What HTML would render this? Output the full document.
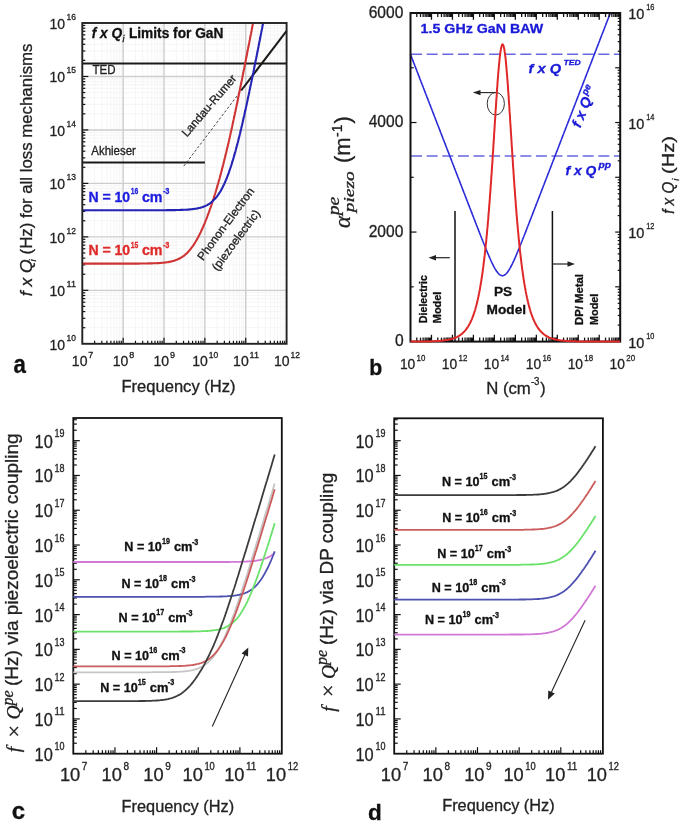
<!DOCTYPE html>
<html><head><meta charset="utf-8"><style>html,body{margin:0;padding:0;background:#fff;}svg{display:block;filter:blur(0.3px);}text{stroke-width:0.3px;}</style></head>
<body>
<svg width="685" height="825" viewBox="0 0 685 825">
<rect width="685" height="825" fill="#fff"/>
<defs><clipPath id="clipA"><rect x="82.3" y="23.0" width="204.3" height="320.8"/></clipPath></defs>
<line x1="94.60" y1="23.00" x2="94.60" y2="343.80" stroke="#f5f5f5" stroke-width="1" />
<line x1="101.80" y1="23.00" x2="101.80" y2="343.80" stroke="#f5f5f5" stroke-width="1" />
<line x1="106.90" y1="23.00" x2="106.90" y2="343.80" stroke="#f5f5f5" stroke-width="1" />
<line x1="110.86" y1="23.00" x2="110.86" y2="343.80" stroke="#f5f5f5" stroke-width="1" />
<line x1="114.10" y1="23.00" x2="114.10" y2="343.80" stroke="#f5f5f5" stroke-width="1" />
<line x1="116.83" y1="23.00" x2="116.83" y2="343.80" stroke="#f5f5f5" stroke-width="1" />
<line x1="119.20" y1="23.00" x2="119.20" y2="343.80" stroke="#f5f5f5" stroke-width="1" />
<line x1="121.29" y1="23.00" x2="121.29" y2="343.80" stroke="#f5f5f5" stroke-width="1" />
<line x1="135.46" y1="23.00" x2="135.46" y2="343.80" stroke="#f5f5f5" stroke-width="1" />
<line x1="142.66" y1="23.00" x2="142.66" y2="343.80" stroke="#f5f5f5" stroke-width="1" />
<line x1="147.76" y1="23.00" x2="147.76" y2="343.80" stroke="#f5f5f5" stroke-width="1" />
<line x1="151.72" y1="23.00" x2="151.72" y2="343.80" stroke="#f5f5f5" stroke-width="1" />
<line x1="154.96" y1="23.00" x2="154.96" y2="343.80" stroke="#f5f5f5" stroke-width="1" />
<line x1="157.69" y1="23.00" x2="157.69" y2="343.80" stroke="#f5f5f5" stroke-width="1" />
<line x1="160.06" y1="23.00" x2="160.06" y2="343.80" stroke="#f5f5f5" stroke-width="1" />
<line x1="162.15" y1="23.00" x2="162.15" y2="343.80" stroke="#f5f5f5" stroke-width="1" />
<line x1="176.32" y1="23.00" x2="176.32" y2="343.80" stroke="#f5f5f5" stroke-width="1" />
<line x1="183.52" y1="23.00" x2="183.52" y2="343.80" stroke="#f5f5f5" stroke-width="1" />
<line x1="188.62" y1="23.00" x2="188.62" y2="343.80" stroke="#f5f5f5" stroke-width="1" />
<line x1="192.58" y1="23.00" x2="192.58" y2="343.80" stroke="#f5f5f5" stroke-width="1" />
<line x1="195.82" y1="23.00" x2="195.82" y2="343.80" stroke="#f5f5f5" stroke-width="1" />
<line x1="198.55" y1="23.00" x2="198.55" y2="343.80" stroke="#f5f5f5" stroke-width="1" />
<line x1="200.92" y1="23.00" x2="200.92" y2="343.80" stroke="#f5f5f5" stroke-width="1" />
<line x1="203.01" y1="23.00" x2="203.01" y2="343.80" stroke="#f5f5f5" stroke-width="1" />
<line x1="217.18" y1="23.00" x2="217.18" y2="343.80" stroke="#f5f5f5" stroke-width="1" />
<line x1="224.38" y1="23.00" x2="224.38" y2="343.80" stroke="#f5f5f5" stroke-width="1" />
<line x1="229.48" y1="23.00" x2="229.48" y2="343.80" stroke="#f5f5f5" stroke-width="1" />
<line x1="233.44" y1="23.00" x2="233.44" y2="343.80" stroke="#f5f5f5" stroke-width="1" />
<line x1="236.68" y1="23.00" x2="236.68" y2="343.80" stroke="#f5f5f5" stroke-width="1" />
<line x1="239.41" y1="23.00" x2="239.41" y2="343.80" stroke="#f5f5f5" stroke-width="1" />
<line x1="241.78" y1="23.00" x2="241.78" y2="343.80" stroke="#f5f5f5" stroke-width="1" />
<line x1="243.87" y1="23.00" x2="243.87" y2="343.80" stroke="#f5f5f5" stroke-width="1" />
<line x1="258.04" y1="23.00" x2="258.04" y2="343.80" stroke="#f5f5f5" stroke-width="1" />
<line x1="265.24" y1="23.00" x2="265.24" y2="343.80" stroke="#f5f5f5" stroke-width="1" />
<line x1="270.34" y1="23.00" x2="270.34" y2="343.80" stroke="#f5f5f5" stroke-width="1" />
<line x1="274.30" y1="23.00" x2="274.30" y2="343.80" stroke="#f5f5f5" stroke-width="1" />
<line x1="277.54" y1="23.00" x2="277.54" y2="343.80" stroke="#f5f5f5" stroke-width="1" />
<line x1="280.27" y1="23.00" x2="280.27" y2="343.80" stroke="#f5f5f5" stroke-width="1" />
<line x1="282.64" y1="23.00" x2="282.64" y2="343.80" stroke="#f5f5f5" stroke-width="1" />
<line x1="284.73" y1="23.00" x2="284.73" y2="343.80" stroke="#f5f5f5" stroke-width="1" />
<line x1="82.30" y1="327.70" x2="286.60" y2="327.70" stroke="#f5f5f5" stroke-width="1" />
<line x1="82.30" y1="318.29" x2="286.60" y2="318.29" stroke="#f5f5f5" stroke-width="1" />
<line x1="82.30" y1="311.61" x2="286.60" y2="311.61" stroke="#f5f5f5" stroke-width="1" />
<line x1="82.30" y1="306.43" x2="286.60" y2="306.43" stroke="#f5f5f5" stroke-width="1" />
<line x1="82.30" y1="302.19" x2="286.60" y2="302.19" stroke="#f5f5f5" stroke-width="1" />
<line x1="82.30" y1="298.62" x2="286.60" y2="298.62" stroke="#f5f5f5" stroke-width="1" />
<line x1="82.30" y1="295.51" x2="286.60" y2="295.51" stroke="#f5f5f5" stroke-width="1" />
<line x1="82.30" y1="292.78" x2="286.60" y2="292.78" stroke="#f5f5f5" stroke-width="1" />
<line x1="82.30" y1="274.24" x2="286.60" y2="274.24" stroke="#f5f5f5" stroke-width="1" />
<line x1="82.30" y1="264.82" x2="286.60" y2="264.82" stroke="#f5f5f5" stroke-width="1" />
<line x1="82.30" y1="258.14" x2="286.60" y2="258.14" stroke="#f5f5f5" stroke-width="1" />
<line x1="82.30" y1="252.96" x2="286.60" y2="252.96" stroke="#f5f5f5" stroke-width="1" />
<line x1="82.30" y1="248.73" x2="286.60" y2="248.73" stroke="#f5f5f5" stroke-width="1" />
<line x1="82.30" y1="245.15" x2="286.60" y2="245.15" stroke="#f5f5f5" stroke-width="1" />
<line x1="82.30" y1="242.05" x2="286.60" y2="242.05" stroke="#f5f5f5" stroke-width="1" />
<line x1="82.30" y1="239.31" x2="286.60" y2="239.31" stroke="#f5f5f5" stroke-width="1" />
<line x1="82.30" y1="220.77" x2="286.60" y2="220.77" stroke="#f5f5f5" stroke-width="1" />
<line x1="82.30" y1="211.36" x2="286.60" y2="211.36" stroke="#f5f5f5" stroke-width="1" />
<line x1="82.30" y1="204.68" x2="286.60" y2="204.68" stroke="#f5f5f5" stroke-width="1" />
<line x1="82.30" y1="199.50" x2="286.60" y2="199.50" stroke="#f5f5f5" stroke-width="1" />
<line x1="82.30" y1="195.26" x2="286.60" y2="195.26" stroke="#f5f5f5" stroke-width="1" />
<line x1="82.30" y1="191.68" x2="286.60" y2="191.68" stroke="#f5f5f5" stroke-width="1" />
<line x1="82.30" y1="188.58" x2="286.60" y2="188.58" stroke="#f5f5f5" stroke-width="1" />
<line x1="82.30" y1="185.85" x2="286.60" y2="185.85" stroke="#f5f5f5" stroke-width="1" />
<line x1="82.30" y1="167.30" x2="286.60" y2="167.30" stroke="#f5f5f5" stroke-width="1" />
<line x1="82.30" y1="157.89" x2="286.60" y2="157.89" stroke="#f5f5f5" stroke-width="1" />
<line x1="82.30" y1="151.21" x2="286.60" y2="151.21" stroke="#f5f5f5" stroke-width="1" />
<line x1="82.30" y1="146.03" x2="286.60" y2="146.03" stroke="#f5f5f5" stroke-width="1" />
<line x1="82.30" y1="141.79" x2="286.60" y2="141.79" stroke="#f5f5f5" stroke-width="1" />
<line x1="82.30" y1="138.22" x2="286.60" y2="138.22" stroke="#f5f5f5" stroke-width="1" />
<line x1="82.30" y1="135.11" x2="286.60" y2="135.11" stroke="#f5f5f5" stroke-width="1" />
<line x1="82.30" y1="132.38" x2="286.60" y2="132.38" stroke="#f5f5f5" stroke-width="1" />
<line x1="82.30" y1="113.84" x2="286.60" y2="113.84" stroke="#f5f5f5" stroke-width="1" />
<line x1="82.30" y1="104.42" x2="286.60" y2="104.42" stroke="#f5f5f5" stroke-width="1" />
<line x1="82.30" y1="97.74" x2="286.60" y2="97.74" stroke="#f5f5f5" stroke-width="1" />
<line x1="82.30" y1="92.56" x2="286.60" y2="92.56" stroke="#f5f5f5" stroke-width="1" />
<line x1="82.30" y1="88.33" x2="286.60" y2="88.33" stroke="#f5f5f5" stroke-width="1" />
<line x1="82.30" y1="84.75" x2="286.60" y2="84.75" stroke="#f5f5f5" stroke-width="1" />
<line x1="82.30" y1="81.65" x2="286.60" y2="81.65" stroke="#f5f5f5" stroke-width="1" />
<line x1="82.30" y1="78.91" x2="286.60" y2="78.91" stroke="#f5f5f5" stroke-width="1" />
<line x1="82.30" y1="60.37" x2="286.60" y2="60.37" stroke="#f5f5f5" stroke-width="1" />
<line x1="82.30" y1="50.96" x2="286.60" y2="50.96" stroke="#f5f5f5" stroke-width="1" />
<line x1="82.30" y1="44.28" x2="286.60" y2="44.28" stroke="#f5f5f5" stroke-width="1" />
<line x1="82.30" y1="39.10" x2="286.60" y2="39.10" stroke="#f5f5f5" stroke-width="1" />
<line x1="82.30" y1="34.86" x2="286.60" y2="34.86" stroke="#f5f5f5" stroke-width="1" />
<line x1="82.30" y1="31.28" x2="286.60" y2="31.28" stroke="#f5f5f5" stroke-width="1" />
<line x1="82.30" y1="28.18" x2="286.60" y2="28.18" stroke="#f5f5f5" stroke-width="1" />
<line x1="82.30" y1="25.45" x2="286.60" y2="25.45" stroke="#f5f5f5" stroke-width="1" />
<line x1="123.16" y1="23.00" x2="123.16" y2="343.80" stroke="#cdcdcd" stroke-width="1.4" />
<line x1="164.02" y1="23.00" x2="164.02" y2="343.80" stroke="#cdcdcd" stroke-width="1.4" />
<line x1="204.88" y1="23.00" x2="204.88" y2="343.80" stroke="#cdcdcd" stroke-width="1.4" />
<line x1="245.74" y1="23.00" x2="245.74" y2="343.80" stroke="#cdcdcd" stroke-width="1.4" />
<line x1="82.30" y1="290.33" x2="286.60" y2="290.33" stroke="#cdcdcd" stroke-width="1.4" />
<line x1="82.30" y1="236.87" x2="286.60" y2="236.87" stroke="#cdcdcd" stroke-width="1.4" />
<line x1="82.30" y1="183.40" x2="286.60" y2="183.40" stroke="#cdcdcd" stroke-width="1.4" />
<line x1="82.30" y1="129.93" x2="286.60" y2="129.93" stroke="#cdcdcd" stroke-width="1.4" />
<line x1="82.30" y1="76.47" x2="286.60" y2="76.47" stroke="#cdcdcd" stroke-width="1.4" />
<line x1="94.60" y1="343.80" x2="94.60" y2="340.80" stroke="#111" stroke-width="1.2" />
<line x1="101.80" y1="343.80" x2="101.80" y2="340.80" stroke="#111" stroke-width="1.2" />
<line x1="106.90" y1="343.80" x2="106.90" y2="340.80" stroke="#111" stroke-width="1.2" />
<line x1="110.86" y1="343.80" x2="110.86" y2="340.80" stroke="#111" stroke-width="1.2" />
<line x1="114.10" y1="343.80" x2="114.10" y2="340.80" stroke="#111" stroke-width="1.2" />
<line x1="116.83" y1="343.80" x2="116.83" y2="340.80" stroke="#111" stroke-width="1.2" />
<line x1="119.20" y1="343.80" x2="119.20" y2="340.80" stroke="#111" stroke-width="1.2" />
<line x1="121.29" y1="343.80" x2="121.29" y2="340.80" stroke="#111" stroke-width="1.2" />
<line x1="123.16" y1="343.80" x2="123.16" y2="337.80" stroke="#111" stroke-width="1.2" />
<line x1="135.46" y1="343.80" x2="135.46" y2="340.80" stroke="#111" stroke-width="1.2" />
<line x1="142.66" y1="343.80" x2="142.66" y2="340.80" stroke="#111" stroke-width="1.2" />
<line x1="147.76" y1="343.80" x2="147.76" y2="340.80" stroke="#111" stroke-width="1.2" />
<line x1="151.72" y1="343.80" x2="151.72" y2="340.80" stroke="#111" stroke-width="1.2" />
<line x1="154.96" y1="343.80" x2="154.96" y2="340.80" stroke="#111" stroke-width="1.2" />
<line x1="157.69" y1="343.80" x2="157.69" y2="340.80" stroke="#111" stroke-width="1.2" />
<line x1="160.06" y1="343.80" x2="160.06" y2="340.80" stroke="#111" stroke-width="1.2" />
<line x1="162.15" y1="343.80" x2="162.15" y2="340.80" stroke="#111" stroke-width="1.2" />
<line x1="164.02" y1="343.80" x2="164.02" y2="337.80" stroke="#111" stroke-width="1.2" />
<line x1="176.32" y1="343.80" x2="176.32" y2="340.80" stroke="#111" stroke-width="1.2" />
<line x1="183.52" y1="343.80" x2="183.52" y2="340.80" stroke="#111" stroke-width="1.2" />
<line x1="188.62" y1="343.80" x2="188.62" y2="340.80" stroke="#111" stroke-width="1.2" />
<line x1="192.58" y1="343.80" x2="192.58" y2="340.80" stroke="#111" stroke-width="1.2" />
<line x1="195.82" y1="343.80" x2="195.82" y2="340.80" stroke="#111" stroke-width="1.2" />
<line x1="198.55" y1="343.80" x2="198.55" y2="340.80" stroke="#111" stroke-width="1.2" />
<line x1="200.92" y1="343.80" x2="200.92" y2="340.80" stroke="#111" stroke-width="1.2" />
<line x1="203.01" y1="343.80" x2="203.01" y2="340.80" stroke="#111" stroke-width="1.2" />
<line x1="204.88" y1="343.80" x2="204.88" y2="337.80" stroke="#111" stroke-width="1.2" />
<line x1="217.18" y1="343.80" x2="217.18" y2="340.80" stroke="#111" stroke-width="1.2" />
<line x1="224.38" y1="343.80" x2="224.38" y2="340.80" stroke="#111" stroke-width="1.2" />
<line x1="229.48" y1="343.80" x2="229.48" y2="340.80" stroke="#111" stroke-width="1.2" />
<line x1="233.44" y1="343.80" x2="233.44" y2="340.80" stroke="#111" stroke-width="1.2" />
<line x1="236.68" y1="343.80" x2="236.68" y2="340.80" stroke="#111" stroke-width="1.2" />
<line x1="239.41" y1="343.80" x2="239.41" y2="340.80" stroke="#111" stroke-width="1.2" />
<line x1="241.78" y1="343.80" x2="241.78" y2="340.80" stroke="#111" stroke-width="1.2" />
<line x1="243.87" y1="343.80" x2="243.87" y2="340.80" stroke="#111" stroke-width="1.2" />
<line x1="245.74" y1="343.80" x2="245.74" y2="337.80" stroke="#111" stroke-width="1.2" />
<line x1="258.04" y1="343.80" x2="258.04" y2="340.80" stroke="#111" stroke-width="1.2" />
<line x1="265.24" y1="343.80" x2="265.24" y2="340.80" stroke="#111" stroke-width="1.2" />
<line x1="270.34" y1="343.80" x2="270.34" y2="340.80" stroke="#111" stroke-width="1.2" />
<line x1="274.30" y1="343.80" x2="274.30" y2="340.80" stroke="#111" stroke-width="1.2" />
<line x1="277.54" y1="343.80" x2="277.54" y2="340.80" stroke="#111" stroke-width="1.2" />
<line x1="280.27" y1="343.80" x2="280.27" y2="340.80" stroke="#111" stroke-width="1.2" />
<line x1="282.64" y1="343.80" x2="282.64" y2="340.80" stroke="#111" stroke-width="1.2" />
<line x1="284.73" y1="343.80" x2="284.73" y2="340.80" stroke="#111" stroke-width="1.2" />
<line x1="82.30" y1="327.70" x2="85.30" y2="327.70" stroke="#111" stroke-width="1.2" />
<line x1="82.30" y1="318.29" x2="85.30" y2="318.29" stroke="#111" stroke-width="1.2" />
<line x1="82.30" y1="311.61" x2="85.30" y2="311.61" stroke="#111" stroke-width="1.2" />
<line x1="82.30" y1="306.43" x2="85.30" y2="306.43" stroke="#111" stroke-width="1.2" />
<line x1="82.30" y1="302.19" x2="85.30" y2="302.19" stroke="#111" stroke-width="1.2" />
<line x1="82.30" y1="298.62" x2="85.30" y2="298.62" stroke="#111" stroke-width="1.2" />
<line x1="82.30" y1="295.51" x2="85.30" y2="295.51" stroke="#111" stroke-width="1.2" />
<line x1="82.30" y1="292.78" x2="85.30" y2="292.78" stroke="#111" stroke-width="1.2" />
<line x1="82.30" y1="290.33" x2="88.30" y2="290.33" stroke="#111" stroke-width="1.2" />
<line x1="82.30" y1="274.24" x2="85.30" y2="274.24" stroke="#111" stroke-width="1.2" />
<line x1="82.30" y1="264.82" x2="85.30" y2="264.82" stroke="#111" stroke-width="1.2" />
<line x1="82.30" y1="258.14" x2="85.30" y2="258.14" stroke="#111" stroke-width="1.2" />
<line x1="82.30" y1="252.96" x2="85.30" y2="252.96" stroke="#111" stroke-width="1.2" />
<line x1="82.30" y1="248.73" x2="85.30" y2="248.73" stroke="#111" stroke-width="1.2" />
<line x1="82.30" y1="245.15" x2="85.30" y2="245.15" stroke="#111" stroke-width="1.2" />
<line x1="82.30" y1="242.05" x2="85.30" y2="242.05" stroke="#111" stroke-width="1.2" />
<line x1="82.30" y1="239.31" x2="85.30" y2="239.31" stroke="#111" stroke-width="1.2" />
<line x1="82.30" y1="236.87" x2="88.30" y2="236.87" stroke="#111" stroke-width="1.2" />
<line x1="82.30" y1="220.77" x2="85.30" y2="220.77" stroke="#111" stroke-width="1.2" />
<line x1="82.30" y1="211.36" x2="85.30" y2="211.36" stroke="#111" stroke-width="1.2" />
<line x1="82.30" y1="204.68" x2="85.30" y2="204.68" stroke="#111" stroke-width="1.2" />
<line x1="82.30" y1="199.50" x2="85.30" y2="199.50" stroke="#111" stroke-width="1.2" />
<line x1="82.30" y1="195.26" x2="85.30" y2="195.26" stroke="#111" stroke-width="1.2" />
<line x1="82.30" y1="191.68" x2="85.30" y2="191.68" stroke="#111" stroke-width="1.2" />
<line x1="82.30" y1="188.58" x2="85.30" y2="188.58" stroke="#111" stroke-width="1.2" />
<line x1="82.30" y1="185.85" x2="85.30" y2="185.85" stroke="#111" stroke-width="1.2" />
<line x1="82.30" y1="183.40" x2="88.30" y2="183.40" stroke="#111" stroke-width="1.2" />
<line x1="82.30" y1="167.30" x2="85.30" y2="167.30" stroke="#111" stroke-width="1.2" />
<line x1="82.30" y1="157.89" x2="85.30" y2="157.89" stroke="#111" stroke-width="1.2" />
<line x1="82.30" y1="151.21" x2="85.30" y2="151.21" stroke="#111" stroke-width="1.2" />
<line x1="82.30" y1="146.03" x2="85.30" y2="146.03" stroke="#111" stroke-width="1.2" />
<line x1="82.30" y1="141.79" x2="85.30" y2="141.79" stroke="#111" stroke-width="1.2" />
<line x1="82.30" y1="138.22" x2="85.30" y2="138.22" stroke="#111" stroke-width="1.2" />
<line x1="82.30" y1="135.11" x2="85.30" y2="135.11" stroke="#111" stroke-width="1.2" />
<line x1="82.30" y1="132.38" x2="85.30" y2="132.38" stroke="#111" stroke-width="1.2" />
<line x1="82.30" y1="129.93" x2="88.30" y2="129.93" stroke="#111" stroke-width="1.2" />
<line x1="82.30" y1="113.84" x2="85.30" y2="113.84" stroke="#111" stroke-width="1.2" />
<line x1="82.30" y1="104.42" x2="85.30" y2="104.42" stroke="#111" stroke-width="1.2" />
<line x1="82.30" y1="97.74" x2="85.30" y2="97.74" stroke="#111" stroke-width="1.2" />
<line x1="82.30" y1="92.56" x2="85.30" y2="92.56" stroke="#111" stroke-width="1.2" />
<line x1="82.30" y1="88.33" x2="85.30" y2="88.33" stroke="#111" stroke-width="1.2" />
<line x1="82.30" y1="84.75" x2="85.30" y2="84.75" stroke="#111" stroke-width="1.2" />
<line x1="82.30" y1="81.65" x2="85.30" y2="81.65" stroke="#111" stroke-width="1.2" />
<line x1="82.30" y1="78.91" x2="85.30" y2="78.91" stroke="#111" stroke-width="1.2" />
<line x1="82.30" y1="76.47" x2="88.30" y2="76.47" stroke="#111" stroke-width="1.2" />
<line x1="82.30" y1="60.37" x2="85.30" y2="60.37" stroke="#111" stroke-width="1.2" />
<line x1="82.30" y1="50.96" x2="85.30" y2="50.96" stroke="#111" stroke-width="1.2" />
<line x1="82.30" y1="44.28" x2="85.30" y2="44.28" stroke="#111" stroke-width="1.2" />
<line x1="82.30" y1="39.10" x2="85.30" y2="39.10" stroke="#111" stroke-width="1.2" />
<line x1="82.30" y1="34.86" x2="85.30" y2="34.86" stroke="#111" stroke-width="1.2" />
<line x1="82.30" y1="31.28" x2="85.30" y2="31.28" stroke="#111" stroke-width="1.2" />
<line x1="82.30" y1="28.18" x2="85.30" y2="28.18" stroke="#111" stroke-width="1.2" />
<line x1="82.30" y1="25.45" x2="85.30" y2="25.45" stroke="#111" stroke-width="1.2" />
<line x1="82.30" y1="63.60" x2="286.60" y2="63.60" stroke="#1a1a1a" stroke-width="2" />
<line x1="82.30" y1="162.50" x2="204.88" y2="162.50" stroke="#1a1a1a" stroke-width="2" />
<line x1="183.80" y1="166.10" x2="241.20" y2="90.50" stroke="#444" stroke-width="1" stroke-dasharray="2.5,2"/>
<line x1="241.20" y1="90.50" x2="286.60" y2="30.80" stroke="#1a1a1a" stroke-width="2" />
<path d="M82.3,263.6 83.1,263.6 83.8,263.6 84.6,263.6 85.4,263.6 86.1,263.6 86.9,263.6 87.7,263.6 88.4,263.6 89.2,263.6 90.0,263.6 90.7,263.6 91.5,263.6 92.3,263.6 93.0,263.6 93.8,263.6 94.6,263.6 95.3,263.6 96.1,263.6 96.9,263.6 97.6,263.6 98.4,263.6 99.2,263.6 99.9,263.6 100.7,263.6 101.5,263.6 102.2,263.6 103.0,263.6 103.8,263.6 104.5,263.6 105.3,263.6 106.1,263.6 106.8,263.6 107.6,263.6 108.4,263.6 109.1,263.6 109.9,263.6 110.7,263.6 111.4,263.6 112.2,263.6 113.0,263.6 113.8,263.6 114.5,263.6 115.3,263.6 116.1,263.6 116.8,263.6 117.6,263.6 118.4,263.6 119.1,263.6 119.9,263.6 120.7,263.6 121.4,263.6 122.2,263.6 123.0,263.6 123.7,263.6 124.5,263.6 125.3,263.6 126.0,263.6 126.8,263.6 127.6,263.6 128.3,263.6 129.1,263.6 129.9,263.6 130.6,263.6 131.4,263.6 132.2,263.6 132.9,263.6 133.7,263.6 134.5,263.6 135.2,263.6 136.0,263.6 136.8,263.6 137.5,263.6 138.3,263.6 139.1,263.6 139.8,263.5 140.6,263.5 141.4,263.5 142.1,263.5 142.9,263.5 143.7,263.5 144.4,263.5 145.2,263.5 146.0,263.5 146.7,263.5 147.5,263.5 148.3,263.4 149.0,263.4 149.8,263.4 150.6,263.4 151.3,263.4 152.1,263.4 152.9,263.3 153.6,263.3 154.4,263.3 155.2,263.2 155.9,263.2 156.7,263.2 157.5,263.1 158.2,263.1 159.0,263.1 159.8,263.0 160.5,263.0 161.3,262.9 162.1,262.8 162.8,262.8 163.6,262.7 164.4,262.6 165.1,262.5 165.9,262.4 166.7,262.3 167.4,262.2 168.2,262.1 169.0,261.9 169.7,261.8 170.5,261.6 171.3,261.5 172.0,261.3 172.8,261.1 173.6,260.9 174.4,260.6 175.1,260.4 175.9,260.1 176.4,259.9 176.9,259.7 177.4,259.5 177.9,259.3 178.4,259.0 179.0,258.8 179.5,258.5 180.0,258.3 180.5,258.0 181.0,257.7 181.5,257.4 182.0,257.0 182.5,256.7 183.0,256.3 183.6,256.0 184.1,255.6 184.6,255.2 185.1,254.8 185.6,254.3 186.1,253.9 186.6,253.4 187.1,252.9 187.6,252.4 188.2,251.8 188.7,251.3 189.2,250.7 189.7,250.1 190.2,249.5 190.7,248.9 191.2,248.2 191.7,247.5 192.2,246.8 192.8,246.1 193.3,245.4 193.8,244.6 194.3,243.8 194.8,243.0 195.3,242.2 195.8,241.3 196.3,240.5 196.6,240.0 196.9,239.6 197.1,239.1 197.4,238.6 197.6,238.2 197.9,237.7 198.1,237.2 198.4,236.7 198.6,236.2 198.9,235.7 199.2,235.2 199.4,234.7 199.7,234.2 199.9,233.7 200.2,233.2 200.4,232.7 200.7,232.1 200.9,231.6 201.2,231.0 201.5,230.5 201.7,229.9 202.0,229.4 202.2,228.8 202.5,228.2 202.7,227.7 203.0,227.1 203.2,226.5 203.5,225.9 203.8,225.3 204.0,224.7 204.3,224.1 204.5,223.5 204.8,222.9 205.0,222.3 205.3,221.6 205.5,221.0 205.8,220.4 206.1,219.7 206.3,219.1 206.6,218.4 206.8,217.8 207.1,217.1 207.3,216.4 207.6,215.7 207.8,215.1 208.1,214.4 208.4,213.7 208.6,213.0 208.9,212.3 209.1,211.6 209.4,210.9 209.6,210.2 209.9,209.5 210.1,208.7 210.4,208.0 210.7,207.3 210.9,206.5 211.2,205.8 211.4,205.0 211.7,204.3 211.9,203.5 212.2,202.7 212.4,202.0 212.7,201.2 213.0,200.4 213.2,199.6 213.5,198.8 213.7,198.0 214.0,197.2 214.2,196.4 214.5,195.6 214.7,194.8 215.0,194.0 215.3,193.1 215.5,192.3 215.8,191.5 216.0,190.6 216.3,189.8 216.5,188.9 216.8,188.0 217.1,187.2 217.3,186.3 217.6,185.4 217.8,184.5 218.1,183.6 218.3,182.7 218.6,181.8 218.8,180.9 219.1,180.0 219.4,179.1 219.6,178.2 219.9,177.2 220.1,176.3 220.4,175.4 220.6,174.4 220.9,173.5 221.1,172.5 221.4,171.6 221.7,170.6 221.9,169.6 222.2,168.6 222.4,167.6 222.7,166.7 222.9,165.7 223.2,164.7 223.4,163.7 223.7,162.6 224.0,161.6 224.2,160.6 224.5,159.6 224.7,158.5 225.0,157.5 225.2,156.5 225.5,155.4 225.7,154.4 226.0,153.3 226.3,152.2 226.5,151.2 226.8,150.1 227.0,149.0 227.3,147.9 227.5,146.9 227.8,145.8 228.0,144.7 228.3,143.6 228.6,142.5 228.8,141.3 229.1,140.2 229.3,139.1 229.6,138.0 229.8,136.9 230.1,135.7 230.3,134.6 230.6,133.4 230.9,132.3 231.1,131.2 231.4,130.0 231.6,128.8 231.9,127.7 232.1,126.5 232.4,125.3 232.6,124.2 232.9,123.0 233.2,121.8 233.4,120.6 233.7,119.4 233.9,118.3 234.2,117.1 234.4,115.9 234.7,114.7 234.9,113.5 235.2,112.3 235.5,111.0 235.7,109.8 236.0,108.6 236.2,107.4 236.5,106.2 236.7,105.0 237.0,103.7 237.3,102.5 237.5,101.3 237.8,100.0 238.0,98.8 238.3,97.6 238.5,96.3 238.8,95.1 239.0,93.8 239.3,92.6 239.6,91.3 239.8,90.1 240.1,88.8 240.3,87.5 240.6,86.3 240.8,85.0 241.1,83.8 241.3,82.5 241.6,81.2 241.9,80.0 242.1,78.7 242.4,77.4 242.6,76.1 242.9,74.9 243.1,73.6 243.4,72.3 243.6,71.0 243.9,69.7 244.2,68.5 244.4,67.2 244.7,65.9 244.9,64.6 245.2,63.3 245.4,62.0 245.7,60.7 245.9,59.4 246.2,58.1 246.5,56.8 246.7,55.5 247.0,54.2 247.2,52.9 247.5,51.6 247.7,50.3 248.0,49.0 248.2,47.7 248.5,46.4 248.8,45.1 249.0,43.8 249.3,42.5 249.5,41.2 249.8,39.9 250.0,38.6 250.3,37.3 250.5,36.0 250.8,34.7 251.1,33.4 251.3,32.0 251.6,30.7 251.8,29.4 252.1,28.1 252.3,26.8 252.6,25.5 252.8,24.1 253.1,22.8 253.4,21.5 253.6,20.2 253.9,18.9 254.1,17.7" fill="none" stroke="#cf3434" stroke-width="2.1" clip-path="url(#clipA)"/>
<path d="M82.3,210.2 83.1,210.2 83.8,210.2 84.6,210.2 85.4,210.2 86.1,210.2 86.9,210.2 87.7,210.2 88.4,210.2 89.2,210.2 90.0,210.2 90.7,210.2 91.5,210.2 92.3,210.2 93.0,210.2 93.8,210.2 94.6,210.2 95.3,210.2 96.1,210.2 96.9,210.2 97.6,210.2 98.4,210.2 99.2,210.2 99.9,210.2 100.7,210.2 101.5,210.2 102.2,210.2 103.0,210.2 103.8,210.2 104.5,210.2 105.3,210.2 106.1,210.2 106.8,210.2 107.6,210.2 108.4,210.2 109.1,210.2 109.9,210.2 110.7,210.2 111.4,210.2 112.2,210.2 113.0,210.2 113.8,210.2 114.5,210.2 115.3,210.2 116.1,210.2 116.8,210.2 117.6,210.2 118.4,210.2 119.1,210.2 119.9,210.2 120.7,210.2 121.4,210.2 122.2,210.2 123.0,210.2 123.7,210.2 124.5,210.2 125.3,210.2 126.0,210.2 126.8,210.2 127.6,210.2 128.3,210.2 129.1,210.2 129.9,210.2 130.6,210.2 131.4,210.2 132.2,210.2 132.9,210.2 133.7,210.2 134.5,210.2 135.2,210.2 136.0,210.2 136.8,210.2 137.5,210.2 138.3,210.2 139.1,210.2 139.8,210.2 140.6,210.2 141.4,210.2 142.1,210.2 142.9,210.2 143.7,210.2 144.4,210.2 145.2,210.2 146.0,210.2 146.7,210.2 147.5,210.2 148.3,210.2 149.0,210.2 149.8,210.2 150.6,210.2 151.3,210.2 152.1,210.2 152.9,210.2 153.6,210.2 154.4,210.2 155.2,210.2 155.9,210.2 156.7,210.2 157.5,210.2 158.2,210.2 159.0,210.2 159.8,210.2 160.5,210.2 161.3,210.2 162.1,210.2 162.8,210.2 163.6,210.2 164.4,210.2 165.1,210.2 165.9,210.2 166.7,210.1 167.4,210.1 168.2,210.1 169.0,210.1 169.7,210.1 170.5,210.1 171.3,210.1 172.0,210.1 172.8,210.1 173.6,210.1 174.4,210.1 175.1,210.1 175.9,210.0 176.7,210.0 177.4,210.0 178.2,210.0 179.0,210.0 179.7,210.0 180.5,209.9 181.3,209.9 182.0,209.9 182.8,209.9 183.6,209.8 184.3,209.8 185.1,209.7 185.9,209.7 186.6,209.7 187.4,209.6 188.2,209.6 188.9,209.5 189.7,209.4 190.5,209.4 191.2,209.3 192.0,209.2 192.8,209.1 193.5,209.0 194.3,208.9 195.1,208.8 195.8,208.7 196.6,208.6 197.4,208.4 198.1,208.3 198.9,208.1 199.7,207.9 200.4,207.7 201.2,207.5 202.0,207.3 202.7,207.0 203.5,206.7 204.0,206.5 204.5,206.3 205.0,206.1 205.5,205.9 206.1,205.6 206.6,205.4 207.1,205.1 207.6,204.8 208.1,204.5 208.6,204.2 209.1,203.9 209.6,203.6 210.1,203.2 210.7,202.8 211.2,202.4 211.7,202.0 212.2,201.6 212.7,201.1 213.2,200.6 213.7,200.1 214.2,199.6 214.7,199.1 215.3,198.5 215.8,197.9 216.3,197.3 216.8,196.7 217.3,196.0 217.8,195.3 218.3,194.6 218.8,193.8 219.4,193.0 219.9,192.2 220.4,191.4 220.9,190.5 221.1,190.0 221.4,189.6 221.7,189.1 221.9,188.6 222.2,188.1 222.4,187.7 222.7,187.2 222.9,186.6 223.2,186.1 223.4,185.6 223.7,185.1 224.0,184.5 224.2,184.0 224.5,183.4 224.7,182.9 225.0,182.3 225.2,181.7 225.5,181.1 225.7,180.5 226.0,179.9 226.3,179.3 226.5,178.6 226.8,178.0 227.0,177.3 227.3,176.7 227.5,176.0 227.8,175.4 228.0,174.7 228.3,174.0 228.6,173.3 228.8,172.6 229.1,171.9 229.3,171.1 229.6,170.4 229.8,169.6 230.1,168.9 230.3,168.1 230.6,167.4 230.9,166.6 231.1,165.8 231.4,165.0 231.6,164.2 231.9,163.4 232.1,162.6 232.4,161.7 232.6,160.9 232.9,160.1 233.2,159.2 233.4,158.3 233.7,157.5 233.9,156.6 234.2,155.7 234.4,154.8 234.7,153.9 234.9,153.0 235.2,152.1 235.5,151.1 235.7,150.2 236.0,149.3 236.2,148.3 236.5,147.4 236.7,146.4 237.0,145.4 237.3,144.4 237.5,143.5 237.8,142.5 238.0,141.5 238.3,140.5 238.5,139.5 238.8,138.4 239.0,137.4 239.3,136.4 239.6,135.3 239.8,134.3 240.1,133.2 240.3,132.2 240.6,131.1 240.8,130.1 241.1,129.0 241.3,127.9 241.6,126.8 241.9,125.7 242.1,124.6 242.4,123.5 242.6,122.4 242.9,121.3 243.1,120.2 243.4,119.1 243.6,117.9 243.9,116.8 244.2,115.7 244.4,114.5 244.7,113.4 244.9,112.2 245.2,111.1 245.4,109.9 245.7,108.7 245.9,107.6 246.2,106.4 246.5,105.2 246.7,104.0 247.0,102.8 247.2,101.7 247.5,100.5 247.7,99.3 248.0,98.1 248.2,96.9 248.5,95.7 248.8,94.5 249.0,93.2 249.3,92.0 249.5,90.8 249.8,89.6 250.0,88.4 250.3,87.1 250.5,85.9 250.8,84.7 251.1,83.4 251.3,82.2 251.6,81.0 251.8,79.7 252.1,78.5 252.3,77.2 252.6,76.0 252.8,74.7 253.1,73.5 253.4,72.2 253.6,70.9 253.9,69.7 254.1,68.4 254.4,67.1 254.6,65.9 254.9,64.6 255.1,63.3 255.4,62.1 255.7,60.8 255.9,59.5 256.2,58.2 256.4,57.0 256.7,55.7 256.9,54.4 257.2,53.1 257.5,51.8 257.7,50.5 258.0,49.2 258.2,47.9 258.5,46.7 258.7,45.4 259.0,44.1 259.2,42.8 259.5,41.5 259.8,40.2 260.0,38.9 260.3,37.6 260.5,36.3 260.8,35.0 261.0,33.7 261.3,32.4 261.5,31.1 261.8,29.8 262.1,28.5 262.3,27.1 262.6,25.8 262.8,24.5 263.1,23.2 263.3,21.9 263.6,20.6 263.8,19.3 264.1,18.0 264.4,17.7" fill="none" stroke="#2424b4" stroke-width="2.1" clip-path="url(#clipA)"/>
<rect x="82.3" y="23.0" width="204.3" height="320.8" fill="none" stroke="#222" stroke-width="1.9"/>
<text x="91.70" y="37.70" font-size="14" text-anchor="start" font-weight="bold" font-style="italic" fill="#111" font-family="Liberation Sans, sans-serif" textLength="30.5" lengthAdjust="spacingAndGlyphs"  stroke="#111">f x Q</text>
<text x="122.60" y="42.00" font-size="9" text-anchor="start" font-weight="normal" font-style="italic" fill="#111" font-family="Liberation Sans, sans-serif"  stroke="#111">i</text>
<text x="128.90" y="37.70" font-size="14" text-anchor="start" font-weight="bold" font-style="normal" fill="#111" font-family="Liberation Sans, sans-serif" textLength="94.5" lengthAdjust="spacingAndGlyphs"  stroke="#111">Limits for GaN</text>
<text x="92.60" y="73.90" font-size="12" text-anchor="start" font-weight="normal" font-style="normal" fill="#222" font-family="Liberation Sans, sans-serif" textLength="23" lengthAdjust="spacingAndGlyphs"  stroke="#222">TED</text>
<text x="91.30" y="155.30" font-size="12" text-anchor="start" font-weight="normal" font-style="normal" fill="#222" font-family="Liberation Sans, sans-serif" textLength="44.5" lengthAdjust="spacingAndGlyphs"  stroke="#222">Akhieser</text>
<text x="0" y="0" transform="translate(186.9,137.6) rotate(-49.5)" font-size="11.6" fill="#222" font-family="Liberation Sans, sans-serif" stroke="#222">Landau-Rumer</text>
<text x="0" y="0" transform="translate(203,261.2) rotate(-53.5)" font-size="11.7" fill="#222" font-family="Liberation Sans, sans-serif" stroke="#222">Phonon-Electron</text>
<text x="0" y="0" transform="translate(217.5,271.5) rotate(-53.5)" font-size="11.6" fill="#222" font-family="Liberation Sans, sans-serif" stroke="#222">(piezoelectric)</text>
<text x="88.40" y="201.90" font-size="14.2" text-anchor="start" font-weight="bold" font-style="normal" fill="#1c1ce0" font-family="Liberation Sans, sans-serif" textLength="41.8" lengthAdjust="spacingAndGlyphs"  stroke="#1c1ce0">N = 10</text>
<text x="130.80" y="194.30" font-size="9.5" text-anchor="start" font-weight="bold" font-style="normal" fill="#1c1ce0" font-family="Liberation Sans, sans-serif" textLength="7.6" lengthAdjust="spacingAndGlyphs"  stroke="#1c1ce0">16</text>
<text x="141.90" y="201.90" font-size="14.2" text-anchor="start" font-weight="bold" font-style="normal" fill="#1c1ce0" font-family="Liberation Sans, sans-serif" textLength="20.6" lengthAdjust="spacingAndGlyphs"  stroke="#1c1ce0">cm</text>
<text x="162.90" y="194.30" font-size="9.5" text-anchor="start" font-weight="bold" font-style="normal" fill="#1c1ce0" font-family="Liberation Sans, sans-serif" textLength="6.6" lengthAdjust="spacingAndGlyphs"  stroke="#1c1ce0">-3</text>
<text x="88.40" y="255.10" font-size="14.2" text-anchor="start" font-weight="bold" font-style="normal" fill="#e02a2a" font-family="Liberation Sans, sans-serif" textLength="41.8" lengthAdjust="spacingAndGlyphs"  stroke="#e02a2a">N = 10</text>
<text x="130.80" y="247.50" font-size="9.5" text-anchor="start" font-weight="bold" font-style="normal" fill="#e02a2a" font-family="Liberation Sans, sans-serif" textLength="7.6" lengthAdjust="spacingAndGlyphs"  stroke="#e02a2a">15</text>
<text x="141.90" y="255.10" font-size="14.2" text-anchor="start" font-weight="bold" font-style="normal" fill="#e02a2a" font-family="Liberation Sans, sans-serif" textLength="20.6" lengthAdjust="spacingAndGlyphs"  stroke="#e02a2a">cm</text>
<text x="162.90" y="247.50" font-size="9.5" text-anchor="start" font-weight="bold" font-style="normal" fill="#e02a2a" font-family="Liberation Sans, sans-serif" textLength="6.6" lengthAdjust="spacingAndGlyphs"  stroke="#e02a2a">-3</text>
<text x="49.40" y="349.60" font-size="15.5" text-anchor="start" font-weight="normal" font-style="normal" fill="#222" font-family="Liberation Sans, sans-serif" textLength="15.6" lengthAdjust="spacingAndGlyphs"  stroke="#222">10</text>
<text x="66.60" y="340.80" font-size="8.6" text-anchor="start" font-weight="normal" font-style="normal" fill="#222" font-family="Liberation Sans, sans-serif" textLength="9.4" lengthAdjust="spacingAndGlyphs"  stroke="#222">10</text>
<text x="49.40" y="296.13" font-size="15.5" text-anchor="start" font-weight="normal" font-style="normal" fill="#222" font-family="Liberation Sans, sans-serif" textLength="15.6" lengthAdjust="spacingAndGlyphs"  stroke="#222">10</text>
<text x="66.60" y="287.33" font-size="8.6" text-anchor="start" font-weight="normal" font-style="normal" fill="#222" font-family="Liberation Sans, sans-serif" textLength="9.4" lengthAdjust="spacingAndGlyphs"  stroke="#222">11</text>
<text x="49.40" y="242.67" font-size="15.5" text-anchor="start" font-weight="normal" font-style="normal" fill="#222" font-family="Liberation Sans, sans-serif" textLength="15.6" lengthAdjust="spacingAndGlyphs"  stroke="#222">10</text>
<text x="66.60" y="233.87" font-size="8.6" text-anchor="start" font-weight="normal" font-style="normal" fill="#222" font-family="Liberation Sans, sans-serif" textLength="9.4" lengthAdjust="spacingAndGlyphs"  stroke="#222">12</text>
<text x="49.40" y="189.20" font-size="15.5" text-anchor="start" font-weight="normal" font-style="normal" fill="#222" font-family="Liberation Sans, sans-serif" textLength="15.6" lengthAdjust="spacingAndGlyphs"  stroke="#222">10</text>
<text x="66.60" y="180.40" font-size="8.6" text-anchor="start" font-weight="normal" font-style="normal" fill="#222" font-family="Liberation Sans, sans-serif" textLength="9.4" lengthAdjust="spacingAndGlyphs"  stroke="#222">13</text>
<text x="49.40" y="135.73" font-size="15.5" text-anchor="start" font-weight="normal" font-style="normal" fill="#222" font-family="Liberation Sans, sans-serif" textLength="15.6" lengthAdjust="spacingAndGlyphs"  stroke="#222">10</text>
<text x="66.60" y="126.93" font-size="8.6" text-anchor="start" font-weight="normal" font-style="normal" fill="#222" font-family="Liberation Sans, sans-serif" textLength="9.4" lengthAdjust="spacingAndGlyphs"  stroke="#222">14</text>
<text x="49.40" y="82.27" font-size="15.5" text-anchor="start" font-weight="normal" font-style="normal" fill="#222" font-family="Liberation Sans, sans-serif" textLength="15.6" lengthAdjust="spacingAndGlyphs"  stroke="#222">10</text>
<text x="66.60" y="73.47" font-size="8.6" text-anchor="start" font-weight="normal" font-style="normal" fill="#222" font-family="Liberation Sans, sans-serif" textLength="9.4" lengthAdjust="spacingAndGlyphs"  stroke="#222">15</text>
<text x="49.40" y="28.80" font-size="15.5" text-anchor="start" font-weight="normal" font-style="normal" fill="#222" font-family="Liberation Sans, sans-serif" textLength="15.6" lengthAdjust="spacingAndGlyphs"  stroke="#222">10</text>
<text x="66.60" y="20.00" font-size="8.6" text-anchor="start" font-weight="normal" font-style="normal" fill="#222" font-family="Liberation Sans, sans-serif" textLength="9.4" lengthAdjust="spacingAndGlyphs"  stroke="#222">16</text>
<text x="71.85" y="365.80" font-size="15.5" text-anchor="start" font-weight="normal" font-style="normal" fill="#222" font-family="Liberation Sans, sans-serif" textLength="15.6" lengthAdjust="spacingAndGlyphs"  stroke="#222">10</text>
<text x="88.35" y="357.80" font-size="8.6" text-anchor="start" font-weight="normal" font-style="normal" fill="#222" font-family="Liberation Sans, sans-serif" textLength="5.0" lengthAdjust="spacingAndGlyphs"  stroke="#222">7</text>
<text x="112.71" y="365.80" font-size="15.5" text-anchor="start" font-weight="normal" font-style="normal" fill="#222" font-family="Liberation Sans, sans-serif" textLength="15.6" lengthAdjust="spacingAndGlyphs"  stroke="#222">10</text>
<text x="129.21" y="357.80" font-size="8.6" text-anchor="start" font-weight="normal" font-style="normal" fill="#222" font-family="Liberation Sans, sans-serif" textLength="5.0" lengthAdjust="spacingAndGlyphs"  stroke="#222">8</text>
<text x="153.57" y="365.80" font-size="15.5" text-anchor="start" font-weight="normal" font-style="normal" fill="#222" font-family="Liberation Sans, sans-serif" textLength="15.6" lengthAdjust="spacingAndGlyphs"  stroke="#222">10</text>
<text x="170.07" y="357.80" font-size="8.6" text-anchor="start" font-weight="normal" font-style="normal" fill="#222" font-family="Liberation Sans, sans-serif" textLength="5.0" lengthAdjust="spacingAndGlyphs"  stroke="#222">9</text>
<text x="192.23" y="365.80" font-size="15.5" text-anchor="start" font-weight="normal" font-style="normal" fill="#222" font-family="Liberation Sans, sans-serif" textLength="15.6" lengthAdjust="spacingAndGlyphs"  stroke="#222">10</text>
<text x="208.73" y="357.80" font-size="8.6" text-anchor="start" font-weight="normal" font-style="normal" fill="#222" font-family="Liberation Sans, sans-serif" textLength="9.4" lengthAdjust="spacingAndGlyphs"  stroke="#222">10</text>
<text x="233.09" y="365.80" font-size="15.5" text-anchor="start" font-weight="normal" font-style="normal" fill="#222" font-family="Liberation Sans, sans-serif" textLength="15.6" lengthAdjust="spacingAndGlyphs"  stroke="#222">10</text>
<text x="249.59" y="357.80" font-size="8.6" text-anchor="start" font-weight="normal" font-style="normal" fill="#222" font-family="Liberation Sans, sans-serif" textLength="9.4" lengthAdjust="spacingAndGlyphs"  stroke="#222">11</text>
<text x="273.95" y="365.80" font-size="15.5" text-anchor="start" font-weight="normal" font-style="normal" fill="#222" font-family="Liberation Sans, sans-serif" textLength="15.6" lengthAdjust="spacingAndGlyphs"  stroke="#222">10</text>
<text x="290.45" y="357.80" font-size="8.6" text-anchor="start" font-weight="normal" font-style="normal" fill="#222" font-family="Liberation Sans, sans-serif" textLength="9.4" lengthAdjust="spacingAndGlyphs"  stroke="#222">12</text>
<text x="121.50" y="392.10" font-size="16" text-anchor="start" font-weight="normal" font-style="normal" fill="#222" font-family="Liberation Sans, sans-serif" textLength="114" lengthAdjust="spacingAndGlyphs"  stroke="#222">Frequency (Hz)</text>
<text x="13.40" y="372.90" font-size="25" text-anchor="start" font-weight="bold" font-style="normal" fill="#111" font-family="Liberation Sans, sans-serif" textLength="12.4" lengthAdjust="spacingAndGlyphs"  stroke="#111">a</text>
<g transform="rotate(-90)" fill="#222" font-family="Liberation Sans, sans-serif" font-size="16.5" stroke="#222"><text x="-296.3" y="32.1" font-style="italic" textLength="37" lengthAdjust="spacingAndGlyphs">f x Q</text><text x="-261.6" y="36.2" font-style="italic" font-size="9.5">i</text><text x="-254.4" y="32.1" textLength="210.9" lengthAdjust="spacingAndGlyphs">(Hz) for all loss mechanisms</text></g>
<line x1="410.50" y1="54.20" x2="620.20" y2="54.20" stroke="#6868e0" stroke-width="1.5" stroke-dasharray="11,4.6" stroke-dashoffset="-0.6"/>
<line x1="410.50" y1="156.00" x2="620.20" y2="156.00" stroke="#6868e0" stroke-width="1.5" stroke-dasharray="11,4.6" stroke-dashoffset="-0.6"/>
<line x1="455.00" y1="211.00" x2="455.00" y2="341.60" stroke="#111" stroke-width="1.5" />
<line x1="552.40" y1="211.00" x2="552.40" y2="341.60" stroke="#111" stroke-width="1.5" />
<line x1="449.80" y1="257.70" x2="435.00" y2="257.70" stroke="#222" stroke-width="1.2" />
<path d="M428.5,257.7 L436,255 L436,260.4 Z" fill="#222"/>
<line x1="552.30" y1="264.00" x2="568.00" y2="264.00" stroke="#222" stroke-width="1.2" />
<path d="M575,264.0 L567.5,261.3 L567.5,266.7 Z" fill="#222"/>
<path d="M410.5,54.4 410.8,55.2 411.1,56.0 411.4,56.7 411.7,57.5 412.0,58.3 412.3,59.1 412.6,59.8 412.9,60.6 413.2,61.4 413.5,62.2 413.8,62.9 414.1,63.7 414.4,64.5 414.7,65.3 415.0,66.0 415.3,66.8 415.6,67.6 415.9,68.4 416.2,69.1 416.5,69.9 416.8,70.7 417.1,71.5 417.4,72.2 417.7,73.0 418.0,73.8 418.3,74.6 418.6,75.4 418.9,76.1 419.2,76.9 419.5,77.7 419.8,78.5 420.1,79.2 420.4,80.0 420.7,80.8 421.0,81.6 421.3,82.3 421.6,83.1 421.9,83.9 422.2,84.7 422.5,85.4 422.8,86.2 423.1,87.0 423.4,87.8 423.7,88.5 424.0,89.3 424.3,90.1 424.6,90.9 424.9,91.6 425.2,92.4 425.5,93.2 425.8,94.0 426.1,94.7 426.4,95.5 426.7,96.3 427.0,97.1 427.3,97.8 427.6,98.6 427.9,99.4 428.2,100.2 428.5,100.9 428.8,101.7 429.1,102.5 429.4,103.3 429.7,104.1 430.0,104.8 430.3,105.6 430.6,106.4 430.9,107.2 431.2,107.9 431.5,108.7 431.8,109.5 432.1,110.3 432.4,111.0 432.7,111.8 433.0,112.6 433.3,113.4 433.6,114.1 433.9,114.9 434.2,115.7 434.5,116.5 434.8,117.2 435.1,118.0 435.4,118.8 435.7,119.6 436.0,120.3 436.3,121.1 436.6,121.9 436.9,122.7 437.2,123.4 437.5,124.2 437.8,125.0 438.1,125.8 438.4,126.5 438.7,127.3 439.0,128.1 439.3,128.9 439.6,129.6 439.9,130.4 440.2,131.2 440.5,132.0 440.8,132.8 441.1,133.5 441.4,134.3 441.7,135.1 442.0,135.9 442.3,136.6 442.6,137.4 442.9,138.2 443.2,139.0 443.5,139.7 443.8,140.5 444.1,141.3 444.4,142.1 444.7,142.8 445.0,143.6 445.3,144.4 445.6,145.2 445.9,145.9 446.2,146.7 446.5,147.5 446.8,148.3 447.1,149.0 447.4,149.8 447.7,150.6 448.0,151.4 448.3,152.1 448.6,152.9 448.9,153.7 449.2,154.5 449.5,155.2 449.8,156.0 450.1,156.8 450.4,157.6 450.7,158.3 451.0,159.1 451.3,159.9 451.6,160.7 451.9,161.5 452.2,162.2 452.5,163.0 452.8,163.8 453.1,164.6 453.4,165.3 453.7,166.1 454.0,166.9 454.3,167.7 454.6,168.4 454.9,169.2 455.2,170.0 455.5,170.8 455.8,171.5 456.1,172.3 456.4,173.1 456.7,173.9 457.0,174.6 457.3,175.4 457.6,176.2 457.9,177.0 458.2,177.7 458.5,178.5 458.8,179.3 459.1,180.1 459.4,180.8 459.7,181.6 460.0,182.4 460.3,183.2 460.6,183.9 460.9,184.7 461.2,185.5 461.5,186.3 461.8,187.0 462.1,187.8 462.4,188.6 462.7,189.4 463.0,190.1 463.3,190.9 463.6,191.7 463.9,192.5 464.2,193.2 464.5,194.0 464.8,194.8 465.1,195.6 465.4,196.3 465.7,197.1 466.0,197.9 466.3,198.7 466.6,199.4 466.9,200.2 467.2,201.0 467.5,201.8 467.8,202.5 468.1,203.3 468.4,204.1 468.7,204.9 469.0,205.6 469.3,206.4 469.6,207.2 469.9,208.0 470.2,208.7 470.5,209.5 470.8,210.3 471.1,211.1 471.4,211.8 471.7,212.6 472.0,213.4 472.3,214.2 472.6,214.9 472.9,215.7 473.2,216.5 473.5,217.3 473.8,218.0 474.1,218.8 474.4,219.6 474.7,220.3 475.0,221.1 475.3,221.9 475.6,222.7 475.9,223.4 476.2,224.2 476.5,225.0 476.8,225.7 477.1,226.5 477.4,227.3 477.7,228.1 478.0,228.8 478.3,229.6 478.6,230.4 478.9,231.1 479.2,231.9 479.5,232.7 479.8,233.4 480.1,234.2 480.4,235.0 480.7,235.7 481.0,236.5 481.3,237.2 481.6,238.0 481.9,238.8 482.2,239.5 482.5,240.3 482.8,241.0 483.1,241.8 483.4,242.5 483.7,243.3 484.0,244.0 484.3,244.8 484.6,245.5 484.9,246.3 485.2,247.0 485.5,247.8 485.8,248.5 486.1,249.2 486.4,250.0 486.7,250.7 487.0,251.4 487.3,252.1 487.6,252.9 487.9,253.6 488.2,254.3 488.5,255.0 488.8,255.7 489.1,256.4 489.4,257.1 489.7,257.8 490.0,258.5 490.3,259.1 490.6,259.8 490.9,260.5 491.2,261.1 491.5,261.8 491.8,262.4 492.1,263.1 492.4,263.7 492.7,264.3 493.0,264.9 493.3,265.5 493.6,266.1 493.9,266.7 494.2,267.2 494.5,267.8 494.8,268.3 495.1,268.8 495.4,269.3 495.7,269.8 496.0,270.3 496.3,270.8 496.6,271.2 496.9,271.6 497.2,272.1 497.8,272.8 498.4,273.5 499.0,274.1 499.6,274.6 500.2,275.0 500.8,275.3 501.4,275.6 502.0,275.7 502.9,275.7 503.5,275.5 504.1,275.3 504.7,275.0 505.3,274.5 505.9,274.0 506.5,273.4 507.1,272.7 507.7,271.9 508.0,271.5 508.3,271.1 508.6,270.6 508.9,270.2 509.2,269.7 509.5,269.2 509.8,268.7 510.1,268.1 510.4,267.6 510.7,267.0 511.0,266.5 511.3,265.9 511.6,265.3 511.9,264.7 512.2,264.1 512.5,263.5 512.8,262.8 513.1,262.2 513.4,261.6 513.7,260.9 514.0,260.3 514.3,259.6 514.6,258.9 514.9,258.2 515.2,257.6 515.5,256.9 515.8,256.2 516.1,255.5 516.4,254.8 516.7,254.1 517.0,253.3 517.3,252.6 517.6,251.9 517.9,251.2 518.2,250.4 518.5,249.7 518.8,249.0 519.1,248.2 519.4,247.5 519.7,246.8 520.0,246.0 520.3,245.3 520.6,244.5 520.9,243.8 521.2,243.0 521.5,242.3 521.8,241.5 522.1,240.8 522.4,240.0 522.7,239.3 523.0,238.5 523.3,237.7 523.6,237.0 523.9,236.2 524.2,235.5 524.5,234.7 524.8,233.9 525.1,233.2 525.4,232.4 525.7,231.6 526.0,230.9 526.3,230.1 526.6,229.3 526.9,228.6 527.2,227.8 527.5,227.0 527.8,226.3 528.1,225.5 528.4,224.7 528.7,223.9 529.0,223.2 529.3,222.4 529.6,221.6 529.9,220.9 530.2,220.1 530.5,219.3 530.8,218.5 531.1,217.8 531.4,217.0 531.7,216.2 532.0,215.5 532.3,214.7 532.6,213.9 532.9,213.1 533.2,212.4 533.5,211.6 533.8,210.8 534.1,210.0 534.4,209.3 534.7,208.5 535.0,207.7 535.3,206.9 535.6,206.2 535.9,205.4 536.2,204.6 536.5,203.8 536.8,203.1 537.1,202.3 537.4,201.5 537.7,200.7 538.0,200.0 538.3,199.2 538.6,198.4 538.9,197.6 539.2,196.9 539.5,196.1 539.8,195.3 540.1,194.5 540.4,193.8 540.7,193.0 541.0,192.2 541.3,191.4 541.6,190.7 541.9,189.9 542.2,189.1 542.5,188.3 542.8,187.6 543.1,186.8 543.4,186.0 543.7,185.2 544.0,184.5 544.3,183.7 544.6,182.9 544.9,182.1 545.2,181.4 545.5,180.6 545.8,179.8 546.1,179.0 546.4,178.3 546.7,177.5 547.0,176.7 547.3,175.9 547.6,175.2 547.9,174.4 548.2,173.6 548.5,172.8 548.8,172.1 549.1,171.3 549.4,170.5 549.7,169.7 550.0,168.9 550.3,168.2 550.6,167.4 550.9,166.6 551.2,165.8 551.5,165.1 551.8,164.3 552.1,163.5 552.4,162.7 552.7,162.0 553.0,161.2 553.3,160.4 553.6,159.6 553.9,158.9 554.2,158.1 554.5,157.3 554.8,156.5 555.1,155.8 555.4,155.0 555.7,154.2 556.0,153.4 556.3,152.7 556.6,151.9 556.9,151.1 557.2,150.3 557.5,149.6 557.8,148.8 558.1,148.0 558.4,147.2 558.7,146.5 559.0,145.7 559.3,144.9 559.6,144.1 559.9,143.4 560.2,142.6 560.5,141.8 560.8,141.0 561.1,140.2 561.4,139.5 561.7,138.7 562.0,137.9 562.3,137.1 562.6,136.4 562.9,135.6 563.2,134.8 563.5,134.0 563.8,133.3 564.1,132.5 564.4,131.7 564.7,130.9 565.0,130.2 565.3,129.4 565.6,128.6 565.9,127.8 566.2,127.1 566.5,126.3 566.8,125.5 567.1,124.7 567.4,124.0 567.7,123.2 568.0,122.4 568.3,121.6 568.6,120.9 568.9,120.1 569.2,119.3 569.5,118.5 569.8,117.8 570.1,117.0 570.4,116.2 570.7,115.4 571.0,114.7 571.3,113.9 571.6,113.1 571.9,112.3 572.2,111.6 572.5,110.8 572.8,110.0 573.1,109.2 573.4,108.4 573.7,107.7 574.0,106.9 574.3,106.1 574.6,105.3 574.9,104.6 575.2,103.8 575.5,103.0 575.8,102.2 576.1,101.5 576.4,100.7 576.7,99.9 577.0,99.1 577.3,98.4 577.6,97.6 577.9,96.8 578.2,96.0 578.5,95.3 578.8,94.5 579.1,93.7 579.4,92.9 579.7,92.2 580.0,91.4 580.3,90.6 580.6,89.8 580.9,89.1 581.2,88.3 581.5,87.5 581.8,86.7 582.1,86.0 582.4,85.2 582.7,84.4 583.0,83.6 583.3,82.9 583.6,82.1 583.9,81.3 584.2,80.5 584.5,79.7 584.8,79.0 585.1,78.2 585.4,77.4 585.7,76.6 586.0,75.9 586.3,75.1 586.6,74.3 586.9,73.5 587.2,72.8 587.5,72.0 587.8,71.2 588.1,70.4 588.4,69.7 588.7,68.9 589.0,68.1 589.3,67.3 589.6,66.6 589.9,65.8 590.2,65.0 590.5,64.2 590.8,63.5 591.1,62.7 591.4,61.9 591.7,61.1 592.0,60.4 592.3,59.6 592.6,58.8 592.9,58.0 593.2,57.3 593.5,56.5 593.8,55.7 594.1,54.9 594.4,54.2 594.7,53.4 595.0,52.6 595.3,51.8 595.6,51.0 595.9,50.3 596.2,49.5 596.5,48.7 596.8,47.9 597.1,47.2 597.4,46.4 597.7,45.6 598.0,44.8 598.3,44.1 598.6,43.3 598.9,42.5 599.2,41.7 599.5,41.0 599.8,40.2 600.1,39.4 600.4,38.6 600.7,37.9 601.0,37.1 601.3,36.3 601.6,35.5 601.9,34.8 602.2,34.0 602.5,33.2 602.8,32.4 603.1,31.7 603.4,30.9 603.7,30.1 604.0,29.3 604.3,28.6 604.6,27.8 604.9,27.0 605.2,26.2 605.5,25.5 605.8,24.7 606.1,23.9 606.4,23.1 606.7,22.3 607.0,21.6 607.3,20.8 607.6,20.0 607.9,19.2 608.2,18.5 608.5,17.7 608.8,16.9 609.1,16.1 609.4,15.4 609.7,14.6 610.0,13.8 610.3,13.0" fill="none" stroke="#2a2ad8" stroke-width="1.6"/>
<ellipse cx="495.8" cy="103.7" rx="8.6" ry="11.3" fill="none" stroke="#333" stroke-width="1"/>
<line x1="495.80" y1="92.60" x2="479.00" y2="92.60" stroke="#222" stroke-width="1.1" />
<path d="M472.8,92.6 L480.5,90 L480.5,95.2 Z" fill="#222"/>
<rect x="410.5" y="13.0" width="209.70000000000005" height="328.6" fill="none" stroke="#111" stroke-width="2"/>
<line x1="416.81" y1="13.00" x2="416.81" y2="17.00" stroke="#111" stroke-width="1.3" />
<line x1="416.81" y1="341.60" x2="416.81" y2="337.60" stroke="#111" stroke-width="1.3" />
<line x1="420.51" y1="13.00" x2="420.51" y2="17.00" stroke="#111" stroke-width="1.3" />
<line x1="420.51" y1="341.60" x2="420.51" y2="337.60" stroke="#111" stroke-width="1.3" />
<line x1="423.13" y1="13.00" x2="423.13" y2="17.00" stroke="#111" stroke-width="1.3" />
<line x1="423.13" y1="341.60" x2="423.13" y2="337.60" stroke="#111" stroke-width="1.3" />
<line x1="425.16" y1="13.00" x2="425.16" y2="17.00" stroke="#111" stroke-width="1.3" />
<line x1="425.16" y1="341.60" x2="425.16" y2="337.60" stroke="#111" stroke-width="1.3" />
<line x1="426.82" y1="13.00" x2="426.82" y2="17.00" stroke="#111" stroke-width="1.3" />
<line x1="426.82" y1="341.60" x2="426.82" y2="337.60" stroke="#111" stroke-width="1.3" />
<line x1="428.22" y1="13.00" x2="428.22" y2="17.00" stroke="#111" stroke-width="1.3" />
<line x1="428.22" y1="341.60" x2="428.22" y2="337.60" stroke="#111" stroke-width="1.3" />
<line x1="429.44" y1="13.00" x2="429.44" y2="17.00" stroke="#111" stroke-width="1.3" />
<line x1="429.44" y1="341.60" x2="429.44" y2="337.60" stroke="#111" stroke-width="1.3" />
<line x1="430.51" y1="13.00" x2="430.51" y2="17.00" stroke="#111" stroke-width="1.3" />
<line x1="430.51" y1="341.60" x2="430.51" y2="337.60" stroke="#111" stroke-width="1.3" />
<line x1="431.47" y1="13.00" x2="431.47" y2="19.80" stroke="#111" stroke-width="1.3" />
<line x1="431.47" y1="341.60" x2="431.47" y2="334.80" stroke="#111" stroke-width="1.3" />
<line x1="437.78" y1="13.00" x2="437.78" y2="17.00" stroke="#111" stroke-width="1.3" />
<line x1="437.78" y1="341.60" x2="437.78" y2="337.60" stroke="#111" stroke-width="1.3" />
<line x1="441.48" y1="13.00" x2="441.48" y2="17.00" stroke="#111" stroke-width="1.3" />
<line x1="441.48" y1="341.60" x2="441.48" y2="337.60" stroke="#111" stroke-width="1.3" />
<line x1="444.10" y1="13.00" x2="444.10" y2="17.00" stroke="#111" stroke-width="1.3" />
<line x1="444.10" y1="341.60" x2="444.10" y2="337.60" stroke="#111" stroke-width="1.3" />
<line x1="446.13" y1="13.00" x2="446.13" y2="17.00" stroke="#111" stroke-width="1.3" />
<line x1="446.13" y1="341.60" x2="446.13" y2="337.60" stroke="#111" stroke-width="1.3" />
<line x1="447.79" y1="13.00" x2="447.79" y2="17.00" stroke="#111" stroke-width="1.3" />
<line x1="447.79" y1="341.60" x2="447.79" y2="337.60" stroke="#111" stroke-width="1.3" />
<line x1="449.19" y1="13.00" x2="449.19" y2="17.00" stroke="#111" stroke-width="1.3" />
<line x1="449.19" y1="341.60" x2="449.19" y2="337.60" stroke="#111" stroke-width="1.3" />
<line x1="450.41" y1="13.00" x2="450.41" y2="17.00" stroke="#111" stroke-width="1.3" />
<line x1="450.41" y1="341.60" x2="450.41" y2="337.60" stroke="#111" stroke-width="1.3" />
<line x1="451.48" y1="13.00" x2="451.48" y2="17.00" stroke="#111" stroke-width="1.3" />
<line x1="451.48" y1="341.60" x2="451.48" y2="337.60" stroke="#111" stroke-width="1.3" />
<line x1="452.44" y1="13.00" x2="452.44" y2="19.80" stroke="#111" stroke-width="1.3" />
<line x1="452.44" y1="341.60" x2="452.44" y2="334.80" stroke="#111" stroke-width="1.3" />
<line x1="458.75" y1="13.00" x2="458.75" y2="17.00" stroke="#111" stroke-width="1.3" />
<line x1="458.75" y1="341.60" x2="458.75" y2="337.60" stroke="#111" stroke-width="1.3" />
<line x1="462.45" y1="13.00" x2="462.45" y2="17.00" stroke="#111" stroke-width="1.3" />
<line x1="462.45" y1="341.60" x2="462.45" y2="337.60" stroke="#111" stroke-width="1.3" />
<line x1="465.07" y1="13.00" x2="465.07" y2="17.00" stroke="#111" stroke-width="1.3" />
<line x1="465.07" y1="341.60" x2="465.07" y2="337.60" stroke="#111" stroke-width="1.3" />
<line x1="467.10" y1="13.00" x2="467.10" y2="17.00" stroke="#111" stroke-width="1.3" />
<line x1="467.10" y1="341.60" x2="467.10" y2="337.60" stroke="#111" stroke-width="1.3" />
<line x1="468.76" y1="13.00" x2="468.76" y2="17.00" stroke="#111" stroke-width="1.3" />
<line x1="468.76" y1="341.60" x2="468.76" y2="337.60" stroke="#111" stroke-width="1.3" />
<line x1="470.16" y1="13.00" x2="470.16" y2="17.00" stroke="#111" stroke-width="1.3" />
<line x1="470.16" y1="341.60" x2="470.16" y2="337.60" stroke="#111" stroke-width="1.3" />
<line x1="471.38" y1="13.00" x2="471.38" y2="17.00" stroke="#111" stroke-width="1.3" />
<line x1="471.38" y1="341.60" x2="471.38" y2="337.60" stroke="#111" stroke-width="1.3" />
<line x1="472.45" y1="13.00" x2="472.45" y2="17.00" stroke="#111" stroke-width="1.3" />
<line x1="472.45" y1="341.60" x2="472.45" y2="337.60" stroke="#111" stroke-width="1.3" />
<line x1="473.41" y1="13.00" x2="473.41" y2="19.80" stroke="#111" stroke-width="1.3" />
<line x1="473.41" y1="341.60" x2="473.41" y2="334.80" stroke="#111" stroke-width="1.3" />
<line x1="479.72" y1="13.00" x2="479.72" y2="17.00" stroke="#111" stroke-width="1.3" />
<line x1="479.72" y1="341.60" x2="479.72" y2="337.60" stroke="#111" stroke-width="1.3" />
<line x1="483.42" y1="13.00" x2="483.42" y2="17.00" stroke="#111" stroke-width="1.3" />
<line x1="483.42" y1="341.60" x2="483.42" y2="337.60" stroke="#111" stroke-width="1.3" />
<line x1="486.04" y1="13.00" x2="486.04" y2="17.00" stroke="#111" stroke-width="1.3" />
<line x1="486.04" y1="341.60" x2="486.04" y2="337.60" stroke="#111" stroke-width="1.3" />
<line x1="488.07" y1="13.00" x2="488.07" y2="17.00" stroke="#111" stroke-width="1.3" />
<line x1="488.07" y1="341.60" x2="488.07" y2="337.60" stroke="#111" stroke-width="1.3" />
<line x1="489.73" y1="13.00" x2="489.73" y2="17.00" stroke="#111" stroke-width="1.3" />
<line x1="489.73" y1="341.60" x2="489.73" y2="337.60" stroke="#111" stroke-width="1.3" />
<line x1="491.13" y1="13.00" x2="491.13" y2="17.00" stroke="#111" stroke-width="1.3" />
<line x1="491.13" y1="341.60" x2="491.13" y2="337.60" stroke="#111" stroke-width="1.3" />
<line x1="492.35" y1="13.00" x2="492.35" y2="17.00" stroke="#111" stroke-width="1.3" />
<line x1="492.35" y1="341.60" x2="492.35" y2="337.60" stroke="#111" stroke-width="1.3" />
<line x1="493.42" y1="13.00" x2="493.42" y2="17.00" stroke="#111" stroke-width="1.3" />
<line x1="493.42" y1="341.60" x2="493.42" y2="337.60" stroke="#111" stroke-width="1.3" />
<line x1="494.38" y1="13.00" x2="494.38" y2="19.80" stroke="#111" stroke-width="1.3" />
<line x1="494.38" y1="341.60" x2="494.38" y2="334.80" stroke="#111" stroke-width="1.3" />
<line x1="500.69" y1="13.00" x2="500.69" y2="17.00" stroke="#111" stroke-width="1.3" />
<line x1="500.69" y1="341.60" x2="500.69" y2="337.60" stroke="#111" stroke-width="1.3" />
<line x1="504.39" y1="13.00" x2="504.39" y2="17.00" stroke="#111" stroke-width="1.3" />
<line x1="504.39" y1="341.60" x2="504.39" y2="337.60" stroke="#111" stroke-width="1.3" />
<line x1="507.01" y1="13.00" x2="507.01" y2="17.00" stroke="#111" stroke-width="1.3" />
<line x1="507.01" y1="341.60" x2="507.01" y2="337.60" stroke="#111" stroke-width="1.3" />
<line x1="509.04" y1="13.00" x2="509.04" y2="17.00" stroke="#111" stroke-width="1.3" />
<line x1="509.04" y1="341.60" x2="509.04" y2="337.60" stroke="#111" stroke-width="1.3" />
<line x1="510.70" y1="13.00" x2="510.70" y2="17.00" stroke="#111" stroke-width="1.3" />
<line x1="510.70" y1="341.60" x2="510.70" y2="337.60" stroke="#111" stroke-width="1.3" />
<line x1="512.10" y1="13.00" x2="512.10" y2="17.00" stroke="#111" stroke-width="1.3" />
<line x1="512.10" y1="341.60" x2="512.10" y2="337.60" stroke="#111" stroke-width="1.3" />
<line x1="513.32" y1="13.00" x2="513.32" y2="17.00" stroke="#111" stroke-width="1.3" />
<line x1="513.32" y1="341.60" x2="513.32" y2="337.60" stroke="#111" stroke-width="1.3" />
<line x1="514.39" y1="13.00" x2="514.39" y2="17.00" stroke="#111" stroke-width="1.3" />
<line x1="514.39" y1="341.60" x2="514.39" y2="337.60" stroke="#111" stroke-width="1.3" />
<line x1="515.35" y1="13.00" x2="515.35" y2="19.80" stroke="#111" stroke-width="1.3" />
<line x1="515.35" y1="341.60" x2="515.35" y2="334.80" stroke="#111" stroke-width="1.3" />
<line x1="521.66" y1="13.00" x2="521.66" y2="17.00" stroke="#111" stroke-width="1.3" />
<line x1="521.66" y1="341.60" x2="521.66" y2="337.60" stroke="#111" stroke-width="1.3" />
<line x1="525.36" y1="13.00" x2="525.36" y2="17.00" stroke="#111" stroke-width="1.3" />
<line x1="525.36" y1="341.60" x2="525.36" y2="337.60" stroke="#111" stroke-width="1.3" />
<line x1="527.98" y1="13.00" x2="527.98" y2="17.00" stroke="#111" stroke-width="1.3" />
<line x1="527.98" y1="341.60" x2="527.98" y2="337.60" stroke="#111" stroke-width="1.3" />
<line x1="530.01" y1="13.00" x2="530.01" y2="17.00" stroke="#111" stroke-width="1.3" />
<line x1="530.01" y1="341.60" x2="530.01" y2="337.60" stroke="#111" stroke-width="1.3" />
<line x1="531.67" y1="13.00" x2="531.67" y2="17.00" stroke="#111" stroke-width="1.3" />
<line x1="531.67" y1="341.60" x2="531.67" y2="337.60" stroke="#111" stroke-width="1.3" />
<line x1="533.07" y1="13.00" x2="533.07" y2="17.00" stroke="#111" stroke-width="1.3" />
<line x1="533.07" y1="341.60" x2="533.07" y2="337.60" stroke="#111" stroke-width="1.3" />
<line x1="534.29" y1="13.00" x2="534.29" y2="17.00" stroke="#111" stroke-width="1.3" />
<line x1="534.29" y1="341.60" x2="534.29" y2="337.60" stroke="#111" stroke-width="1.3" />
<line x1="535.36" y1="13.00" x2="535.36" y2="17.00" stroke="#111" stroke-width="1.3" />
<line x1="535.36" y1="341.60" x2="535.36" y2="337.60" stroke="#111" stroke-width="1.3" />
<line x1="536.32" y1="13.00" x2="536.32" y2="19.80" stroke="#111" stroke-width="1.3" />
<line x1="536.32" y1="341.60" x2="536.32" y2="334.80" stroke="#111" stroke-width="1.3" />
<line x1="542.63" y1="13.00" x2="542.63" y2="17.00" stroke="#111" stroke-width="1.3" />
<line x1="542.63" y1="341.60" x2="542.63" y2="337.60" stroke="#111" stroke-width="1.3" />
<line x1="546.33" y1="13.00" x2="546.33" y2="17.00" stroke="#111" stroke-width="1.3" />
<line x1="546.33" y1="341.60" x2="546.33" y2="337.60" stroke="#111" stroke-width="1.3" />
<line x1="548.95" y1="13.00" x2="548.95" y2="17.00" stroke="#111" stroke-width="1.3" />
<line x1="548.95" y1="341.60" x2="548.95" y2="337.60" stroke="#111" stroke-width="1.3" />
<line x1="550.98" y1="13.00" x2="550.98" y2="17.00" stroke="#111" stroke-width="1.3" />
<line x1="550.98" y1="341.60" x2="550.98" y2="337.60" stroke="#111" stroke-width="1.3" />
<line x1="552.64" y1="13.00" x2="552.64" y2="17.00" stroke="#111" stroke-width="1.3" />
<line x1="552.64" y1="341.60" x2="552.64" y2="337.60" stroke="#111" stroke-width="1.3" />
<line x1="554.04" y1="13.00" x2="554.04" y2="17.00" stroke="#111" stroke-width="1.3" />
<line x1="554.04" y1="341.60" x2="554.04" y2="337.60" stroke="#111" stroke-width="1.3" />
<line x1="555.26" y1="13.00" x2="555.26" y2="17.00" stroke="#111" stroke-width="1.3" />
<line x1="555.26" y1="341.60" x2="555.26" y2="337.60" stroke="#111" stroke-width="1.3" />
<line x1="556.33" y1="13.00" x2="556.33" y2="17.00" stroke="#111" stroke-width="1.3" />
<line x1="556.33" y1="341.60" x2="556.33" y2="337.60" stroke="#111" stroke-width="1.3" />
<line x1="557.29" y1="13.00" x2="557.29" y2="19.80" stroke="#111" stroke-width="1.3" />
<line x1="557.29" y1="341.60" x2="557.29" y2="334.80" stroke="#111" stroke-width="1.3" />
<line x1="563.60" y1="13.00" x2="563.60" y2="17.00" stroke="#111" stroke-width="1.3" />
<line x1="563.60" y1="341.60" x2="563.60" y2="337.60" stroke="#111" stroke-width="1.3" />
<line x1="567.30" y1="13.00" x2="567.30" y2="17.00" stroke="#111" stroke-width="1.3" />
<line x1="567.30" y1="341.60" x2="567.30" y2="337.60" stroke="#111" stroke-width="1.3" />
<line x1="569.92" y1="13.00" x2="569.92" y2="17.00" stroke="#111" stroke-width="1.3" />
<line x1="569.92" y1="341.60" x2="569.92" y2="337.60" stroke="#111" stroke-width="1.3" />
<line x1="571.95" y1="13.00" x2="571.95" y2="17.00" stroke="#111" stroke-width="1.3" />
<line x1="571.95" y1="341.60" x2="571.95" y2="337.60" stroke="#111" stroke-width="1.3" />
<line x1="573.61" y1="13.00" x2="573.61" y2="17.00" stroke="#111" stroke-width="1.3" />
<line x1="573.61" y1="341.60" x2="573.61" y2="337.60" stroke="#111" stroke-width="1.3" />
<line x1="575.01" y1="13.00" x2="575.01" y2="17.00" stroke="#111" stroke-width="1.3" />
<line x1="575.01" y1="341.60" x2="575.01" y2="337.60" stroke="#111" stroke-width="1.3" />
<line x1="576.23" y1="13.00" x2="576.23" y2="17.00" stroke="#111" stroke-width="1.3" />
<line x1="576.23" y1="341.60" x2="576.23" y2="337.60" stroke="#111" stroke-width="1.3" />
<line x1="577.30" y1="13.00" x2="577.30" y2="17.00" stroke="#111" stroke-width="1.3" />
<line x1="577.30" y1="341.60" x2="577.30" y2="337.60" stroke="#111" stroke-width="1.3" />
<line x1="578.26" y1="13.00" x2="578.26" y2="19.80" stroke="#111" stroke-width="1.3" />
<line x1="578.26" y1="341.60" x2="578.26" y2="334.80" stroke="#111" stroke-width="1.3" />
<line x1="584.57" y1="13.00" x2="584.57" y2="17.00" stroke="#111" stroke-width="1.3" />
<line x1="584.57" y1="341.60" x2="584.57" y2="337.60" stroke="#111" stroke-width="1.3" />
<line x1="588.27" y1="13.00" x2="588.27" y2="17.00" stroke="#111" stroke-width="1.3" />
<line x1="588.27" y1="341.60" x2="588.27" y2="337.60" stroke="#111" stroke-width="1.3" />
<line x1="590.89" y1="13.00" x2="590.89" y2="17.00" stroke="#111" stroke-width="1.3" />
<line x1="590.89" y1="341.60" x2="590.89" y2="337.60" stroke="#111" stroke-width="1.3" />
<line x1="592.92" y1="13.00" x2="592.92" y2="17.00" stroke="#111" stroke-width="1.3" />
<line x1="592.92" y1="341.60" x2="592.92" y2="337.60" stroke="#111" stroke-width="1.3" />
<line x1="594.58" y1="13.00" x2="594.58" y2="17.00" stroke="#111" stroke-width="1.3" />
<line x1="594.58" y1="341.60" x2="594.58" y2="337.60" stroke="#111" stroke-width="1.3" />
<line x1="595.98" y1="13.00" x2="595.98" y2="17.00" stroke="#111" stroke-width="1.3" />
<line x1="595.98" y1="341.60" x2="595.98" y2="337.60" stroke="#111" stroke-width="1.3" />
<line x1="597.20" y1="13.00" x2="597.20" y2="17.00" stroke="#111" stroke-width="1.3" />
<line x1="597.20" y1="341.60" x2="597.20" y2="337.60" stroke="#111" stroke-width="1.3" />
<line x1="598.27" y1="13.00" x2="598.27" y2="17.00" stroke="#111" stroke-width="1.3" />
<line x1="598.27" y1="341.60" x2="598.27" y2="337.60" stroke="#111" stroke-width="1.3" />
<line x1="599.23" y1="13.00" x2="599.23" y2="19.80" stroke="#111" stroke-width="1.3" />
<line x1="599.23" y1="341.60" x2="599.23" y2="334.80" stroke="#111" stroke-width="1.3" />
<line x1="605.54" y1="13.00" x2="605.54" y2="17.00" stroke="#111" stroke-width="1.3" />
<line x1="605.54" y1="341.60" x2="605.54" y2="337.60" stroke="#111" stroke-width="1.3" />
<line x1="609.24" y1="13.00" x2="609.24" y2="17.00" stroke="#111" stroke-width="1.3" />
<line x1="609.24" y1="341.60" x2="609.24" y2="337.60" stroke="#111" stroke-width="1.3" />
<line x1="611.86" y1="13.00" x2="611.86" y2="17.00" stroke="#111" stroke-width="1.3" />
<line x1="611.86" y1="341.60" x2="611.86" y2="337.60" stroke="#111" stroke-width="1.3" />
<line x1="613.89" y1="13.00" x2="613.89" y2="17.00" stroke="#111" stroke-width="1.3" />
<line x1="613.89" y1="341.60" x2="613.89" y2="337.60" stroke="#111" stroke-width="1.3" />
<line x1="615.55" y1="13.00" x2="615.55" y2="17.00" stroke="#111" stroke-width="1.3" />
<line x1="615.55" y1="341.60" x2="615.55" y2="337.60" stroke="#111" stroke-width="1.3" />
<line x1="616.95" y1="13.00" x2="616.95" y2="17.00" stroke="#111" stroke-width="1.3" />
<line x1="616.95" y1="341.60" x2="616.95" y2="337.60" stroke="#111" stroke-width="1.3" />
<line x1="618.17" y1="13.00" x2="618.17" y2="17.00" stroke="#111" stroke-width="1.3" />
<line x1="618.17" y1="341.60" x2="618.17" y2="337.60" stroke="#111" stroke-width="1.3" />
<line x1="619.24" y1="13.00" x2="619.24" y2="17.00" stroke="#111" stroke-width="1.3" />
<line x1="619.24" y1="341.60" x2="619.24" y2="337.60" stroke="#111" stroke-width="1.3" />
<line x1="410.50" y1="286.83" x2="413.70" y2="286.83" stroke="#111" stroke-width="1.2" />
<line x1="410.50" y1="232.07" x2="416.50" y2="232.07" stroke="#111" stroke-width="1.2" />
<line x1="410.50" y1="177.30" x2="413.70" y2="177.30" stroke="#111" stroke-width="1.2" />
<line x1="410.50" y1="122.53" x2="416.50" y2="122.53" stroke="#111" stroke-width="1.2" />
<line x1="410.50" y1="67.77" x2="413.70" y2="67.77" stroke="#111" stroke-width="1.2" />
<line x1="620.20" y1="325.11" x2="617.70" y2="325.11" stroke="#111" stroke-width="1.2" />
<line x1="620.20" y1="315.47" x2="617.70" y2="315.47" stroke="#111" stroke-width="1.2" />
<line x1="620.20" y1="308.63" x2="617.70" y2="308.63" stroke="#111" stroke-width="1.2" />
<line x1="620.20" y1="303.32" x2="617.70" y2="303.32" stroke="#111" stroke-width="1.2" />
<line x1="620.20" y1="298.98" x2="617.70" y2="298.98" stroke="#111" stroke-width="1.2" />
<line x1="620.20" y1="295.32" x2="617.70" y2="295.32" stroke="#111" stroke-width="1.2" />
<line x1="620.20" y1="292.14" x2="617.70" y2="292.14" stroke="#111" stroke-width="1.2" />
<line x1="620.20" y1="289.34" x2="617.70" y2="289.34" stroke="#111" stroke-width="1.2" />
<line x1="620.20" y1="286.83" x2="615.20" y2="286.83" stroke="#111" stroke-width="1.2" />
<line x1="620.20" y1="270.35" x2="617.70" y2="270.35" stroke="#111" stroke-width="1.2" />
<line x1="620.20" y1="260.70" x2="617.70" y2="260.70" stroke="#111" stroke-width="1.2" />
<line x1="620.20" y1="253.86" x2="617.70" y2="253.86" stroke="#111" stroke-width="1.2" />
<line x1="620.20" y1="248.55" x2="617.70" y2="248.55" stroke="#111" stroke-width="1.2" />
<line x1="620.20" y1="244.22" x2="617.70" y2="244.22" stroke="#111" stroke-width="1.2" />
<line x1="620.20" y1="240.55" x2="617.70" y2="240.55" stroke="#111" stroke-width="1.2" />
<line x1="620.20" y1="237.37" x2="617.70" y2="237.37" stroke="#111" stroke-width="1.2" />
<line x1="620.20" y1="234.57" x2="617.70" y2="234.57" stroke="#111" stroke-width="1.2" />
<line x1="620.20" y1="232.07" x2="615.20" y2="232.07" stroke="#111" stroke-width="1.2" />
<line x1="620.20" y1="215.58" x2="617.70" y2="215.58" stroke="#111" stroke-width="1.2" />
<line x1="620.20" y1="205.94" x2="617.70" y2="205.94" stroke="#111" stroke-width="1.2" />
<line x1="620.20" y1="199.09" x2="617.70" y2="199.09" stroke="#111" stroke-width="1.2" />
<line x1="620.20" y1="193.79" x2="617.70" y2="193.79" stroke="#111" stroke-width="1.2" />
<line x1="620.20" y1="189.45" x2="617.70" y2="189.45" stroke="#111" stroke-width="1.2" />
<line x1="620.20" y1="185.78" x2="617.70" y2="185.78" stroke="#111" stroke-width="1.2" />
<line x1="620.20" y1="182.61" x2="617.70" y2="182.61" stroke="#111" stroke-width="1.2" />
<line x1="620.20" y1="179.81" x2="617.70" y2="179.81" stroke="#111" stroke-width="1.2" />
<line x1="620.20" y1="177.30" x2="615.20" y2="177.30" stroke="#111" stroke-width="1.2" />
<line x1="620.20" y1="160.81" x2="617.70" y2="160.81" stroke="#111" stroke-width="1.2" />
<line x1="620.20" y1="151.17" x2="617.70" y2="151.17" stroke="#111" stroke-width="1.2" />
<line x1="620.20" y1="144.33" x2="617.70" y2="144.33" stroke="#111" stroke-width="1.2" />
<line x1="620.20" y1="139.02" x2="617.70" y2="139.02" stroke="#111" stroke-width="1.2" />
<line x1="620.20" y1="134.68" x2="617.70" y2="134.68" stroke="#111" stroke-width="1.2" />
<line x1="620.20" y1="131.02" x2="617.70" y2="131.02" stroke="#111" stroke-width="1.2" />
<line x1="620.20" y1="127.84" x2="617.70" y2="127.84" stroke="#111" stroke-width="1.2" />
<line x1="620.20" y1="125.04" x2="617.70" y2="125.04" stroke="#111" stroke-width="1.2" />
<line x1="620.20" y1="122.53" x2="615.20" y2="122.53" stroke="#111" stroke-width="1.2" />
<line x1="620.20" y1="106.05" x2="617.70" y2="106.05" stroke="#111" stroke-width="1.2" />
<line x1="620.20" y1="96.40" x2="617.70" y2="96.40" stroke="#111" stroke-width="1.2" />
<line x1="620.20" y1="89.56" x2="617.70" y2="89.56" stroke="#111" stroke-width="1.2" />
<line x1="620.20" y1="84.25" x2="617.70" y2="84.25" stroke="#111" stroke-width="1.2" />
<line x1="620.20" y1="79.92" x2="617.70" y2="79.92" stroke="#111" stroke-width="1.2" />
<line x1="620.20" y1="76.25" x2="617.70" y2="76.25" stroke="#111" stroke-width="1.2" />
<line x1="620.20" y1="73.07" x2="617.70" y2="73.07" stroke="#111" stroke-width="1.2" />
<line x1="620.20" y1="70.27" x2="617.70" y2="70.27" stroke="#111" stroke-width="1.2" />
<line x1="620.20" y1="67.77" x2="615.20" y2="67.77" stroke="#111" stroke-width="1.2" />
<line x1="620.20" y1="51.28" x2="617.70" y2="51.28" stroke="#111" stroke-width="1.2" />
<line x1="620.20" y1="41.64" x2="617.70" y2="41.64" stroke="#111" stroke-width="1.2" />
<line x1="620.20" y1="34.79" x2="617.70" y2="34.79" stroke="#111" stroke-width="1.2" />
<line x1="620.20" y1="29.49" x2="617.70" y2="29.49" stroke="#111" stroke-width="1.2" />
<line x1="620.20" y1="25.15" x2="617.70" y2="25.15" stroke="#111" stroke-width="1.2" />
<line x1="620.20" y1="21.48" x2="617.70" y2="21.48" stroke="#111" stroke-width="1.2" />
<line x1="620.20" y1="18.31" x2="617.70" y2="18.31" stroke="#111" stroke-width="1.2" />
<line x1="620.20" y1="15.51" x2="617.70" y2="15.51" stroke="#111" stroke-width="1.2" />
<path d="M410.5,341.6 411.2,341.6 411.9,341.6 412.6,341.6 413.3,341.6 414.0,341.6 414.7,341.5 415.4,341.5 416.1,341.5 416.8,341.5 417.5,341.5 418.2,341.5 418.9,341.5 419.6,341.5 420.3,341.5 421.0,341.5 421.7,341.5 422.4,341.5 423.1,341.5 423.8,341.5 424.5,341.5 425.2,341.4 425.9,341.4 426.6,341.4 427.3,341.4 428.0,341.4 428.7,341.4 429.4,341.4 430.1,341.3 430.8,341.3 431.5,341.3 432.2,341.3 432.9,341.2 433.6,341.2 434.3,341.2 435.0,341.2 435.7,341.1 436.4,341.1 437.1,341.0 437.8,341.0 438.5,341.0 439.2,340.9 439.9,340.9 440.6,340.8 441.3,340.7 442.0,340.7 442.7,340.6 443.4,340.5 444.1,340.4 444.8,340.3 445.5,340.2 446.2,340.1 446.9,340.0 447.6,339.9 448.3,339.8 449.0,339.6 449.7,339.5 450.4,339.3 451.1,339.1 451.8,338.9 452.5,338.7 453.2,338.5 453.9,338.3 454.6,338.0 455.3,337.7 456.0,337.5 456.7,337.1 457.4,336.8 457.9,336.5 458.3,336.3 458.8,336.0 459.3,335.7 459.7,335.4 460.2,335.1 460.7,334.8 461.1,334.4 461.6,334.1 462.1,333.7 462.5,333.3 463.0,332.9 463.4,332.4 463.9,331.9 464.4,331.5 464.8,330.9 465.3,330.4 465.8,329.8 466.2,329.2 466.7,328.6 467.2,327.9 467.6,327.2 468.1,326.5 468.6,325.7 469.0,324.9 469.5,324.1 470.0,323.2 470.4,322.3 470.7,321.8 470.9,321.3 471.1,320.8 471.4,320.2 471.6,319.7 471.8,319.2 472.1,318.6 472.3,318.0 472.5,317.4 472.8,316.8 473.0,316.2 473.2,315.6 473.5,314.9 473.7,314.2 473.9,313.6 474.2,312.9 474.4,312.1 474.6,311.4 474.9,310.6 475.1,309.9 475.3,309.1 475.6,308.3 475.8,307.4 476.0,306.6 476.3,305.7 476.5,304.8 476.7,303.9 477.0,302.9 477.2,302.0 477.4,301.0 477.7,300.0 477.9,298.9 478.1,297.9 478.4,296.8 478.6,295.7 478.8,294.5 479.1,293.4 479.3,292.2 479.5,291.0 479.8,289.7 480.0,288.4 480.2,287.1 480.5,285.8 480.7,284.4 480.9,283.0 481.2,281.5 481.4,280.0 481.6,278.5 481.9,277.0 482.1,275.4 482.3,273.8 482.6,272.1 482.8,270.4 483.0,268.7 483.3,266.9 483.5,265.1 483.7,263.2 484.0,261.3 484.2,259.4 484.4,257.4 484.7,255.4 484.9,253.3 485.1,251.2 485.4,249.0 485.6,246.8 485.8,244.6 486.1,242.3 486.3,239.9 486.5,237.5 486.8,235.1 487.0,232.6 487.2,230.0 487.5,227.4 487.7,224.8 487.9,222.1 488.2,219.4 488.4,216.6 488.6,213.7 488.9,210.8 489.1,207.9 489.3,204.9 489.6,201.9 489.8,198.8 490.0,195.6 490.3,192.4 490.5,189.2 490.7,185.9 491.0,182.6 491.2,179.3 491.4,175.9 491.7,172.4 491.9,169.0 492.1,165.5 492.4,161.9 492.6,158.3 492.8,154.7 493.1,151.1 493.3,147.5 493.5,143.8 493.8,140.2 494.0,136.5 494.2,132.8 494.5,129.1 494.7,125.4 494.9,121.7 495.2,118.1 495.4,114.4 495.6,110.8 495.9,107.2 496.1,103.6 496.3,100.1 496.6,96.6 496.8,93.2 497.0,89.9 497.3,86.6 497.5,83.4 497.7,80.2 498.0,77.2 498.2,74.2 498.4,71.4 498.7,68.6 498.9,66.0 499.1,63.5 499.4,61.1 499.6,58.9 499.8,56.8 500.1,54.9 500.3,53.1 500.5,51.4 500.8,49.9 501.0,48.6 501.2,47.5 501.5,46.5 501.7,45.7 501.9,45.1 502.4,44.5 503.1,44.8 503.3,45.3 503.6,46.0 503.8,46.8 504.0,47.8 504.3,49.0 504.5,50.4 504.7,51.9 505.0,53.6 505.2,55.5 505.4,57.5 505.7,59.6 505.9,61.9 506.1,64.3 506.4,66.8 506.6,69.5 506.8,72.3 507.1,75.2 507.3,78.1 507.5,81.2 507.8,84.4 508.0,87.6 508.2,90.9 508.5,94.3 508.7,97.7 508.9,101.2 509.2,104.8 509.4,108.3 509.6,111.9 509.9,115.6 510.1,119.2 510.3,122.9 510.6,126.6 510.8,130.3 511.0,134.0 511.3,137.7 511.5,141.3 511.7,145.0 512.0,148.7 512.2,152.3 512.4,155.9 512.7,159.5 512.9,163.1 513.1,166.6 513.4,170.1 513.6,173.5 513.8,177.0 514.1,180.4 514.3,183.7 514.5,187.0 514.8,190.3 515.0,193.5 515.2,196.6 515.5,199.8 515.7,202.8 515.9,205.9 516.2,208.8 516.4,211.8 516.6,214.6 516.9,217.5 517.1,220.2 517.3,223.0 517.6,225.6 517.8,228.3 518.0,230.8 518.3,233.4 518.5,235.9 518.7,238.3 519.0,240.7 519.2,243.0 519.4,245.3 519.7,247.5 519.9,249.7 520.1,251.9 520.4,254.0 520.6,256.0 520.8,258.0 521.1,260.0 521.3,261.9 521.5,263.8 521.8,265.7 522.0,267.5 522.2,269.2 522.5,271.0 522.7,272.6 522.9,274.3 523.2,275.9 523.4,277.5 523.6,279.0 523.9,280.5 524.1,282.0 524.3,283.4 524.6,284.8 524.8,286.2 525.0,287.5 525.3,288.8 525.5,290.1 525.7,291.4 526.0,292.6 526.2,293.8 526.4,294.9 526.7,296.0 526.9,297.2 527.1,298.2 527.4,299.3 527.6,300.3 527.8,301.3 528.1,302.3 528.3,303.3 528.5,304.2 528.8,305.1 529.0,306.0 529.2,306.9 529.5,307.7 529.7,308.5 529.9,309.3 530.2,310.1 530.4,310.9 530.6,311.6 530.9,312.4 531.1,313.1 531.3,313.8 531.6,314.5 531.8,315.1 532.0,315.8 532.3,316.4 532.5,317.0 532.7,317.6 533.0,318.2 533.2,318.8 533.4,319.3 533.7,319.9 533.9,320.4 534.1,320.9 534.4,321.4 534.6,321.9 534.8,322.4 535.1,322.9 535.5,323.8 536.0,324.6 536.5,325.5 536.9,326.3 537.4,327.0 537.9,327.7 538.3,328.4 538.8,329.0 539.3,329.6 539.7,330.2 540.2,330.8 540.7,331.3 541.1,331.8 541.6,332.3 542.1,332.7 542.5,333.1 543.0,333.5 543.5,333.9 543.9,334.3 544.4,334.7 544.9,335.0 545.3,335.3 545.8,335.6 546.3,335.9 546.7,336.2 547.2,336.5 547.7,336.7 548.1,336.9 548.8,337.3 549.5,337.6 550.2,337.9 550.9,338.1 551.6,338.4 552.3,338.6 553.0,338.8 553.7,339.0 554.4,339.2 555.1,339.4 555.8,339.5 556.5,339.7 557.2,339.8 557.9,340.0 558.6,340.1 559.3,340.2 560.0,340.3 560.7,340.4 561.4,340.5 562.1,340.5 562.8,340.6 563.5,340.7 564.2,340.8 564.9,340.8 565.6,340.9 566.3,340.9 567.0,341.0 567.7,341.0 568.4,341.1 569.1,341.1 569.8,341.1 570.5,341.2 571.2,341.2 571.9,341.2 572.6,341.3 573.3,341.3 574.0,341.3 574.7,341.3 575.4,341.3 576.1,341.4 576.8,341.4 577.5,341.4 578.2,341.4 578.9,341.4 579.6,341.4 580.3,341.4 581.0,341.5 581.7,341.5 582.4,341.5 583.1,341.5 583.8,341.5 584.5,341.5 585.2,341.5 585.9,341.5 586.6,341.5 587.3,341.5 588.0,341.5 588.7,341.5 589.4,341.5 590.1,341.5 590.8,341.6 591.5,341.6 592.2,341.6 592.9,341.6 593.6,341.6 594.3,341.6 595.0,341.6 595.7,341.6 596.4,341.6 597.1,341.6 597.8,341.6 598.5,341.6 599.2,341.6 599.9,341.6 600.6,341.6 601.3,341.6 602.0,341.6 602.7,341.6 603.4,341.6 604.1,341.6 604.8,341.6 605.5,341.6 606.2,341.6 606.9,341.6 607.6,341.6 608.3,341.6 609.0,341.6 609.7,341.6 610.4,341.6 611.1,341.6 611.8,341.6 612.5,341.6 613.2,341.6 613.9,341.6 614.6,341.6 615.3,341.6 616.0,341.6 616.7,341.6 617.4,341.6 618.3,341.6 619.3,341.6 620.2,341.6" fill="none" stroke="#e02828" stroke-width="2"/>
<text x="420.60" y="33.00" font-size="13" text-anchor="start" font-weight="bold" font-style="normal" fill="#1a1ad8" font-family="Liberation Sans, sans-serif" textLength="122.5" lengthAdjust="spacingAndGlyphs"  stroke="#1a1ad8">1.5 GHz GaN BAW</text>
<text x="528.60" y="72.50" font-size="12.3" text-anchor="start" font-weight="bold" font-style="italic" fill="#1a1ad8" font-family="Liberation Sans, sans-serif" textLength="32.5" lengthAdjust="spacingAndGlyphs"  stroke="#1a1ad8">f x Q</text>
<text x="563.60" y="65.20" font-size="7.8" text-anchor="start" font-weight="bold" font-style="italic" fill="#1a1ad8" font-family="Liberation Sans, sans-serif" textLength="17.2" lengthAdjust="spacingAndGlyphs"  stroke="#1a1ad8">TED</text>
<text x="565.60" y="175.40" font-size="12.3" text-anchor="start" font-weight="bold" font-style="italic" fill="#1a1ad8" font-family="Liberation Sans, sans-serif" textLength="30.8" lengthAdjust="spacingAndGlyphs"  stroke="#1a1ad8">f x Q</text>
<text x="598.40" y="167.80" font-size="8.2" text-anchor="start" font-weight="bold" font-style="italic" fill="#1a1ad8" font-family="Liberation Sans, sans-serif" textLength="12.6" lengthAdjust="spacingAndGlyphs"  stroke="#1a1ad8">pp</text>
<g transform="translate(580.2,128.6) rotate(-68)"><text x="0" y="0" font-size="14" font-weight="bold" font-style="italic" fill="#1a1ad8" font-family="Liberation Sans, sans-serif" textLength="31.5" lengthAdjust="spacingAndGlyphs" stroke="#1a1ad8">f x Q</text><text x="33" y="-6" font-size="9.3" font-weight="bold" font-style="italic" fill="#1a1ad8" font-family="Liberation Sans, sans-serif" stroke="#1a1ad8">pe</text></g>
<text x="494.00" y="296.10" font-size="13" text-anchor="start" font-weight="bold" font-style="normal" fill="#111" font-family="Liberation Sans, sans-serif" textLength="18.2" lengthAdjust="spacingAndGlyphs"  stroke="#111">PS</text>
<text x="486.60" y="314.30" font-size="13.3" text-anchor="start" font-weight="bold" font-style="normal" fill="#111" font-family="Liberation Sans, sans-serif" textLength="39.5" lengthAdjust="spacingAndGlyphs"  stroke="#111">Model</text>
<g transform="rotate(-90)" font-weight="bold" font-size="11.2" fill="#111" font-family="Liberation Sans, sans-serif" stroke="#111"><text x="-323.2" y="426.6" textLength="48" lengthAdjust="spacingAndGlyphs">Dielectric</text><text x="-323.2" y="441.2" textLength="31.6" lengthAdjust="spacingAndGlyphs">Model</text><text x="-325.0" y="582.8" textLength="51" lengthAdjust="spacingAndGlyphs">DP/ Metal</text><text x="-325.0" y="597.9" textLength="31.4" lengthAdjust="spacingAndGlyphs">Model</text></g>
<text x="368.70" y="17.80" font-size="16" text-anchor="start" font-weight="normal" font-style="normal" fill="#222" font-family="Liberation Sans, sans-serif" textLength="34.6" lengthAdjust="spacingAndGlyphs"  stroke="#222">6000</text>
<text x="368.70" y="127.33" font-size="16" text-anchor="start" font-weight="normal" font-style="normal" fill="#222" font-family="Liberation Sans, sans-serif" textLength="34.6" lengthAdjust="spacingAndGlyphs"  stroke="#222">4000</text>
<text x="368.70" y="236.87" font-size="16" text-anchor="start" font-weight="normal" font-style="normal" fill="#222" font-family="Liberation Sans, sans-serif" textLength="34.6" lengthAdjust="spacingAndGlyphs"  stroke="#222">2000</text>
<text x="394.90" y="346.40" font-size="16" text-anchor="start" font-weight="normal" font-style="normal" fill="#222" font-family="Liberation Sans, sans-serif" textLength="8.7" lengthAdjust="spacingAndGlyphs"  stroke="#222">0</text>
<text x="628.20" y="347.60" font-size="15.5" text-anchor="start" font-weight="normal" font-style="normal" fill="#222" font-family="Liberation Sans, sans-serif" textLength="16.2" lengthAdjust="spacingAndGlyphs"  stroke="#222">10</text>
<text x="646.20" y="339.00" font-size="8.8" text-anchor="start" font-weight="normal" font-style="normal" fill="#222" font-family="Liberation Sans, sans-serif" textLength="8.2" lengthAdjust="spacingAndGlyphs"  stroke="#222">10</text>
<text x="628.20" y="238.07" font-size="15.5" text-anchor="start" font-weight="normal" font-style="normal" fill="#222" font-family="Liberation Sans, sans-serif" textLength="16.2" lengthAdjust="spacingAndGlyphs"  stroke="#222">10</text>
<text x="646.20" y="229.47" font-size="8.8" text-anchor="start" font-weight="normal" font-style="normal" fill="#222" font-family="Liberation Sans, sans-serif" textLength="8.2" lengthAdjust="spacingAndGlyphs"  stroke="#222">12</text>
<text x="628.20" y="128.53" font-size="15.5" text-anchor="start" font-weight="normal" font-style="normal" fill="#222" font-family="Liberation Sans, sans-serif" textLength="16.2" lengthAdjust="spacingAndGlyphs"  stroke="#222">10</text>
<text x="646.20" y="119.93" font-size="8.8" text-anchor="start" font-weight="normal" font-style="normal" fill="#222" font-family="Liberation Sans, sans-serif" textLength="8.2" lengthAdjust="spacingAndGlyphs"  stroke="#222">14</text>
<text x="628.20" y="19.00" font-size="15.5" text-anchor="start" font-weight="normal" font-style="normal" fill="#222" font-family="Liberation Sans, sans-serif" textLength="16.2" lengthAdjust="spacingAndGlyphs"  stroke="#222">10</text>
<text x="646.20" y="10.40" font-size="8.8" text-anchor="start" font-weight="normal" font-style="normal" fill="#222" font-family="Liberation Sans, sans-serif" textLength="8.2" lengthAdjust="spacingAndGlyphs"  stroke="#222">16</text>
<text x="399.90" y="369.20" font-size="15.3" text-anchor="start" font-weight="normal" font-style="normal" fill="#222" font-family="Liberation Sans, sans-serif" textLength="15.4" lengthAdjust="spacingAndGlyphs"  stroke="#222">10</text>
<text x="416.60" y="361.00" font-size="9" text-anchor="start" font-weight="normal" font-style="normal" fill="#222" font-family="Liberation Sans, sans-serif" textLength="8.8" lengthAdjust="spacingAndGlyphs"  stroke="#222">10</text>
<text x="441.84" y="369.20" font-size="15.3" text-anchor="start" font-weight="normal" font-style="normal" fill="#222" font-family="Liberation Sans, sans-serif" textLength="15.4" lengthAdjust="spacingAndGlyphs"  stroke="#222">10</text>
<text x="458.54" y="361.00" font-size="9" text-anchor="start" font-weight="normal" font-style="normal" fill="#222" font-family="Liberation Sans, sans-serif" textLength="8.8" lengthAdjust="spacingAndGlyphs"  stroke="#222">12</text>
<text x="483.78" y="369.20" font-size="15.3" text-anchor="start" font-weight="normal" font-style="normal" fill="#222" font-family="Liberation Sans, sans-serif" textLength="15.4" lengthAdjust="spacingAndGlyphs"  stroke="#222">10</text>
<text x="500.48" y="361.00" font-size="9" text-anchor="start" font-weight="normal" font-style="normal" fill="#222" font-family="Liberation Sans, sans-serif" textLength="8.8" lengthAdjust="spacingAndGlyphs"  stroke="#222">14</text>
<text x="525.72" y="369.20" font-size="15.3" text-anchor="start" font-weight="normal" font-style="normal" fill="#222" font-family="Liberation Sans, sans-serif" textLength="15.4" lengthAdjust="spacingAndGlyphs"  stroke="#222">10</text>
<text x="542.42" y="361.00" font-size="9" text-anchor="start" font-weight="normal" font-style="normal" fill="#222" font-family="Liberation Sans, sans-serif" textLength="8.8" lengthAdjust="spacingAndGlyphs"  stroke="#222">16</text>
<text x="567.66" y="369.20" font-size="15.3" text-anchor="start" font-weight="normal" font-style="normal" fill="#222" font-family="Liberation Sans, sans-serif" textLength="15.4" lengthAdjust="spacingAndGlyphs"  stroke="#222">10</text>
<text x="584.36" y="361.00" font-size="9" text-anchor="start" font-weight="normal" font-style="normal" fill="#222" font-family="Liberation Sans, sans-serif" textLength="8.8" lengthAdjust="spacingAndGlyphs"  stroke="#222">18</text>
<text x="609.60" y="369.20" font-size="15.3" text-anchor="start" font-weight="normal" font-style="normal" fill="#222" font-family="Liberation Sans, sans-serif" textLength="15.4" lengthAdjust="spacingAndGlyphs"  stroke="#222">10</text>
<text x="626.30" y="361.00" font-size="9" text-anchor="start" font-weight="normal" font-style="normal" fill="#222" font-family="Liberation Sans, sans-serif" textLength="8.8" lengthAdjust="spacingAndGlyphs"  stroke="#222">20</text>
<text x="486.20" y="393.80" font-size="16" text-anchor="start" font-weight="normal" font-style="normal" fill="#222" font-family="Liberation Sans, sans-serif" textLength="44.6" lengthAdjust="spacingAndGlyphs"  stroke="#222">N (cm</text>
<text x="530.90" y="384.90" font-size="10" text-anchor="start" font-weight="normal" font-style="normal" fill="#222" font-family="Liberation Sans, sans-serif" textLength="8.6" lengthAdjust="spacingAndGlyphs"  stroke="#222">-3</text>
<text x="540.20" y="393.80" font-size="16" text-anchor="start" font-weight="normal" font-style="normal" fill="#222" font-family="Liberation Sans, sans-serif"  stroke="#222">)</text>
<text x="369.30" y="374.60" font-size="22" text-anchor="start" font-weight="bold" font-style="normal" fill="#111" font-family="Liberation Sans, sans-serif" textLength="13.0" lengthAdjust="spacingAndGlyphs"  stroke="#111">b</text>
<g transform="rotate(-90)" fill="#222" font-family="Liberation Sans, sans-serif" font-size="16.2" stroke="#222"><text x="-213.8" y="674.2" font-style="italic" textLength="32" lengthAdjust="spacingAndGlyphs">f x Q</text><text x="-180.8" y="679.0" font-style="italic" font-size="9.5">i</text><text x="-174.0" y="674.2" textLength="38" lengthAdjust="spacingAndGlyphs">(Hz)</text></g>
<g transform="rotate(-90)" fill="#222" stroke="#222"><text x="-228" y="350.3" font-size="23" font-style="italic" font-family="Liberation Serif, serif">&#945;</text><text x="-215.3" y="339.0" font-size="16" font-style="italic" font-family="Liberation Serif, serif" textLength="18.5" lengthAdjust="spacingAndGlyphs">pe</text><text x="-212.3" y="354.3" font-size="14" font-style="italic" font-family="Liberation Serif, serif" textLength="41" lengthAdjust="spacingAndGlyphs">piezo</text><text x="-163" y="350.3" font-size="22" font-family="Liberation Sans, sans-serif">(m</text><text x="-137" y="342.3" font-size="14" font-family="Liberation Sans, sans-serif">-1</text><text x="-123.4" y="350.3" font-size="22" font-family="Liberation Sans, sans-serif">)</text></g>
<line x1="85.84" y1="753.70" x2="85.84" y2="750.20" stroke="#111" stroke-width="1.2" />
<line x1="93.17" y1="753.70" x2="93.17" y2="750.20" stroke="#111" stroke-width="1.2" />
<line x1="98.38" y1="753.70" x2="98.38" y2="750.20" stroke="#111" stroke-width="1.2" />
<line x1="102.41" y1="753.70" x2="102.41" y2="750.20" stroke="#111" stroke-width="1.2" />
<line x1="105.71" y1="753.70" x2="105.71" y2="750.20" stroke="#111" stroke-width="1.2" />
<line x1="108.50" y1="753.70" x2="108.50" y2="750.20" stroke="#111" stroke-width="1.2" />
<line x1="110.91" y1="753.70" x2="110.91" y2="750.20" stroke="#111" stroke-width="1.2" />
<line x1="113.04" y1="753.70" x2="113.04" y2="750.20" stroke="#111" stroke-width="1.2" />
<line x1="114.95" y1="753.70" x2="114.95" y2="747.20" stroke="#111" stroke-width="1.2" />
<line x1="127.49" y1="753.70" x2="127.49" y2="750.20" stroke="#111" stroke-width="1.2" />
<line x1="134.82" y1="753.70" x2="134.82" y2="750.20" stroke="#111" stroke-width="1.2" />
<line x1="140.03" y1="753.70" x2="140.03" y2="750.20" stroke="#111" stroke-width="1.2" />
<line x1="144.06" y1="753.70" x2="144.06" y2="750.20" stroke="#111" stroke-width="1.2" />
<line x1="147.36" y1="753.70" x2="147.36" y2="750.20" stroke="#111" stroke-width="1.2" />
<line x1="150.15" y1="753.70" x2="150.15" y2="750.20" stroke="#111" stroke-width="1.2" />
<line x1="152.56" y1="753.70" x2="152.56" y2="750.20" stroke="#111" stroke-width="1.2" />
<line x1="154.69" y1="753.70" x2="154.69" y2="750.20" stroke="#111" stroke-width="1.2" />
<line x1="156.60" y1="753.70" x2="156.60" y2="747.20" stroke="#111" stroke-width="1.2" />
<line x1="169.14" y1="753.70" x2="169.14" y2="750.20" stroke="#111" stroke-width="1.2" />
<line x1="176.47" y1="753.70" x2="176.47" y2="750.20" stroke="#111" stroke-width="1.2" />
<line x1="181.68" y1="753.70" x2="181.68" y2="750.20" stroke="#111" stroke-width="1.2" />
<line x1="185.71" y1="753.70" x2="185.71" y2="750.20" stroke="#111" stroke-width="1.2" />
<line x1="189.01" y1="753.70" x2="189.01" y2="750.20" stroke="#111" stroke-width="1.2" />
<line x1="191.80" y1="753.70" x2="191.80" y2="750.20" stroke="#111" stroke-width="1.2" />
<line x1="194.21" y1="753.70" x2="194.21" y2="750.20" stroke="#111" stroke-width="1.2" />
<line x1="196.34" y1="753.70" x2="196.34" y2="750.20" stroke="#111" stroke-width="1.2" />
<line x1="198.25" y1="753.70" x2="198.25" y2="747.20" stroke="#111" stroke-width="1.2" />
<line x1="210.79" y1="753.70" x2="210.79" y2="750.20" stroke="#111" stroke-width="1.2" />
<line x1="218.12" y1="753.70" x2="218.12" y2="750.20" stroke="#111" stroke-width="1.2" />
<line x1="223.33" y1="753.70" x2="223.33" y2="750.20" stroke="#111" stroke-width="1.2" />
<line x1="227.36" y1="753.70" x2="227.36" y2="750.20" stroke="#111" stroke-width="1.2" />
<line x1="230.66" y1="753.70" x2="230.66" y2="750.20" stroke="#111" stroke-width="1.2" />
<line x1="233.45" y1="753.70" x2="233.45" y2="750.20" stroke="#111" stroke-width="1.2" />
<line x1="235.86" y1="753.70" x2="235.86" y2="750.20" stroke="#111" stroke-width="1.2" />
<line x1="237.99" y1="753.70" x2="237.99" y2="750.20" stroke="#111" stroke-width="1.2" />
<line x1="239.90" y1="753.70" x2="239.90" y2="747.20" stroke="#111" stroke-width="1.2" />
<line x1="252.44" y1="753.70" x2="252.44" y2="750.20" stroke="#111" stroke-width="1.2" />
<line x1="259.77" y1="753.70" x2="259.77" y2="750.20" stroke="#111" stroke-width="1.2" />
<line x1="264.98" y1="753.70" x2="264.98" y2="750.20" stroke="#111" stroke-width="1.2" />
<line x1="269.01" y1="753.70" x2="269.01" y2="750.20" stroke="#111" stroke-width="1.2" />
<line x1="272.31" y1="753.70" x2="272.31" y2="750.20" stroke="#111" stroke-width="1.2" />
<line x1="275.10" y1="753.70" x2="275.10" y2="750.20" stroke="#111" stroke-width="1.2" />
<line x1="277.51" y1="753.70" x2="277.51" y2="750.20" stroke="#111" stroke-width="1.2" />
<line x1="279.64" y1="753.70" x2="279.64" y2="750.20" stroke="#111" stroke-width="1.2" />
<line x1="73.30" y1="743.23" x2="76.80" y2="743.23" stroke="#111" stroke-width="1.2" />
<line x1="73.30" y1="737.11" x2="76.80" y2="737.11" stroke="#111" stroke-width="1.2" />
<line x1="73.30" y1="732.76" x2="76.80" y2="732.76" stroke="#111" stroke-width="1.2" />
<line x1="73.30" y1="729.39" x2="76.80" y2="729.39" stroke="#111" stroke-width="1.2" />
<line x1="73.30" y1="726.64" x2="76.80" y2="726.64" stroke="#111" stroke-width="1.2" />
<line x1="73.30" y1="724.31" x2="76.80" y2="724.31" stroke="#111" stroke-width="1.2" />
<line x1="73.30" y1="722.29" x2="76.80" y2="722.29" stroke="#111" stroke-width="1.2" />
<line x1="73.30" y1="720.51" x2="76.80" y2="720.51" stroke="#111" stroke-width="1.2" />
<line x1="73.30" y1="718.92" x2="79.80" y2="718.92" stroke="#111" stroke-width="1.2" />
<line x1="73.30" y1="708.45" x2="76.80" y2="708.45" stroke="#111" stroke-width="1.2" />
<line x1="73.30" y1="702.33" x2="76.80" y2="702.33" stroke="#111" stroke-width="1.2" />
<line x1="73.30" y1="697.98" x2="76.80" y2="697.98" stroke="#111" stroke-width="1.2" />
<line x1="73.30" y1="694.61" x2="76.80" y2="694.61" stroke="#111" stroke-width="1.2" />
<line x1="73.30" y1="691.86" x2="76.80" y2="691.86" stroke="#111" stroke-width="1.2" />
<line x1="73.30" y1="689.53" x2="76.80" y2="689.53" stroke="#111" stroke-width="1.2" />
<line x1="73.30" y1="687.51" x2="76.80" y2="687.51" stroke="#111" stroke-width="1.2" />
<line x1="73.30" y1="685.73" x2="76.80" y2="685.73" stroke="#111" stroke-width="1.2" />
<line x1="73.30" y1="684.14" x2="79.80" y2="684.14" stroke="#111" stroke-width="1.2" />
<line x1="73.30" y1="673.67" x2="76.80" y2="673.67" stroke="#111" stroke-width="1.2" />
<line x1="73.30" y1="667.55" x2="76.80" y2="667.55" stroke="#111" stroke-width="1.2" />
<line x1="73.30" y1="663.20" x2="76.80" y2="663.20" stroke="#111" stroke-width="1.2" />
<line x1="73.30" y1="659.83" x2="76.80" y2="659.83" stroke="#111" stroke-width="1.2" />
<line x1="73.30" y1="657.08" x2="76.80" y2="657.08" stroke="#111" stroke-width="1.2" />
<line x1="73.30" y1="654.75" x2="76.80" y2="654.75" stroke="#111" stroke-width="1.2" />
<line x1="73.30" y1="652.73" x2="76.80" y2="652.73" stroke="#111" stroke-width="1.2" />
<line x1="73.30" y1="650.95" x2="76.80" y2="650.95" stroke="#111" stroke-width="1.2" />
<line x1="73.30" y1="649.36" x2="79.80" y2="649.36" stroke="#111" stroke-width="1.2" />
<line x1="73.30" y1="638.89" x2="76.80" y2="638.89" stroke="#111" stroke-width="1.2" />
<line x1="73.30" y1="632.77" x2="76.80" y2="632.77" stroke="#111" stroke-width="1.2" />
<line x1="73.30" y1="628.42" x2="76.80" y2="628.42" stroke="#111" stroke-width="1.2" />
<line x1="73.30" y1="625.05" x2="76.80" y2="625.05" stroke="#111" stroke-width="1.2" />
<line x1="73.30" y1="622.30" x2="76.80" y2="622.30" stroke="#111" stroke-width="1.2" />
<line x1="73.30" y1="619.97" x2="76.80" y2="619.97" stroke="#111" stroke-width="1.2" />
<line x1="73.30" y1="617.95" x2="76.80" y2="617.95" stroke="#111" stroke-width="1.2" />
<line x1="73.30" y1="616.17" x2="76.80" y2="616.17" stroke="#111" stroke-width="1.2" />
<line x1="73.30" y1="614.58" x2="79.80" y2="614.58" stroke="#111" stroke-width="1.2" />
<line x1="73.30" y1="604.11" x2="76.80" y2="604.11" stroke="#111" stroke-width="1.2" />
<line x1="73.30" y1="597.99" x2="76.80" y2="597.99" stroke="#111" stroke-width="1.2" />
<line x1="73.30" y1="593.64" x2="76.80" y2="593.64" stroke="#111" stroke-width="1.2" />
<line x1="73.30" y1="590.27" x2="76.80" y2="590.27" stroke="#111" stroke-width="1.2" />
<line x1="73.30" y1="587.52" x2="76.80" y2="587.52" stroke="#111" stroke-width="1.2" />
<line x1="73.30" y1="585.19" x2="76.80" y2="585.19" stroke="#111" stroke-width="1.2" />
<line x1="73.30" y1="583.17" x2="76.80" y2="583.17" stroke="#111" stroke-width="1.2" />
<line x1="73.30" y1="581.39" x2="76.80" y2="581.39" stroke="#111" stroke-width="1.2" />
<line x1="73.30" y1="579.80" x2="79.80" y2="579.80" stroke="#111" stroke-width="1.2" />
<line x1="73.30" y1="569.33" x2="76.80" y2="569.33" stroke="#111" stroke-width="1.2" />
<line x1="73.30" y1="563.21" x2="76.80" y2="563.21" stroke="#111" stroke-width="1.2" />
<line x1="73.30" y1="558.86" x2="76.80" y2="558.86" stroke="#111" stroke-width="1.2" />
<line x1="73.30" y1="555.49" x2="76.80" y2="555.49" stroke="#111" stroke-width="1.2" />
<line x1="73.30" y1="552.74" x2="76.80" y2="552.74" stroke="#111" stroke-width="1.2" />
<line x1="73.30" y1="550.41" x2="76.80" y2="550.41" stroke="#111" stroke-width="1.2" />
<line x1="73.30" y1="548.39" x2="76.80" y2="548.39" stroke="#111" stroke-width="1.2" />
<line x1="73.30" y1="546.61" x2="76.80" y2="546.61" stroke="#111" stroke-width="1.2" />
<line x1="73.30" y1="545.02" x2="79.80" y2="545.02" stroke="#111" stroke-width="1.2" />
<line x1="73.30" y1="534.55" x2="76.80" y2="534.55" stroke="#111" stroke-width="1.2" />
<line x1="73.30" y1="528.43" x2="76.80" y2="528.43" stroke="#111" stroke-width="1.2" />
<line x1="73.30" y1="524.08" x2="76.80" y2="524.08" stroke="#111" stroke-width="1.2" />
<line x1="73.30" y1="520.71" x2="76.80" y2="520.71" stroke="#111" stroke-width="1.2" />
<line x1="73.30" y1="517.96" x2="76.80" y2="517.96" stroke="#111" stroke-width="1.2" />
<line x1="73.30" y1="515.63" x2="76.80" y2="515.63" stroke="#111" stroke-width="1.2" />
<line x1="73.30" y1="513.61" x2="76.80" y2="513.61" stroke="#111" stroke-width="1.2" />
<line x1="73.30" y1="511.83" x2="76.80" y2="511.83" stroke="#111" stroke-width="1.2" />
<line x1="73.30" y1="510.24" x2="79.80" y2="510.24" stroke="#111" stroke-width="1.2" />
<line x1="73.30" y1="499.77" x2="76.80" y2="499.77" stroke="#111" stroke-width="1.2" />
<line x1="73.30" y1="493.65" x2="76.80" y2="493.65" stroke="#111" stroke-width="1.2" />
<line x1="73.30" y1="489.30" x2="76.80" y2="489.30" stroke="#111" stroke-width="1.2" />
<line x1="73.30" y1="485.93" x2="76.80" y2="485.93" stroke="#111" stroke-width="1.2" />
<line x1="73.30" y1="483.18" x2="76.80" y2="483.18" stroke="#111" stroke-width="1.2" />
<line x1="73.30" y1="480.85" x2="76.80" y2="480.85" stroke="#111" stroke-width="1.2" />
<line x1="73.30" y1="478.83" x2="76.80" y2="478.83" stroke="#111" stroke-width="1.2" />
<line x1="73.30" y1="477.05" x2="76.80" y2="477.05" stroke="#111" stroke-width="1.2" />
<line x1="73.30" y1="475.46" x2="79.80" y2="475.46" stroke="#111" stroke-width="1.2" />
<line x1="73.30" y1="464.99" x2="76.80" y2="464.99" stroke="#111" stroke-width="1.2" />
<line x1="73.30" y1="458.87" x2="76.80" y2="458.87" stroke="#111" stroke-width="1.2" />
<line x1="73.30" y1="454.52" x2="76.80" y2="454.52" stroke="#111" stroke-width="1.2" />
<line x1="73.30" y1="451.15" x2="76.80" y2="451.15" stroke="#111" stroke-width="1.2" />
<line x1="73.30" y1="448.40" x2="76.80" y2="448.40" stroke="#111" stroke-width="1.2" />
<line x1="73.30" y1="446.07" x2="76.80" y2="446.07" stroke="#111" stroke-width="1.2" />
<line x1="73.30" y1="444.05" x2="76.80" y2="444.05" stroke="#111" stroke-width="1.2" />
<line x1="73.30" y1="442.27" x2="76.80" y2="442.27" stroke="#111" stroke-width="1.2" />
<line x1="73.30" y1="440.68" x2="79.80" y2="440.68" stroke="#111" stroke-width="1.2" />
<line x1="73.30" y1="430.21" x2="76.80" y2="430.21" stroke="#111" stroke-width="1.2" />
<line x1="73.30" y1="424.09" x2="76.80" y2="424.09" stroke="#111" stroke-width="1.2" />
<line x1="73.30" y1="419.74" x2="76.80" y2="419.74" stroke="#111" stroke-width="1.2" />
<rect x="73.3" y="418.0" width="208.5" height="335.70000000000005" fill="none" stroke="#111" stroke-width="1.8"/>
<line x1="406.74" y1="753.70" x2="406.74" y2="750.20" stroke="#111" stroke-width="1.2" />
<line x1="414.07" y1="753.70" x2="414.07" y2="750.20" stroke="#111" stroke-width="1.2" />
<line x1="419.28" y1="753.70" x2="419.28" y2="750.20" stroke="#111" stroke-width="1.2" />
<line x1="423.31" y1="753.70" x2="423.31" y2="750.20" stroke="#111" stroke-width="1.2" />
<line x1="426.61" y1="753.70" x2="426.61" y2="750.20" stroke="#111" stroke-width="1.2" />
<line x1="429.40" y1="753.70" x2="429.40" y2="750.20" stroke="#111" stroke-width="1.2" />
<line x1="431.81" y1="753.70" x2="431.81" y2="750.20" stroke="#111" stroke-width="1.2" />
<line x1="433.94" y1="753.70" x2="433.94" y2="750.20" stroke="#111" stroke-width="1.2" />
<line x1="435.85" y1="753.70" x2="435.85" y2="747.20" stroke="#111" stroke-width="1.2" />
<line x1="448.39" y1="753.70" x2="448.39" y2="750.20" stroke="#111" stroke-width="1.2" />
<line x1="455.72" y1="753.70" x2="455.72" y2="750.20" stroke="#111" stroke-width="1.2" />
<line x1="460.93" y1="753.70" x2="460.93" y2="750.20" stroke="#111" stroke-width="1.2" />
<line x1="464.96" y1="753.70" x2="464.96" y2="750.20" stroke="#111" stroke-width="1.2" />
<line x1="468.26" y1="753.70" x2="468.26" y2="750.20" stroke="#111" stroke-width="1.2" />
<line x1="471.05" y1="753.70" x2="471.05" y2="750.20" stroke="#111" stroke-width="1.2" />
<line x1="473.46" y1="753.70" x2="473.46" y2="750.20" stroke="#111" stroke-width="1.2" />
<line x1="475.59" y1="753.70" x2="475.59" y2="750.20" stroke="#111" stroke-width="1.2" />
<line x1="477.50" y1="753.70" x2="477.50" y2="747.20" stroke="#111" stroke-width="1.2" />
<line x1="490.04" y1="753.70" x2="490.04" y2="750.20" stroke="#111" stroke-width="1.2" />
<line x1="497.37" y1="753.70" x2="497.37" y2="750.20" stroke="#111" stroke-width="1.2" />
<line x1="502.58" y1="753.70" x2="502.58" y2="750.20" stroke="#111" stroke-width="1.2" />
<line x1="506.61" y1="753.70" x2="506.61" y2="750.20" stroke="#111" stroke-width="1.2" />
<line x1="509.91" y1="753.70" x2="509.91" y2="750.20" stroke="#111" stroke-width="1.2" />
<line x1="512.70" y1="753.70" x2="512.70" y2="750.20" stroke="#111" stroke-width="1.2" />
<line x1="515.11" y1="753.70" x2="515.11" y2="750.20" stroke="#111" stroke-width="1.2" />
<line x1="517.24" y1="753.70" x2="517.24" y2="750.20" stroke="#111" stroke-width="1.2" />
<line x1="519.15" y1="753.70" x2="519.15" y2="747.20" stroke="#111" stroke-width="1.2" />
<line x1="531.69" y1="753.70" x2="531.69" y2="750.20" stroke="#111" stroke-width="1.2" />
<line x1="539.02" y1="753.70" x2="539.02" y2="750.20" stroke="#111" stroke-width="1.2" />
<line x1="544.23" y1="753.70" x2="544.23" y2="750.20" stroke="#111" stroke-width="1.2" />
<line x1="548.26" y1="753.70" x2="548.26" y2="750.20" stroke="#111" stroke-width="1.2" />
<line x1="551.56" y1="753.70" x2="551.56" y2="750.20" stroke="#111" stroke-width="1.2" />
<line x1="554.35" y1="753.70" x2="554.35" y2="750.20" stroke="#111" stroke-width="1.2" />
<line x1="556.76" y1="753.70" x2="556.76" y2="750.20" stroke="#111" stroke-width="1.2" />
<line x1="558.89" y1="753.70" x2="558.89" y2="750.20" stroke="#111" stroke-width="1.2" />
<line x1="560.80" y1="753.70" x2="560.80" y2="747.20" stroke="#111" stroke-width="1.2" />
<line x1="573.34" y1="753.70" x2="573.34" y2="750.20" stroke="#111" stroke-width="1.2" />
<line x1="580.67" y1="753.70" x2="580.67" y2="750.20" stroke="#111" stroke-width="1.2" />
<line x1="585.88" y1="753.70" x2="585.88" y2="750.20" stroke="#111" stroke-width="1.2" />
<line x1="589.91" y1="753.70" x2="589.91" y2="750.20" stroke="#111" stroke-width="1.2" />
<line x1="593.21" y1="753.70" x2="593.21" y2="750.20" stroke="#111" stroke-width="1.2" />
<line x1="596.00" y1="753.70" x2="596.00" y2="750.20" stroke="#111" stroke-width="1.2" />
<line x1="598.41" y1="753.70" x2="598.41" y2="750.20" stroke="#111" stroke-width="1.2" />
<line x1="600.54" y1="753.70" x2="600.54" y2="750.20" stroke="#111" stroke-width="1.2" />
<line x1="394.20" y1="743.23" x2="397.70" y2="743.23" stroke="#111" stroke-width="1.2" />
<line x1="394.20" y1="737.11" x2="397.70" y2="737.11" stroke="#111" stroke-width="1.2" />
<line x1="394.20" y1="732.76" x2="397.70" y2="732.76" stroke="#111" stroke-width="1.2" />
<line x1="394.20" y1="729.39" x2="397.70" y2="729.39" stroke="#111" stroke-width="1.2" />
<line x1="394.20" y1="726.64" x2="397.70" y2="726.64" stroke="#111" stroke-width="1.2" />
<line x1="394.20" y1="724.31" x2="397.70" y2="724.31" stroke="#111" stroke-width="1.2" />
<line x1="394.20" y1="722.29" x2="397.70" y2="722.29" stroke="#111" stroke-width="1.2" />
<line x1="394.20" y1="720.51" x2="397.70" y2="720.51" stroke="#111" stroke-width="1.2" />
<line x1="394.20" y1="718.92" x2="400.70" y2="718.92" stroke="#111" stroke-width="1.2" />
<line x1="394.20" y1="708.45" x2="397.70" y2="708.45" stroke="#111" stroke-width="1.2" />
<line x1="394.20" y1="702.33" x2="397.70" y2="702.33" stroke="#111" stroke-width="1.2" />
<line x1="394.20" y1="697.98" x2="397.70" y2="697.98" stroke="#111" stroke-width="1.2" />
<line x1="394.20" y1="694.61" x2="397.70" y2="694.61" stroke="#111" stroke-width="1.2" />
<line x1="394.20" y1="691.86" x2="397.70" y2="691.86" stroke="#111" stroke-width="1.2" />
<line x1="394.20" y1="689.53" x2="397.70" y2="689.53" stroke="#111" stroke-width="1.2" />
<line x1="394.20" y1="687.51" x2="397.70" y2="687.51" stroke="#111" stroke-width="1.2" />
<line x1="394.20" y1="685.73" x2="397.70" y2="685.73" stroke="#111" stroke-width="1.2" />
<line x1="394.20" y1="684.14" x2="400.70" y2="684.14" stroke="#111" stroke-width="1.2" />
<line x1="394.20" y1="673.67" x2="397.70" y2="673.67" stroke="#111" stroke-width="1.2" />
<line x1="394.20" y1="667.55" x2="397.70" y2="667.55" stroke="#111" stroke-width="1.2" />
<line x1="394.20" y1="663.20" x2="397.70" y2="663.20" stroke="#111" stroke-width="1.2" />
<line x1="394.20" y1="659.83" x2="397.70" y2="659.83" stroke="#111" stroke-width="1.2" />
<line x1="394.20" y1="657.08" x2="397.70" y2="657.08" stroke="#111" stroke-width="1.2" />
<line x1="394.20" y1="654.75" x2="397.70" y2="654.75" stroke="#111" stroke-width="1.2" />
<line x1="394.20" y1="652.73" x2="397.70" y2="652.73" stroke="#111" stroke-width="1.2" />
<line x1="394.20" y1="650.95" x2="397.70" y2="650.95" stroke="#111" stroke-width="1.2" />
<line x1="394.20" y1="649.36" x2="400.70" y2="649.36" stroke="#111" stroke-width="1.2" />
<line x1="394.20" y1="638.89" x2="397.70" y2="638.89" stroke="#111" stroke-width="1.2" />
<line x1="394.20" y1="632.77" x2="397.70" y2="632.77" stroke="#111" stroke-width="1.2" />
<line x1="394.20" y1="628.42" x2="397.70" y2="628.42" stroke="#111" stroke-width="1.2" />
<line x1="394.20" y1="625.05" x2="397.70" y2="625.05" stroke="#111" stroke-width="1.2" />
<line x1="394.20" y1="622.30" x2="397.70" y2="622.30" stroke="#111" stroke-width="1.2" />
<line x1="394.20" y1="619.97" x2="397.70" y2="619.97" stroke="#111" stroke-width="1.2" />
<line x1="394.20" y1="617.95" x2="397.70" y2="617.95" stroke="#111" stroke-width="1.2" />
<line x1="394.20" y1="616.17" x2="397.70" y2="616.17" stroke="#111" stroke-width="1.2" />
<line x1="394.20" y1="614.58" x2="400.70" y2="614.58" stroke="#111" stroke-width="1.2" />
<line x1="394.20" y1="604.11" x2="397.70" y2="604.11" stroke="#111" stroke-width="1.2" />
<line x1="394.20" y1="597.99" x2="397.70" y2="597.99" stroke="#111" stroke-width="1.2" />
<line x1="394.20" y1="593.64" x2="397.70" y2="593.64" stroke="#111" stroke-width="1.2" />
<line x1="394.20" y1="590.27" x2="397.70" y2="590.27" stroke="#111" stroke-width="1.2" />
<line x1="394.20" y1="587.52" x2="397.70" y2="587.52" stroke="#111" stroke-width="1.2" />
<line x1="394.20" y1="585.19" x2="397.70" y2="585.19" stroke="#111" stroke-width="1.2" />
<line x1="394.20" y1="583.17" x2="397.70" y2="583.17" stroke="#111" stroke-width="1.2" />
<line x1="394.20" y1="581.39" x2="397.70" y2="581.39" stroke="#111" stroke-width="1.2" />
<line x1="394.20" y1="579.80" x2="400.70" y2="579.80" stroke="#111" stroke-width="1.2" />
<line x1="394.20" y1="569.33" x2="397.70" y2="569.33" stroke="#111" stroke-width="1.2" />
<line x1="394.20" y1="563.21" x2="397.70" y2="563.21" stroke="#111" stroke-width="1.2" />
<line x1="394.20" y1="558.86" x2="397.70" y2="558.86" stroke="#111" stroke-width="1.2" />
<line x1="394.20" y1="555.49" x2="397.70" y2="555.49" stroke="#111" stroke-width="1.2" />
<line x1="394.20" y1="552.74" x2="397.70" y2="552.74" stroke="#111" stroke-width="1.2" />
<line x1="394.20" y1="550.41" x2="397.70" y2="550.41" stroke="#111" stroke-width="1.2" />
<line x1="394.20" y1="548.39" x2="397.70" y2="548.39" stroke="#111" stroke-width="1.2" />
<line x1="394.20" y1="546.61" x2="397.70" y2="546.61" stroke="#111" stroke-width="1.2" />
<line x1="394.20" y1="545.02" x2="400.70" y2="545.02" stroke="#111" stroke-width="1.2" />
<line x1="394.20" y1="534.55" x2="397.70" y2="534.55" stroke="#111" stroke-width="1.2" />
<line x1="394.20" y1="528.43" x2="397.70" y2="528.43" stroke="#111" stroke-width="1.2" />
<line x1="394.20" y1="524.08" x2="397.70" y2="524.08" stroke="#111" stroke-width="1.2" />
<line x1="394.20" y1="520.71" x2="397.70" y2="520.71" stroke="#111" stroke-width="1.2" />
<line x1="394.20" y1="517.96" x2="397.70" y2="517.96" stroke="#111" stroke-width="1.2" />
<line x1="394.20" y1="515.63" x2="397.70" y2="515.63" stroke="#111" stroke-width="1.2" />
<line x1="394.20" y1="513.61" x2="397.70" y2="513.61" stroke="#111" stroke-width="1.2" />
<line x1="394.20" y1="511.83" x2="397.70" y2="511.83" stroke="#111" stroke-width="1.2" />
<line x1="394.20" y1="510.24" x2="400.70" y2="510.24" stroke="#111" stroke-width="1.2" />
<line x1="394.20" y1="499.77" x2="397.70" y2="499.77" stroke="#111" stroke-width="1.2" />
<line x1="394.20" y1="493.65" x2="397.70" y2="493.65" stroke="#111" stroke-width="1.2" />
<line x1="394.20" y1="489.30" x2="397.70" y2="489.30" stroke="#111" stroke-width="1.2" />
<line x1="394.20" y1="485.93" x2="397.70" y2="485.93" stroke="#111" stroke-width="1.2" />
<line x1="394.20" y1="483.18" x2="397.70" y2="483.18" stroke="#111" stroke-width="1.2" />
<line x1="394.20" y1="480.85" x2="397.70" y2="480.85" stroke="#111" stroke-width="1.2" />
<line x1="394.20" y1="478.83" x2="397.70" y2="478.83" stroke="#111" stroke-width="1.2" />
<line x1="394.20" y1="477.05" x2="397.70" y2="477.05" stroke="#111" stroke-width="1.2" />
<line x1="394.20" y1="475.46" x2="400.70" y2="475.46" stroke="#111" stroke-width="1.2" />
<line x1="394.20" y1="464.99" x2="397.70" y2="464.99" stroke="#111" stroke-width="1.2" />
<line x1="394.20" y1="458.87" x2="397.70" y2="458.87" stroke="#111" stroke-width="1.2" />
<line x1="394.20" y1="454.52" x2="397.70" y2="454.52" stroke="#111" stroke-width="1.2" />
<line x1="394.20" y1="451.15" x2="397.70" y2="451.15" stroke="#111" stroke-width="1.2" />
<line x1="394.20" y1="448.40" x2="397.70" y2="448.40" stroke="#111" stroke-width="1.2" />
<line x1="394.20" y1="446.07" x2="397.70" y2="446.07" stroke="#111" stroke-width="1.2" />
<line x1="394.20" y1="444.05" x2="397.70" y2="444.05" stroke="#111" stroke-width="1.2" />
<line x1="394.20" y1="442.27" x2="397.70" y2="442.27" stroke="#111" stroke-width="1.2" />
<line x1="394.20" y1="440.68" x2="400.70" y2="440.68" stroke="#111" stroke-width="1.2" />
<line x1="394.20" y1="430.21" x2="397.70" y2="430.21" stroke="#111" stroke-width="1.2" />
<line x1="394.20" y1="424.09" x2="397.70" y2="424.09" stroke="#111" stroke-width="1.2" />
<line x1="394.20" y1="419.74" x2="397.70" y2="419.74" stroke="#111" stroke-width="1.2" />
<rect x="394.2" y="418.3" width="208.7" height="335.40000000000003" fill="none" stroke="#111" stroke-width="1.8"/>
<path d="M73.3,672.3 74.1,672.3 74.9,672.3 75.7,672.3 76.5,672.3 77.3,672.3 78.1,672.3 79.0,672.3 79.8,672.3 80.6,672.3 81.4,672.3 82.2,672.3 83.0,672.3 83.8,672.3 84.6,672.3 85.4,672.3 86.2,672.3 87.0,672.3 87.8,672.3 88.6,672.3 89.4,672.3 90.3,672.3 91.1,672.3 91.9,672.3 92.7,672.3 93.5,672.3 94.3,672.3 95.1,672.3 95.9,672.3 96.7,672.3 97.5,672.3 98.3,672.3 99.1,672.3 99.9,672.3 100.7,672.3 101.6,672.3 102.4,672.3 103.2,672.3 104.0,672.3 104.8,672.3 105.6,672.3 106.4,672.3 107.2,672.3 108.0,672.3 108.8,672.3 109.6,672.3 110.4,672.3 111.2,672.3 112.1,672.3 112.9,672.3 113.7,672.3 114.5,672.3 115.3,672.3 116.1,672.3 116.9,672.3 117.7,672.3 118.5,672.3 119.3,672.3 120.1,672.3 120.9,672.3 121.7,672.3 122.5,672.3 123.4,672.3 124.2,672.3 125.0,672.3 125.8,672.3 126.6,672.3 127.4,672.3 128.2,672.3 129.0,672.3 129.8,672.3 130.6,672.3 131.4,672.3 132.2,672.3 133.0,672.3 133.8,672.3 134.7,672.3 135.5,672.3 136.3,672.3 137.1,672.3 137.9,672.3 138.7,672.3 139.5,672.3 140.3,672.3 141.1,672.3 141.9,672.3 142.7,672.3 143.5,672.3 144.3,672.3 145.1,672.3 146.0,672.3 146.8,672.3 147.6,672.3 148.4,672.3 149.2,672.3 150.0,672.3 150.8,672.3 151.6,672.2 152.4,672.2 153.2,672.2 154.0,672.2 154.8,672.2 155.6,672.2 156.5,672.2 157.3,672.2 158.1,672.2 158.9,672.2 159.7,672.2 160.5,672.2 161.3,672.2 162.1,672.2 162.9,672.2 163.7,672.2 164.5,672.2 165.3,672.2 166.1,672.2 166.9,672.1 167.8,672.1 168.6,672.1 169.4,672.1 170.2,672.1 171.0,672.1 171.8,672.0 172.6,672.0 173.4,672.0 174.2,672.0 175.0,672.0 175.8,671.9 176.6,671.9 177.4,671.9 178.2,671.8 179.1,671.8 179.9,671.7 180.7,671.7 181.5,671.6 182.3,671.6 183.1,671.5 183.9,671.4 184.7,671.3 185.5,671.3 186.3,671.2 187.1,671.1 187.9,671.0 188.7,670.8 189.6,670.7 190.4,670.6 191.2,670.4 192.0,670.3 192.8,670.1 193.6,669.9 194.4,669.7 195.2,669.4 196.0,669.2 196.8,668.9 197.6,668.6 198.4,668.3 199.2,668.0 200.0,667.6 200.9,667.2 201.7,666.8 202.5,666.4 203.3,665.9 204.1,665.4 204.9,664.8 205.7,664.3 206.1,663.9 206.5,663.6 206.9,663.3 207.3,663.0 207.7,662.6 208.1,662.3 208.5,661.9 208.9,661.5 209.3,661.1 209.7,660.7 210.1,660.3 210.5,659.9 210.9,659.4 211.3,659.0 211.8,658.5 212.2,658.1 212.6,657.6 213.0,657.1 213.4,656.6 213.8,656.0 214.2,655.5 214.6,654.9 215.0,654.4 215.4,653.8 215.8,653.2 216.2,652.6 216.6,652.0 217.0,651.4 217.4,650.7 217.8,650.1 218.2,649.4 218.6,648.7 219.0,648.0 219.4,647.3 219.8,646.6 220.2,645.9 220.6,645.1 221.0,644.4 221.4,643.6 221.8,642.8 222.2,642.0 222.6,641.2 223.1,640.4 223.5,639.5 223.9,638.7 224.3,637.8 224.7,636.9 225.1,636.1 225.5,635.2 225.9,634.2 226.3,633.3 226.7,632.4 227.1,631.4 227.5,630.5 227.9,629.5 228.3,628.5 228.7,627.5 229.1,626.5 229.5,625.5 229.9,624.5 230.3,623.5 230.7,622.4 231.1,621.4 231.5,620.3 231.9,619.3 232.3,618.2 232.7,617.1 233.1,616.0 233.5,614.9 234.0,613.8 234.4,612.7 234.8,611.5 235.2,610.4 235.6,609.3 236.0,608.1 236.4,606.9 236.8,605.8 237.2,604.6 237.6,603.4 238.0,602.2 238.4,601.1 238.8,599.9 239.2,598.7 239.6,597.5 240.0,596.2 240.4,595.0 240.8,593.8 241.2,592.6 241.6,591.3 242.0,590.1 242.4,588.9 242.8,587.6 243.2,586.4 243.6,585.1 244.0,583.9 244.4,582.6 244.8,581.3 245.3,580.1 245.7,578.8 246.1,577.5 246.5,576.2 246.9,575.0 247.3,573.7 247.7,572.4 248.1,571.1 248.5,569.8 248.9,568.5 249.3,567.2 249.7,565.9 250.1,564.6 250.5,563.3 250.9,562.0 251.3,560.7 251.7,559.4 252.1,558.1 252.5,556.8 252.9,555.5 253.3,554.2 253.7,552.9 254.1,551.5 254.5,550.2 254.9,548.9 255.3,547.6 255.7,546.3 256.2,544.9 256.6,543.6 257.0,542.3 257.4,541.0 257.8,539.6 258.2,538.3 258.6,537.0 259.0,535.7 259.4,534.3 259.8,533.0 260.2,531.7 260.6,530.3 261.0,529.0 261.4,527.7 261.8,526.3 262.2,525.0 262.6,523.7 263.0,522.3 263.4,521.0 263.8,519.6 264.2,518.3 264.6,517.0 265.0,515.6 265.4,514.3 265.8,513.0 266.2,511.6 266.6,510.3 267.1,508.9 267.5,507.6 267.9,506.3 268.3,504.9 268.7,503.6 269.1,502.2 269.5,500.9 269.9,499.5 270.3,498.2 270.7,496.9 271.1,495.5 271.5,494.2 271.9,492.8 272.3,491.5 272.7,490.1 273.1,488.8 273.5,487.4 273.9,486.1 274.3,484.8 274.7,483.4" fill="none" stroke="#c6c6c6" stroke-width="1.8"/>
<path d="M73.3,562.0 74.1,562.0 74.9,562.0 75.7,562.0 76.5,562.0 77.3,562.0 78.1,562.0 79.0,562.0 79.8,562.0 80.6,562.0 81.4,562.0 82.2,562.0 83.0,562.0 83.8,562.0 84.6,562.0 85.4,562.0 86.2,562.0 87.0,562.0 87.8,562.0 88.6,562.0 89.4,562.0 90.3,562.0 91.1,562.0 91.9,562.0 92.7,562.0 93.5,562.0 94.3,562.0 95.1,562.0 95.9,562.0 96.7,562.0 97.5,562.0 98.3,562.0 99.1,562.0 99.9,562.0 100.7,562.0 101.6,562.0 102.4,562.0 103.2,562.0 104.0,562.0 104.8,562.0 105.6,562.0 106.4,562.0 107.2,562.0 108.0,562.0 108.8,562.0 109.6,562.0 110.4,562.0 111.2,562.0 112.1,562.0 112.9,562.0 113.7,562.0 114.5,562.0 115.3,562.0 116.1,562.0 116.9,562.0 117.7,562.0 118.5,562.0 119.3,562.0 120.1,562.0 120.9,562.0 121.7,562.0 122.5,562.0 123.4,562.0 124.2,562.0 125.0,562.0 125.8,562.0 126.6,562.0 127.4,562.0 128.2,562.0 129.0,562.0 129.8,562.0 130.6,562.0 131.4,562.0 132.2,562.0 133.0,562.0 133.8,562.0 134.7,562.0 135.5,562.0 136.3,562.0 137.1,562.0 137.9,562.0 138.7,562.0 139.5,562.0 140.3,562.0 141.1,562.0 141.9,562.0 142.7,562.0 143.5,562.0 144.3,562.0 145.1,562.0 146.0,562.0 146.8,562.0 147.6,562.0 148.4,562.0 149.2,562.0 150.0,562.0 150.8,562.0 151.6,562.0 152.4,562.0 153.2,562.0 154.0,562.0 154.8,562.0 155.6,562.0 156.5,562.0 157.3,562.0 158.1,562.0 158.9,562.0 159.7,562.0 160.5,562.0 161.3,562.0 162.1,562.0 162.9,562.0 163.7,562.0 164.5,562.0 165.3,562.0 166.1,562.0 166.9,562.0 167.8,562.0 168.6,562.0 169.4,562.0 170.2,562.0 171.0,562.0 171.8,562.0 172.6,562.0 173.4,562.0 174.2,562.0 175.0,562.0 175.8,562.0 176.6,562.0 177.4,562.0 178.2,562.0 179.1,562.0 179.9,562.0 180.7,562.0 181.5,562.0 182.3,562.0 183.1,562.0 183.9,562.0 184.7,562.0 185.5,562.0 186.3,562.0 187.1,562.0 187.9,562.0 188.7,562.0 189.6,562.0 190.4,562.0 191.2,562.0 192.0,562.0 192.8,562.0 193.6,562.0 194.4,562.0 195.2,562.0 196.0,562.0 196.8,562.0 197.6,562.0 198.4,562.0 199.2,562.0 200.0,562.0 200.9,562.0 201.7,562.0 202.5,562.0 203.3,562.0 204.1,562.0 204.9,562.0 205.7,562.0 206.5,562.0 207.3,562.0 208.1,562.0 208.9,562.0 209.7,562.0 210.5,562.0 211.3,562.0 212.2,562.0 213.0,562.0 213.8,562.0 214.6,562.0 215.4,562.0 216.2,562.0 217.0,562.0 217.8,562.0 218.6,562.0 219.4,562.0 220.2,562.0 221.0,562.0 221.8,562.0 222.6,562.0 223.5,562.0 224.3,562.0 225.1,562.0 225.9,562.0 226.7,562.0 227.5,562.0 228.3,562.0 229.1,562.0 229.9,561.9 230.7,561.9 231.5,561.9 232.3,561.9 233.1,561.9 234.0,561.9 234.8,561.9 235.6,561.9 236.4,561.9 237.2,561.9 238.0,561.8 238.8,561.8 239.6,561.8 240.4,561.8 241.2,561.8 242.0,561.7 242.8,561.7 243.6,561.7 244.4,561.7 245.3,561.6 246.1,561.6 246.9,561.5 247.7,561.5 248.5,561.4 249.3,561.4 250.1,561.3 250.9,561.3 251.7,561.2 252.5,561.1 253.3,561.0 254.1,561.0 254.9,560.9 255.7,560.7 256.6,560.6 257.4,560.5 258.2,560.4 259.0,560.2 259.8,560.1 260.6,559.9 261.4,559.7 262.2,559.5 263.0,559.3 263.8,559.0 264.6,558.7 265.4,558.5 266.2,558.1 267.1,557.8 267.9,557.4 268.7,557.0 269.5,556.6 270.3,556.2 271.1,555.7 271.9,555.1 272.7,554.6 273.1,554.3 273.5,554.0 273.9,553.6 274.3,553.3 274.7,553.0" fill="none" stroke="#d278d6" stroke-width="1.8"/>
<path d="M73.3,596.8 74.1,596.8 74.9,596.8 75.7,596.8 76.5,596.8 77.3,596.8 78.1,596.8 79.0,596.8 79.8,596.8 80.6,596.8 81.4,596.8 82.2,596.8 83.0,596.8 83.8,596.8 84.6,596.8 85.4,596.8 86.2,596.8 87.0,596.8 87.8,596.8 88.6,596.8 89.4,596.8 90.3,596.8 91.1,596.8 91.9,596.8 92.7,596.8 93.5,596.8 94.3,596.8 95.1,596.8 95.9,596.8 96.7,596.8 97.5,596.8 98.3,596.8 99.1,596.8 99.9,596.8 100.7,596.8 101.6,596.8 102.4,596.8 103.2,596.8 104.0,596.8 104.8,596.8 105.6,596.8 106.4,596.8 107.2,596.8 108.0,596.8 108.8,596.8 109.6,596.8 110.4,596.8 111.2,596.8 112.1,596.8 112.9,596.8 113.7,596.8 114.5,596.8 115.3,596.8 116.1,596.8 116.9,596.8 117.7,596.8 118.5,596.8 119.3,596.8 120.1,596.8 120.9,596.8 121.7,596.8 122.5,596.8 123.4,596.8 124.2,596.8 125.0,596.8 125.8,596.8 126.6,596.8 127.4,596.8 128.2,596.8 129.0,596.8 129.8,596.8 130.6,596.8 131.4,596.8 132.2,596.8 133.0,596.8 133.8,596.8 134.7,596.8 135.5,596.8 136.3,596.8 137.1,596.8 137.9,596.8 138.7,596.8 139.5,596.8 140.3,596.8 141.1,596.8 141.9,596.8 142.7,596.8 143.5,596.8 144.3,596.8 145.1,596.8 146.0,596.8 146.8,596.8 147.6,596.8 148.4,596.8 149.2,596.8 150.0,596.8 150.8,596.8 151.6,596.8 152.4,596.8 153.2,596.8 154.0,596.8 154.8,596.8 155.6,596.8 156.5,596.8 157.3,596.8 158.1,596.8 158.9,596.8 159.7,596.8 160.5,596.8 161.3,596.8 162.1,596.8 162.9,596.8 163.7,596.8 164.5,596.8 165.3,596.8 166.1,596.8 166.9,596.8 167.8,596.8 168.6,596.8 169.4,596.8 170.2,596.8 171.0,596.8 171.8,596.8 172.6,596.8 173.4,596.8 174.2,596.8 175.0,596.8 175.8,596.8 176.6,596.8 177.4,596.8 178.2,596.8 179.1,596.8 179.9,596.8 180.7,596.8 181.5,596.8 182.3,596.8 183.1,596.8 183.9,596.8 184.7,596.8 185.5,596.8 186.3,596.8 187.1,596.8 187.9,596.8 188.7,596.8 189.6,596.8 190.4,596.8 191.2,596.8 192.0,596.8 192.8,596.8 193.6,596.8 194.4,596.8 195.2,596.8 196.0,596.8 196.8,596.8 197.6,596.8 198.4,596.8 199.2,596.8 200.0,596.8 200.9,596.8 201.7,596.8 202.5,596.8 203.3,596.8 204.1,596.8 204.9,596.8 205.7,596.7 206.5,596.7 207.3,596.7 208.1,596.7 208.9,596.7 209.7,596.7 210.5,596.7 211.3,596.7 212.2,596.7 213.0,596.7 213.8,596.7 214.6,596.7 215.4,596.7 216.2,596.6 217.0,596.6 217.8,596.6 218.6,596.6 219.4,596.6 220.2,596.5 221.0,596.5 221.8,596.5 222.6,596.5 223.5,596.4 224.3,596.4 225.1,596.4 225.9,596.3 226.7,596.3 227.5,596.2 228.3,596.2 229.1,596.1 229.9,596.1 230.7,596.0 231.5,595.9 232.3,595.8 233.1,595.8 234.0,595.7 234.8,595.6 235.6,595.4 236.4,595.3 237.2,595.2 238.0,595.0 238.8,594.9 239.6,594.7 240.4,594.5 241.2,594.3 242.0,594.1 242.8,593.8 243.6,593.6 244.4,593.3 245.3,593.0 246.1,592.6 246.9,592.3 247.7,591.9 248.5,591.5 249.3,591.0 250.1,590.5 250.9,590.0 251.7,589.5 252.5,588.9 252.9,588.5 253.3,588.2 253.7,587.9 254.1,587.5 254.5,587.2 254.9,586.8 255.3,586.4 255.7,586.0 256.2,585.6 256.6,585.2 257.0,584.7 257.4,584.3 257.8,583.8 258.2,583.3 258.6,582.8 259.0,582.3 259.4,581.8 259.8,581.3 260.2,580.7 260.6,580.2 261.0,579.6 261.4,579.0 261.8,578.4 262.2,577.8 262.6,577.1 263.0,576.5 263.4,575.8 263.8,575.1 264.2,574.4 264.6,573.7 265.0,573.0 265.4,572.2 265.8,571.5 266.2,570.7 266.6,569.9 267.1,569.1 267.5,568.3 267.9,567.5 268.3,566.6 268.7,565.8 269.1,564.9 269.5,564.0 269.9,563.1 270.3,562.2 270.7,561.3 271.1,560.3 271.5,559.4 271.9,558.4 272.3,557.5 272.7,556.5 273.1,555.5 273.5,554.5 273.9,553.4 274.3,552.4 274.7,551.4" fill="none" stroke="#4d52b0" stroke-width="1.8"/>
<path d="M73.3,631.6 74.1,631.6 74.9,631.6 75.7,631.6 76.5,631.6 77.3,631.6 78.1,631.6 79.0,631.6 79.8,631.6 80.6,631.6 81.4,631.6 82.2,631.6 83.0,631.6 83.8,631.6 84.6,631.6 85.4,631.6 86.2,631.6 87.0,631.6 87.8,631.6 88.6,631.6 89.4,631.6 90.3,631.6 91.1,631.6 91.9,631.6 92.7,631.6 93.5,631.6 94.3,631.6 95.1,631.6 95.9,631.6 96.7,631.6 97.5,631.6 98.3,631.6 99.1,631.6 99.9,631.6 100.7,631.6 101.6,631.6 102.4,631.6 103.2,631.6 104.0,631.6 104.8,631.6 105.6,631.6 106.4,631.6 107.2,631.6 108.0,631.6 108.8,631.6 109.6,631.6 110.4,631.6 111.2,631.6 112.1,631.6 112.9,631.6 113.7,631.6 114.5,631.6 115.3,631.6 116.1,631.6 116.9,631.6 117.7,631.6 118.5,631.6 119.3,631.6 120.1,631.6 120.9,631.6 121.7,631.6 122.5,631.6 123.4,631.6 124.2,631.6 125.0,631.6 125.8,631.6 126.6,631.6 127.4,631.6 128.2,631.6 129.0,631.6 129.8,631.6 130.6,631.6 131.4,631.6 132.2,631.6 133.0,631.6 133.8,631.6 134.7,631.6 135.5,631.6 136.3,631.6 137.1,631.6 137.9,631.6 138.7,631.6 139.5,631.6 140.3,631.6 141.1,631.6 141.9,631.6 142.7,631.6 143.5,631.6 144.3,631.6 145.1,631.6 146.0,631.6 146.8,631.6 147.6,631.6 148.4,631.6 149.2,631.6 150.0,631.6 150.8,631.6 151.6,631.6 152.4,631.6 153.2,631.6 154.0,631.6 154.8,631.6 155.6,631.6 156.5,631.6 157.3,631.6 158.1,631.6 158.9,631.6 159.7,631.6 160.5,631.6 161.3,631.6 162.1,631.6 162.9,631.6 163.7,631.6 164.5,631.6 165.3,631.6 166.1,631.6 166.9,631.6 167.8,631.6 168.6,631.6 169.4,631.6 170.2,631.6 171.0,631.6 171.8,631.6 172.6,631.6 173.4,631.6 174.2,631.6 175.0,631.6 175.8,631.6 176.6,631.6 177.4,631.6 178.2,631.6 179.1,631.6 179.9,631.6 180.7,631.5 181.5,631.5 182.3,631.5 183.1,631.5 183.9,631.5 184.7,631.5 185.5,631.5 186.3,631.5 187.1,631.5 187.9,631.5 188.7,631.5 189.6,631.5 190.4,631.5 191.2,631.5 192.0,631.5 192.8,631.5 193.6,631.4 194.4,631.4 195.2,631.4 196.0,631.4 196.8,631.4 197.6,631.4 198.4,631.3 199.2,631.3 200.0,631.3 200.9,631.3 201.7,631.2 202.5,631.2 203.3,631.2 204.1,631.1 204.9,631.1 205.7,631.1 206.5,631.0 207.3,631.0 208.1,630.9 208.9,630.8 209.7,630.8 210.5,630.7 211.3,630.6 212.2,630.5 213.0,630.4 213.8,630.3 214.6,630.2 215.4,630.1 216.2,630.0 217.0,629.8 217.8,629.7 218.6,629.5 219.4,629.3 220.2,629.1 221.0,628.9 221.8,628.6 222.6,628.4 223.5,628.1 224.3,627.8 225.1,627.4 225.9,627.1 226.7,626.7 227.5,626.3 228.3,625.8 229.1,625.3 229.9,624.8 230.7,624.3 231.5,623.7 231.9,623.4 232.3,623.0 232.7,622.7 233.1,622.3 233.5,622.0 234.0,621.6 234.4,621.2 234.8,620.8 235.2,620.4 235.6,620.0 236.0,619.6 236.4,619.1 236.8,618.7 237.2,618.2 237.6,617.7 238.0,617.2 238.4,616.7 238.8,616.2 239.2,615.6 239.6,615.1 240.0,614.5 240.4,613.9 240.8,613.3 241.2,612.7 241.6,612.0 242.0,611.4 242.4,610.7 242.8,610.1 243.2,609.4 243.6,608.7 244.0,607.9 244.4,607.2 244.8,606.5 245.3,605.7 245.7,604.9 246.1,604.1 246.5,603.3 246.9,602.5 247.3,601.6 247.7,600.8 248.1,599.9 248.5,599.0 248.9,598.2 249.3,597.3 249.7,596.3 250.1,595.4 250.5,594.5 250.9,593.5 251.3,592.5 251.7,591.6 252.1,590.6 252.5,589.6 252.9,588.5 253.3,587.5 253.7,586.5 254.1,585.4 254.5,584.4 254.9,583.3 255.3,582.2 255.7,581.1 256.2,580.0 256.6,578.9 257.0,577.8 257.4,576.7 257.8,575.6 258.2,574.4 258.6,573.3 259.0,572.1 259.4,571.0 259.8,569.8 260.2,568.6 260.6,567.5 261.0,566.3 261.4,565.1 261.8,563.9 262.2,562.7 262.6,561.5 263.0,560.2 263.4,559.0 263.8,557.8 264.2,556.6 264.6,555.3 265.0,554.1 265.4,552.8 265.8,551.6 266.2,550.3 266.6,549.1 267.1,547.8 267.5,546.5 267.9,545.3 268.3,544.0 268.7,542.7 269.1,541.5 269.5,540.2 269.9,538.9 270.3,537.6 270.7,536.3 271.1,535.0 271.5,533.7 271.9,532.4 272.3,531.1 272.7,529.8 273.1,528.5 273.5,527.2 273.9,525.9 274.3,524.6 274.7,523.3" fill="none" stroke="#6ae26a" stroke-width="1.8"/>
<path d="M73.3,666.4 74.1,666.4 74.9,666.4 75.7,666.4 76.5,666.4 77.3,666.4 78.1,666.4 79.0,666.4 79.8,666.4 80.6,666.4 81.4,666.4 82.2,666.4 83.0,666.4 83.8,666.4 84.6,666.4 85.4,666.4 86.2,666.4 87.0,666.4 87.8,666.4 88.6,666.4 89.4,666.4 90.3,666.4 91.1,666.4 91.9,666.4 92.7,666.4 93.5,666.4 94.3,666.4 95.1,666.4 95.9,666.4 96.7,666.4 97.5,666.4 98.3,666.4 99.1,666.4 99.9,666.4 100.7,666.4 101.6,666.4 102.4,666.4 103.2,666.4 104.0,666.4 104.8,666.4 105.6,666.4 106.4,666.4 107.2,666.4 108.0,666.4 108.8,666.4 109.6,666.4 110.4,666.4 111.2,666.4 112.1,666.4 112.9,666.4 113.7,666.4 114.5,666.4 115.3,666.4 116.1,666.4 116.9,666.4 117.7,666.4 118.5,666.4 119.3,666.4 120.1,666.4 120.9,666.4 121.7,666.4 122.5,666.4 123.4,666.4 124.2,666.4 125.0,666.4 125.8,666.4 126.6,666.4 127.4,666.4 128.2,666.4 129.0,666.4 129.8,666.4 130.6,666.4 131.4,666.4 132.2,666.4 133.0,666.4 133.8,666.4 134.7,666.4 135.5,666.4 136.3,666.4 137.1,666.4 137.9,666.4 138.7,666.4 139.5,666.4 140.3,666.4 141.1,666.4 141.9,666.4 142.7,666.4 143.5,666.4 144.3,666.4 145.1,666.4 146.0,666.4 146.8,666.4 147.6,666.4 148.4,666.3 149.2,666.3 150.0,666.3 150.8,666.3 151.6,666.3 152.4,666.3 153.2,666.3 154.0,666.3 154.8,666.3 155.6,666.3 156.5,666.3 157.3,666.3 158.1,666.3 158.9,666.3 159.7,666.3 160.5,666.3 161.3,666.3 162.1,666.3 162.9,666.3 163.7,666.3 164.5,666.3 165.3,666.3 166.1,666.3 166.9,666.3 167.8,666.3 168.6,666.3 169.4,666.3 170.2,666.2 171.0,666.2 171.8,666.2 172.6,666.2 173.4,666.2 174.2,666.2 175.0,666.2 175.8,666.1 176.6,666.1 177.4,666.1 178.2,666.1 179.1,666.0 179.9,666.0 180.7,666.0 181.5,665.9 182.3,665.9 183.1,665.9 183.9,665.8 184.7,665.8 185.5,665.7 186.3,665.7 187.1,665.6 187.9,665.5 188.7,665.4 189.6,665.4 190.4,665.3 191.2,665.2 192.0,665.1 192.8,665.0 193.6,664.8 194.4,664.7 195.2,664.5 196.0,664.4 196.8,664.2 197.6,664.0 198.4,663.8 199.2,663.6 200.0,663.3 200.9,663.1 201.7,662.8 202.5,662.5 203.3,662.1 204.1,661.8 204.9,661.4 205.7,661.0 206.5,660.5 207.3,660.0 208.1,659.5 208.9,659.0 209.7,658.4 210.1,658.1 210.5,657.7 210.9,657.4 211.3,657.1 211.8,656.7 212.2,656.4 212.6,656.0 213.0,655.6 213.4,655.2 213.8,654.8 214.2,654.4 214.6,653.9 215.0,653.5 215.4,653.0 215.8,652.6 216.2,652.1 216.6,651.6 217.0,651.1 217.4,650.6 217.8,650.0 218.2,649.5 218.6,648.9 219.0,648.3 219.4,647.8 219.8,647.1 220.2,646.5 220.6,645.9 221.0,645.3 221.4,644.6 221.8,643.9 222.2,643.2 222.6,642.6 223.1,641.8 223.5,641.1 223.9,640.4 224.3,639.6 224.7,638.9 225.1,638.1 225.5,637.3 225.9,636.5 226.3,635.7 226.7,634.8 227.1,634.0 227.5,633.1 227.9,632.2 228.3,631.4 228.7,630.5 229.1,629.5 229.5,628.6 229.9,627.7 230.3,626.7 230.7,625.8 231.1,624.8 231.5,623.8 231.9,622.9 232.3,621.8 232.7,620.8 233.1,619.8 233.5,618.8 234.0,617.7 234.4,616.7 234.8,615.6 235.2,614.5 235.6,613.5 236.0,612.4 236.4,611.3 236.8,610.2 237.2,609.1 237.6,607.9 238.0,606.8 238.4,605.7 238.8,604.5 239.2,603.4 239.6,602.2 240.0,601.0 240.4,599.9 240.8,598.7 241.2,597.5 241.6,596.3 242.0,595.1 242.4,593.9 242.8,592.7 243.2,591.5 243.6,590.2 244.0,589.0 244.4,587.8 244.8,586.5 245.3,585.3 245.7,584.1 246.1,582.8 246.5,581.6 246.9,580.3 247.3,579.0 247.7,577.8 248.1,576.5 248.5,575.2 248.9,574.0 249.3,572.7 249.7,571.4 250.1,570.1 250.5,568.9 250.9,567.6 251.3,566.3 251.7,565.0 252.1,563.7 252.5,562.4 252.9,561.1 253.3,559.8 253.7,558.5 254.1,557.2 254.5,555.9 254.9,554.6 255.3,553.3 255.7,552.0 256.2,550.6 256.6,549.3 257.0,548.0 257.4,546.7 257.8,545.4 258.2,544.1 258.6,542.7 259.0,541.4 259.4,540.1 259.8,538.8 260.2,537.4 260.6,536.1 261.0,534.8 261.4,533.5 261.8,532.1 262.2,530.8 262.6,529.5 263.0,528.1 263.4,526.8 263.8,525.5 264.2,524.1 264.6,522.8 265.0,521.5 265.4,520.1 265.8,518.8 266.2,517.5 266.6,516.1 267.1,514.8 267.5,513.4 267.9,512.1 268.3,510.8 268.7,509.4 269.1,508.1 269.5,506.7 269.9,505.4 270.3,504.1 270.7,502.7 271.1,501.4 271.5,500.0 271.9,498.7 272.3,497.4 272.7,496.0 273.1,494.7 273.5,493.3 273.9,492.0 274.3,490.6 274.7,489.3" fill="none" stroke="#cc5c5c" stroke-width="1.8"/>
<path d="M73.3,701.1 74.1,701.1 74.9,701.1 75.7,701.1 76.5,701.1 77.3,701.1 78.1,701.1 79.0,701.1 79.8,701.1 80.6,701.1 81.4,701.1 82.2,701.1 83.0,701.1 83.8,701.1 84.6,701.1 85.4,701.1 86.2,701.1 87.0,701.1 87.8,701.1 88.6,701.1 89.4,701.1 90.3,701.1 91.1,701.1 91.9,701.1 92.7,701.1 93.5,701.1 94.3,701.1 95.1,701.1 95.9,701.1 96.7,701.1 97.5,701.1 98.3,701.1 99.1,701.1 99.9,701.1 100.7,701.1 101.6,701.1 102.4,701.1 103.2,701.1 104.0,701.1 104.8,701.1 105.6,701.1 106.4,701.1 107.2,701.1 108.0,701.1 108.8,701.1 109.6,701.1 110.4,701.1 111.2,701.1 112.1,701.1 112.9,701.1 113.7,701.1 114.5,701.1 115.3,701.1 116.1,701.1 116.9,701.1 117.7,701.1 118.5,701.1 119.3,701.1 120.1,701.1 120.9,701.1 121.7,701.1 122.5,701.1 123.4,701.1 124.2,701.1 125.0,701.1 125.8,701.1 126.6,701.1 127.4,701.1 128.2,701.1 129.0,701.1 129.8,701.1 130.6,701.1 131.4,701.1 132.2,701.1 133.0,701.1 133.8,701.1 134.7,701.1 135.5,701.1 136.3,701.1 137.1,701.1 137.9,701.1 138.7,701.1 139.5,701.0 140.3,701.0 141.1,701.0 141.9,701.0 142.7,701.0 143.5,701.0 144.3,701.0 145.1,701.0 146.0,700.9 146.8,700.9 147.6,700.9 148.4,700.9 149.2,700.9 150.0,700.8 150.8,700.8 151.6,700.8 152.4,700.7 153.2,700.7 154.0,700.7 154.8,700.6 155.6,700.6 156.5,700.5 157.3,700.5 158.1,700.4 158.9,700.3 159.7,700.3 160.5,700.2 161.3,700.1 162.1,700.0 162.9,699.9 163.7,699.8 164.5,699.7 165.3,699.6 166.1,699.4 166.9,699.3 167.8,699.1 168.6,698.9 169.4,698.7 170.2,698.5 171.0,698.3 171.8,698.0 172.6,697.8 173.4,697.5 174.2,697.2 175.0,696.9 175.8,696.5 176.6,696.2 177.4,695.8 178.2,695.3 179.1,694.9 179.9,694.4 180.7,693.9 181.5,693.4 182.3,692.8 183.1,692.2 183.5,691.9 183.9,691.6 184.3,691.2 184.7,690.9 185.1,690.6 185.5,690.2 185.9,689.8 186.3,689.5 186.7,689.1 187.1,688.7 187.5,688.3 187.9,687.9 188.3,687.5 188.7,687.1 189.1,686.6 189.6,686.2 190.0,685.8 190.4,685.3 190.8,684.8 191.2,684.4 191.6,683.9 192.0,683.4 192.4,682.9 192.8,682.4 193.2,681.9 193.6,681.3 194.0,680.8 194.4,680.3 194.8,679.7 195.2,679.2 195.6,678.6 196.0,678.0 196.4,677.4 196.8,676.9 197.2,676.3 197.6,675.6 198.0,675.0 198.4,674.4 198.8,673.8 199.2,673.1 199.6,672.5 200.0,671.8 200.4,671.2 200.9,670.5 201.3,669.8 201.7,669.2 202.1,668.5 202.5,667.8 202.9,667.1 203.3,666.3 203.7,665.6 204.1,664.9 204.5,664.1 204.9,663.4 205.3,662.6 205.7,661.9 206.1,661.1 206.5,660.3 206.9,659.5 207.3,658.7 207.7,657.9 208.1,657.1 208.5,656.3 208.9,655.5 209.3,654.6 209.7,653.8 210.1,652.9 210.5,652.1 210.9,651.2 211.3,650.3 211.8,649.4 212.2,648.5 212.6,647.6 213.0,646.7 213.4,645.8 213.8,644.8 214.2,643.9 214.6,643.0 215.0,642.0 215.4,641.0 215.8,640.1 216.2,639.1 216.6,638.1 217.0,637.1 217.4,636.1 217.8,635.1 218.2,634.0 218.6,633.0 219.0,632.0 219.4,630.9 219.8,629.9 220.2,628.8 220.6,627.7 221.0,626.6 221.4,625.5 221.8,624.4 222.2,623.3 222.6,622.2 223.1,621.1 223.5,620.0 223.9,618.9 224.3,617.7 224.7,616.6 225.1,615.4 225.5,614.3 225.9,613.1 226.3,611.9 226.7,610.8 227.1,609.6 227.5,608.4 227.9,607.2 228.3,606.0 228.7,604.8 229.1,603.6 229.5,602.4 229.9,601.1 230.3,599.9 230.7,598.7 231.1,597.5 231.5,596.2 231.9,595.0 232.3,593.7 232.7,592.5 233.1,591.2 233.5,590.0 234.0,588.7 234.4,587.5 234.8,586.2 235.2,584.9 235.6,583.7 236.0,582.4 236.4,581.1 236.8,579.8 237.2,578.5 237.6,577.2 238.0,576.0 238.4,574.7 238.8,573.4 239.2,572.1 239.6,570.8 240.0,569.5 240.4,568.2 240.8,566.9 241.2,565.6 241.6,564.3 242.0,562.9 242.4,561.6 242.8,560.3 243.2,559.0 243.6,557.7 244.0,556.4 244.4,555.1 244.8,553.7 245.3,552.4 245.7,551.1 246.1,549.8 246.5,548.5 246.9,547.1 247.3,545.8 247.7,544.5 248.1,543.1 248.5,541.8 248.9,540.5 249.3,539.2 249.7,537.8 250.1,536.5 250.5,535.2 250.9,533.8 251.3,532.5 251.7,531.2 252.1,529.8 252.5,528.5 252.9,527.2 253.3,525.8 253.7,524.5 254.1,523.1 254.5,521.8 254.9,520.5 255.3,519.1 255.7,517.8 256.2,516.5 256.6,515.1 257.0,513.8 257.4,512.4 257.8,511.1 258.2,509.7 258.6,508.4 259.0,507.1 259.4,505.7 259.8,504.4 260.2,503.0 260.6,501.7 261.0,500.4 261.4,499.0 261.8,497.7 262.2,496.3 262.6,495.0 263.0,493.6 263.4,492.3 263.8,490.9 264.2,489.6 264.6,488.3 265.0,486.9 265.4,485.6 265.8,484.2 266.2,482.9 266.6,481.5 267.1,480.2 267.5,478.8 267.9,477.5 268.3,476.1 268.7,474.8 269.1,473.5 269.5,472.1 269.9,470.8 270.3,469.4 270.7,468.1 271.1,466.7 271.5,465.4 271.9,464.0 272.3,462.7 272.7,461.3 273.1,460.0 273.5,458.6 273.9,457.3 274.3,455.9 274.7,454.6" fill="none" stroke="#3c3c3c" stroke-width="1.8"/>
<line x1="212.30" y1="726.50" x2="245.00" y2="654.50" stroke="#222" stroke-width="1.1" />
<path d="M248.3,647.6 L241.6,653.6 L248.0,656.5 Z" fill="#222"/>
<text x="124.30" y="551.20" font-size="12.3" text-anchor="start" font-weight="bold" font-style="normal" fill="#111" font-family="Liberation Sans, sans-serif" textLength="37.5" lengthAdjust="spacingAndGlyphs"  stroke="#111">N = 10</text>
<text x="161.90" y="544.20" font-size="8.2" text-anchor="start" font-weight="bold" font-style="normal" fill="#111" font-family="Liberation Sans, sans-serif" textLength="8.0" lengthAdjust="spacingAndGlyphs"  stroke="#111">19</text>
<text x="173.90" y="551.20" font-size="12.3" text-anchor="start" font-weight="bold" font-style="normal" fill="#111" font-family="Liberation Sans, sans-serif" textLength="18.6" lengthAdjust="spacingAndGlyphs"  stroke="#111">cm</text>
<text x="191.90" y="544.70" font-size="8.2" text-anchor="start" font-weight="bold" font-style="normal" fill="#111" font-family="Liberation Sans, sans-serif" textLength="6.4" lengthAdjust="spacingAndGlyphs"  stroke="#111">-3</text>
<text x="121.50" y="588.00" font-size="12.3" text-anchor="start" font-weight="bold" font-style="normal" fill="#111" font-family="Liberation Sans, sans-serif" textLength="37.5" lengthAdjust="spacingAndGlyphs"  stroke="#111">N = 10</text>
<text x="159.10" y="581.00" font-size="8.2" text-anchor="start" font-weight="bold" font-style="normal" fill="#111" font-family="Liberation Sans, sans-serif" textLength="8.0" lengthAdjust="spacingAndGlyphs"  stroke="#111">18</text>
<text x="171.10" y="588.00" font-size="12.3" text-anchor="start" font-weight="bold" font-style="normal" fill="#111" font-family="Liberation Sans, sans-serif" textLength="18.6" lengthAdjust="spacingAndGlyphs"  stroke="#111">cm</text>
<text x="189.10" y="581.50" font-size="8.2" text-anchor="start" font-weight="bold" font-style="normal" fill="#111" font-family="Liberation Sans, sans-serif" textLength="6.4" lengthAdjust="spacingAndGlyphs"  stroke="#111">-3</text>
<text x="118.60" y="622.00" font-size="12.3" text-anchor="start" font-weight="bold" font-style="normal" fill="#111" font-family="Liberation Sans, sans-serif" textLength="37.5" lengthAdjust="spacingAndGlyphs"  stroke="#111">N = 10</text>
<text x="156.20" y="615.00" font-size="8.2" text-anchor="start" font-weight="bold" font-style="normal" fill="#111" font-family="Liberation Sans, sans-serif" textLength="8.0" lengthAdjust="spacingAndGlyphs"  stroke="#111">17</text>
<text x="168.20" y="622.00" font-size="12.3" text-anchor="start" font-weight="bold" font-style="normal" fill="#111" font-family="Liberation Sans, sans-serif" textLength="18.6" lengthAdjust="spacingAndGlyphs"  stroke="#111">cm</text>
<text x="186.20" y="615.50" font-size="8.2" text-anchor="start" font-weight="bold" font-style="normal" fill="#111" font-family="Liberation Sans, sans-serif" textLength="6.4" lengthAdjust="spacingAndGlyphs"  stroke="#111">-3</text>
<text x="111.60" y="659.70" font-size="12.3" text-anchor="start" font-weight="bold" font-style="normal" fill="#111" font-family="Liberation Sans, sans-serif" textLength="37.5" lengthAdjust="spacingAndGlyphs"  stroke="#111">N = 10</text>
<text x="149.20" y="652.70" font-size="8.2" text-anchor="start" font-weight="bold" font-style="normal" fill="#111" font-family="Liberation Sans, sans-serif" textLength="8.0" lengthAdjust="spacingAndGlyphs"  stroke="#111">16</text>
<text x="161.20" y="659.70" font-size="12.3" text-anchor="start" font-weight="bold" font-style="normal" fill="#111" font-family="Liberation Sans, sans-serif" textLength="18.6" lengthAdjust="spacingAndGlyphs"  stroke="#111">cm</text>
<text x="179.20" y="653.20" font-size="8.2" text-anchor="start" font-weight="bold" font-style="normal" fill="#111" font-family="Liberation Sans, sans-serif" textLength="6.4" lengthAdjust="spacingAndGlyphs"  stroke="#111">-3</text>
<text x="100.20" y="691.50" font-size="12.3" text-anchor="start" font-weight="bold" font-style="normal" fill="#111" font-family="Liberation Sans, sans-serif" textLength="37.5" lengthAdjust="spacingAndGlyphs"  stroke="#111">N = 10</text>
<text x="137.80" y="684.50" font-size="8.2" text-anchor="start" font-weight="bold" font-style="normal" fill="#111" font-family="Liberation Sans, sans-serif" textLength="8.0" lengthAdjust="spacingAndGlyphs"  stroke="#111">15</text>
<text x="149.80" y="691.50" font-size="12.3" text-anchor="start" font-weight="bold" font-style="normal" fill="#111" font-family="Liberation Sans, sans-serif" textLength="18.6" lengthAdjust="spacingAndGlyphs"  stroke="#111">cm</text>
<text x="167.80" y="685.00" font-size="8.2" text-anchor="start" font-weight="bold" font-style="normal" fill="#111" font-family="Liberation Sans, sans-serif" textLength="6.4" lengthAdjust="spacingAndGlyphs"  stroke="#111">-3</text>
<path d="M394.2,495.1 395.2,495.1 396.2,495.1 397.2,495.1 398.2,495.1 399.2,495.1 400.3,495.1 401.3,495.1 402.3,495.1 403.3,495.1 404.3,495.1 405.3,495.1 406.3,495.1 407.3,495.1 408.3,495.1 409.3,495.1 410.3,495.1 411.4,495.1 412.4,495.1 413.4,495.1 414.4,495.1 415.4,495.1 416.4,495.1 417.4,495.1 418.4,495.1 419.4,495.1 420.4,495.1 421.4,495.1 422.5,495.1 423.5,495.1 424.5,495.1 425.5,495.1 426.5,495.1 427.5,495.1 428.5,495.1 429.5,495.1 430.5,495.1 431.5,495.1 432.5,495.1 433.6,495.1 434.6,495.1 435.6,495.1 436.6,495.1 437.6,495.1 438.6,495.1 439.6,495.1 440.6,495.1 441.6,495.1 442.6,495.1 443.7,495.1 444.7,495.1 445.7,495.1 446.7,495.1 447.7,495.1 448.7,495.1 449.7,495.1 450.7,495.1 451.7,495.1 452.7,495.1 453.7,495.1 454.8,495.1 455.8,495.1 456.8,495.1 457.8,495.1 458.8,495.1 459.8,495.1 460.8,495.1 461.8,495.1 462.8,495.1 463.8,495.1 464.8,495.1 465.9,495.1 466.9,495.1 467.9,495.1 468.9,495.1 469.9,495.1 470.9,495.1 471.9,495.1 472.9,495.1 473.9,495.1 474.9,495.1 475.9,495.1 477.0,495.1 478.0,495.1 479.0,495.1 480.0,495.1 481.0,495.1 482.0,495.1 483.0,495.1 484.0,495.1 485.0,495.1 486.0,495.1 487.0,495.1 488.1,495.1 489.1,495.1 490.1,495.1 491.1,495.1 492.1,495.1 493.1,495.1 494.1,495.1 495.1,495.1 496.1,495.1 497.1,495.1 498.1,495.1 499.2,495.1 500.2,495.1 501.2,495.1 502.2,495.1 503.2,495.1 504.2,495.1 505.2,495.1 506.2,495.1 507.2,495.1 508.2,495.1 509.2,495.1 510.3,495.1 511.3,495.1 512.3,495.1 513.3,495.1 514.3,495.1 515.3,495.1 516.3,495.1 517.3,495.0 518.3,495.0 519.3,495.0 520.4,495.0 521.4,495.0 522.4,495.0 523.4,495.0 524.4,495.0 525.4,495.0 526.4,494.9 527.4,494.9 528.4,494.9 529.4,494.9 530.4,494.8 531.5,494.8 532.5,494.8 533.5,494.7 534.5,494.7 535.5,494.6 536.5,494.6 537.5,494.5 538.5,494.5 539.5,494.4 540.5,494.3 541.5,494.2 542.6,494.1 543.6,494.0 544.6,493.8 545.6,493.7 546.6,493.5 547.6,493.4 548.6,493.2 549.6,493.0 550.6,492.7 551.6,492.5 552.6,492.2 553.7,491.9 554.7,491.5 555.7,491.2 556.2,491.0 556.7,490.8 557.2,490.6 557.7,490.3 558.2,490.1 558.7,489.9 559.2,489.6 559.7,489.3 560.2,489.1 560.7,488.8 561.2,488.5 561.7,488.2 562.2,487.9 562.7,487.5 563.2,487.2 563.7,486.9 564.3,486.5 564.8,486.1 565.3,485.7 565.8,485.3 566.3,484.9 566.8,484.5 567.3,484.1 567.8,483.6 568.3,483.2 568.8,482.7 569.3,482.3 569.8,481.8 570.3,481.3 570.8,480.8 571.3,480.2 571.8,479.7 572.3,479.2 572.8,478.6 573.3,478.0 573.8,477.5 574.3,476.9 574.8,476.3 575.4,475.7 575.9,475.1 576.4,474.4 576.9,473.8 577.4,473.2 577.9,472.5 578.4,471.8 578.9,471.2 579.4,470.5 579.9,469.8 580.4,469.1 580.9,468.4 581.4,467.7 581.9,467.0 582.4,466.3 582.9,465.6 583.4,464.9 583.9,464.1 584.4,463.4 584.9,462.7 585.4,461.9 585.9,461.2 586.5,460.4 587.0,459.6 587.5,458.9 588.0,458.1 588.5,457.3 589.0,456.6 589.5,455.8 590.0,455.0 590.5,454.2 591.0,453.4 591.5,452.6 592.0,451.8 592.5,451.1 593.0,450.3 593.5,449.5 594.0,448.7 594.5,447.8 595.0,447.0 595.5,446.2" fill="none" stroke="#3c3c3c" stroke-width="1.8"/>
<path d="M394.2,529.9 395.2,529.9 396.2,529.9 397.2,529.9 398.2,529.9 399.2,529.9 400.3,529.9 401.3,529.9 402.3,529.9 403.3,529.9 404.3,529.9 405.3,529.9 406.3,529.9 407.3,529.9 408.3,529.9 409.3,529.9 410.3,529.9 411.4,529.9 412.4,529.9 413.4,529.9 414.4,529.9 415.4,529.9 416.4,529.9 417.4,529.9 418.4,529.9 419.4,529.9 420.4,529.9 421.4,529.9 422.5,529.9 423.5,529.9 424.5,529.9 425.5,529.9 426.5,529.9 427.5,529.9 428.5,529.9 429.5,529.9 430.5,529.9 431.5,529.9 432.5,529.9 433.6,529.9 434.6,529.9 435.6,529.9 436.6,529.9 437.6,529.9 438.6,529.9 439.6,529.9 440.6,529.9 441.6,529.9 442.6,529.9 443.7,529.9 444.7,529.9 445.7,529.9 446.7,529.9 447.7,529.9 448.7,529.9 449.7,529.9 450.7,529.9 451.7,529.9 452.7,529.9 453.7,529.9 454.8,529.9 455.8,529.9 456.8,529.9 457.8,529.9 458.8,529.9 459.8,529.9 460.8,529.9 461.8,529.9 462.8,529.9 463.8,529.9 464.8,529.9 465.9,529.9 466.9,529.9 467.9,529.9 468.9,529.9 469.9,529.9 470.9,529.9 471.9,529.9 472.9,529.9 473.9,529.9 474.9,529.9 475.9,529.9 477.0,529.9 478.0,529.9 479.0,529.9 480.0,529.9 481.0,529.9 482.0,529.9 483.0,529.9 484.0,529.9 485.0,529.9 486.0,529.9 487.0,529.9 488.1,529.9 489.1,529.9 490.1,529.9 491.1,529.9 492.1,529.9 493.1,529.9 494.1,529.9 495.1,529.9 496.1,529.9 497.1,529.9 498.1,529.9 499.2,529.9 500.2,529.9 501.2,529.9 502.2,529.9 503.2,529.9 504.2,529.9 505.2,529.9 506.2,529.9 507.2,529.9 508.2,529.9 509.2,529.9 510.3,529.9 511.3,529.9 512.3,529.9 513.3,529.8 514.3,529.8 515.3,529.8 516.3,529.8 517.3,529.8 518.3,529.8 519.3,529.8 520.4,529.8 521.4,529.8 522.4,529.8 523.4,529.8 524.4,529.7 525.4,529.7 526.4,529.7 527.4,529.7 528.4,529.7 529.4,529.6 530.4,529.6 531.5,529.6 532.5,529.5 533.5,529.5 534.5,529.5 535.5,529.4 536.5,529.4 537.5,529.3 538.5,529.2 539.5,529.2 540.5,529.1 541.5,529.0 542.6,528.9 543.6,528.8 544.6,528.6 545.6,528.5 546.6,528.3 547.6,528.2 548.6,528.0 549.6,527.7 550.6,527.5 551.6,527.3 552.6,527.0 553.7,526.7 554.7,526.3 555.7,526.0 556.2,525.8 556.7,525.6 557.2,525.3 557.7,525.1 558.2,524.9 558.7,524.6 559.2,524.4 559.7,524.1 560.2,523.8 560.7,523.6 561.2,523.3 561.7,523.0 562.2,522.7 562.7,522.3 563.2,522.0 563.7,521.6 564.3,521.3 564.8,520.9 565.3,520.5 565.8,520.1 566.3,519.7 566.8,519.3 567.3,518.9 567.8,518.4 568.3,518.0 568.8,517.5 569.3,517.0 569.8,516.5 570.3,516.0 570.8,515.5 571.3,515.0 571.8,514.5 572.3,513.9 572.8,513.4 573.3,512.8 573.8,512.2 574.3,511.6 574.8,511.1 575.4,510.4 575.9,509.8 576.4,509.2 576.9,508.6 577.4,507.9 577.9,507.3 578.4,506.6 578.9,506.0 579.4,505.3 579.9,504.6 580.4,503.9 580.9,503.2 581.4,502.5 581.9,501.8 582.4,501.1 582.9,500.4 583.4,499.7 583.9,498.9 584.4,498.2 584.9,497.4 585.4,496.7 585.9,495.9 586.5,495.2 587.0,494.4 587.5,493.7 588.0,492.9 588.5,492.1 589.0,491.3 589.5,490.6 590.0,489.8 590.5,489.0 591.0,488.2 591.5,487.4 592.0,486.6 592.5,485.8 593.0,485.0 593.5,484.2 594.0,483.4 594.5,482.6 595.0,481.8 595.5,481.0" fill="none" stroke="#cc5c5c" stroke-width="1.8"/>
<path d="M394.2,564.8 395.2,564.8 396.2,564.8 397.2,564.8 398.2,564.8 399.2,564.8 400.3,564.8 401.3,564.8 402.3,564.8 403.3,564.8 404.3,564.8 405.3,564.8 406.3,564.8 407.3,564.8 408.3,564.8 409.3,564.8 410.3,564.8 411.4,564.8 412.4,564.8 413.4,564.8 414.4,564.8 415.4,564.8 416.4,564.8 417.4,564.8 418.4,564.8 419.4,564.8 420.4,564.8 421.4,564.8 422.5,564.8 423.5,564.8 424.5,564.8 425.5,564.8 426.5,564.8 427.5,564.8 428.5,564.8 429.5,564.8 430.5,564.8 431.5,564.8 432.5,564.8 433.6,564.8 434.6,564.8 435.6,564.8 436.6,564.8 437.6,564.8 438.6,564.8 439.6,564.8 440.6,564.8 441.6,564.8 442.6,564.8 443.7,564.8 444.7,564.8 445.7,564.8 446.7,564.8 447.7,564.8 448.7,564.8 449.7,564.8 450.7,564.8 451.7,564.8 452.7,564.8 453.7,564.8 454.8,564.8 455.8,564.8 456.8,564.8 457.8,564.8 458.8,564.8 459.8,564.8 460.8,564.8 461.8,564.8 462.8,564.8 463.8,564.8 464.8,564.8 465.9,564.8 466.9,564.8 467.9,564.8 468.9,564.8 469.9,564.8 470.9,564.8 471.9,564.8 472.9,564.8 473.9,564.8 474.9,564.8 475.9,564.8 477.0,564.8 478.0,564.8 479.0,564.8 480.0,564.8 481.0,564.8 482.0,564.8 483.0,564.8 484.0,564.8 485.0,564.8 486.0,564.8 487.0,564.8 488.1,564.8 489.1,564.8 490.1,564.8 491.1,564.8 492.1,564.8 493.1,564.8 494.1,564.8 495.1,564.8 496.1,564.8 497.1,564.8 498.1,564.8 499.2,564.8 500.2,564.8 501.2,564.8 502.2,564.8 503.2,564.8 504.2,564.8 505.2,564.8 506.2,564.8 507.2,564.8 508.2,564.8 509.2,564.8 510.3,564.8 511.3,564.8 512.3,564.8 513.3,564.8 514.3,564.8 515.3,564.8 516.3,564.8 517.3,564.8 518.3,564.8 519.3,564.8 520.4,564.8 521.4,564.7 522.4,564.7 523.4,564.7 524.4,564.7 525.4,564.7 526.4,564.7 527.4,564.6 528.4,564.6 529.4,564.6 530.4,564.6 531.5,564.5 532.5,564.5 533.5,564.5 534.5,564.4 535.5,564.4 536.5,564.3 537.5,564.3 538.5,564.2 539.5,564.1 540.5,564.0 541.5,563.9 542.6,563.8 543.6,563.7 544.6,563.6 545.6,563.4 546.6,563.3 547.6,563.1 548.6,562.9 549.6,562.7 550.6,562.5 551.6,562.2 552.6,561.9 553.7,561.6 554.7,561.3 555.7,560.9 556.2,560.7 556.7,560.5 557.2,560.3 557.7,560.1 558.2,559.8 558.7,559.6 559.2,559.3 559.7,559.1 560.2,558.8 560.7,558.5 561.2,558.2 561.7,557.9 562.2,557.6 562.7,557.3 563.2,556.9 563.7,556.6 564.3,556.2 564.8,555.9 565.3,555.5 565.8,555.1 566.3,554.7 566.8,554.3 567.3,553.8 567.8,553.4 568.3,552.9 568.8,552.5 569.3,552.0 569.8,551.5 570.3,551.0 570.8,550.5 571.3,550.0 571.8,549.4 572.3,548.9 572.8,548.3 573.3,547.8 573.8,547.2 574.3,546.6 574.8,546.0 575.4,545.4 575.9,544.8 576.4,544.2 576.9,543.5 577.4,542.9 577.9,542.2 578.4,541.6 578.9,540.9 579.4,540.2 579.9,539.6 580.4,538.9 580.9,538.2 581.4,537.5 581.9,536.8 582.4,536.1 582.9,535.3 583.4,534.6 583.9,533.9 584.4,533.1 584.9,532.4 585.4,531.6 585.9,530.9 586.5,530.1 587.0,529.4 587.5,528.6 588.0,527.8 588.5,527.1 589.0,526.3 589.5,525.5 590.0,524.7 590.5,524.0 591.0,523.2 591.5,522.4 592.0,521.6 592.5,520.8 593.0,520.0 593.5,519.2 594.0,518.4 594.5,517.6 595.0,516.8 595.5,516.0" fill="none" stroke="#6ae26a" stroke-width="1.8"/>
<path d="M394.2,599.6 395.2,599.6 396.2,599.6 397.2,599.6 398.2,599.6 399.2,599.6 400.3,599.6 401.3,599.6 402.3,599.6 403.3,599.6 404.3,599.6 405.3,599.6 406.3,599.6 407.3,599.6 408.3,599.6 409.3,599.6 410.3,599.6 411.4,599.6 412.4,599.6 413.4,599.6 414.4,599.6 415.4,599.6 416.4,599.6 417.4,599.6 418.4,599.6 419.4,599.6 420.4,599.6 421.4,599.6 422.5,599.6 423.5,599.6 424.5,599.6 425.5,599.6 426.5,599.6 427.5,599.6 428.5,599.6 429.5,599.6 430.5,599.6 431.5,599.6 432.5,599.6 433.6,599.6 434.6,599.6 435.6,599.6 436.6,599.6 437.6,599.6 438.6,599.6 439.6,599.6 440.6,599.6 441.6,599.6 442.6,599.6 443.7,599.6 444.7,599.6 445.7,599.6 446.7,599.6 447.7,599.6 448.7,599.6 449.7,599.6 450.7,599.6 451.7,599.6 452.7,599.6 453.7,599.6 454.8,599.6 455.8,599.6 456.8,599.6 457.8,599.6 458.8,599.6 459.8,599.6 460.8,599.6 461.8,599.6 462.8,599.6 463.8,599.6 464.8,599.6 465.9,599.6 466.9,599.6 467.9,599.6 468.9,599.6 469.9,599.6 470.9,599.6 471.9,599.6 472.9,599.6 473.9,599.6 474.9,599.6 475.9,599.6 477.0,599.6 478.0,599.6 479.0,599.6 480.0,599.6 481.0,599.6 482.0,599.6 483.0,599.6 484.0,599.6 485.0,599.6 486.0,599.6 487.0,599.6 488.1,599.6 489.1,599.6 490.1,599.6 491.1,599.6 492.1,599.6 493.1,599.6 494.1,599.6 495.1,599.6 496.1,599.6 497.1,599.6 498.1,599.6 499.2,599.6 500.2,599.6 501.2,599.6 502.2,599.6 503.2,599.6 504.2,599.6 505.2,599.6 506.2,599.6 507.2,599.6 508.2,599.6 509.2,599.6 510.3,599.6 511.3,599.6 512.3,599.6 513.3,599.6 514.3,599.6 515.3,599.6 516.3,599.6 517.3,599.6 518.3,599.6 519.3,599.5 520.4,599.5 521.4,599.5 522.4,599.5 523.4,599.5 524.4,599.5 525.4,599.5 526.4,599.4 527.4,599.4 528.4,599.4 529.4,599.4 530.4,599.4 531.5,599.3 532.5,599.3 533.5,599.2 534.5,599.2 535.5,599.1 536.5,599.1 537.5,599.0 538.5,599.0 539.5,598.9 540.5,598.8 541.5,598.7 542.6,598.6 543.6,598.5 544.6,598.4 545.6,598.2 546.6,598.1 547.6,597.9 548.6,597.7 549.6,597.5 550.6,597.2 551.6,597.0 552.6,596.7 553.7,596.4 554.7,596.1 555.7,595.7 556.2,595.5 556.7,595.3 557.2,595.1 557.7,594.8 558.2,594.6 558.7,594.4 559.2,594.1 559.7,593.9 560.2,593.6 560.7,593.3 561.2,593.0 561.7,592.7 562.2,592.4 562.7,592.1 563.2,591.7 563.7,591.4 564.3,591.0 564.8,590.6 565.3,590.3 565.8,589.9 566.3,589.5 566.8,589.0 567.3,588.6 567.8,588.2 568.3,587.7 568.8,587.2 569.3,586.8 569.8,586.3 570.3,585.8 570.8,585.3 571.3,584.7 571.8,584.2 572.3,583.7 572.8,583.1 573.3,582.5 573.8,582.0 574.3,581.4 574.8,580.8 575.4,580.2 575.9,579.6 576.4,578.9 576.9,578.3 577.4,577.7 577.9,577.0 578.4,576.4 578.9,575.7 579.4,575.0 579.9,574.3 580.4,573.7 580.9,573.0 581.4,572.3 581.9,571.5 582.4,570.8 582.9,570.1 583.4,569.4 583.9,568.7 584.4,567.9 584.9,567.2 585.4,566.4 585.9,565.7 586.5,564.9 587.0,564.2 587.5,563.4 588.0,562.6 588.5,561.9 589.0,561.1 589.5,560.3 590.0,559.5 590.5,558.7 591.0,557.9 591.5,557.2 592.0,556.4 592.5,555.6 593.0,554.8 593.5,554.0 594.0,553.2 594.5,552.4 595.0,551.6 595.5,550.7" fill="none" stroke="#4d52b0" stroke-width="1.8"/>
<path d="M394.2,634.6 395.2,634.6 396.2,634.6 397.2,634.6 398.2,634.6 399.2,634.6 400.3,634.6 401.3,634.6 402.3,634.6 403.3,634.6 404.3,634.6 405.3,634.6 406.3,634.6 407.3,634.6 408.3,634.6 409.3,634.6 410.3,634.6 411.4,634.6 412.4,634.6 413.4,634.6 414.4,634.6 415.4,634.6 416.4,634.6 417.4,634.6 418.4,634.6 419.4,634.6 420.4,634.6 421.4,634.6 422.5,634.6 423.5,634.6 424.5,634.6 425.5,634.6 426.5,634.6 427.5,634.6 428.5,634.6 429.5,634.6 430.5,634.6 431.5,634.6 432.5,634.6 433.6,634.6 434.6,634.6 435.6,634.6 436.6,634.6 437.6,634.6 438.6,634.6 439.6,634.6 440.6,634.6 441.6,634.6 442.6,634.6 443.7,634.6 444.7,634.6 445.7,634.6 446.7,634.6 447.7,634.6 448.7,634.6 449.7,634.6 450.7,634.6 451.7,634.6 452.7,634.6 453.7,634.6 454.8,634.6 455.8,634.6 456.8,634.6 457.8,634.6 458.8,634.6 459.8,634.6 460.8,634.6 461.8,634.6 462.8,634.6 463.8,634.6 464.8,634.6 465.9,634.6 466.9,634.6 467.9,634.6 468.9,634.6 469.9,634.6 470.9,634.6 471.9,634.6 472.9,634.6 473.9,634.6 474.9,634.6 475.9,634.6 477.0,634.6 478.0,634.6 479.0,634.6 480.0,634.6 481.0,634.6 482.0,634.6 483.0,634.6 484.0,634.6 485.0,634.6 486.0,634.6 487.0,634.6 488.1,634.6 489.1,634.6 490.1,634.6 491.1,634.6 492.1,634.6 493.1,634.6 494.1,634.6 495.1,634.6 496.1,634.6 497.1,634.6 498.1,634.6 499.2,634.6 500.2,634.6 501.2,634.6 502.2,634.6 503.2,634.6 504.2,634.6 505.2,634.6 506.2,634.6 507.2,634.6 508.2,634.6 509.2,634.6 510.3,634.5 511.3,634.5 512.3,634.5 513.3,634.5 514.3,634.5 515.3,634.5 516.3,634.5 517.3,634.5 518.3,634.5 519.3,634.5 520.4,634.5 521.4,634.5 522.4,634.5 523.4,634.5 524.4,634.4 525.4,634.4 526.4,634.4 527.4,634.4 528.4,634.4 529.4,634.3 530.4,634.3 531.5,634.3 532.5,634.2 533.5,634.2 534.5,634.2 535.5,634.1 536.5,634.0 537.5,634.0 538.5,633.9 539.5,633.8 540.5,633.8 541.5,633.7 542.6,633.6 543.6,633.4 544.6,633.3 545.6,633.2 546.6,633.0 547.6,632.8 548.6,632.6 549.6,632.4 550.6,632.2 551.6,631.9 552.6,631.7 553.7,631.4 554.7,631.0 555.7,630.6 556.2,630.4 556.7,630.2 557.2,630.0 557.7,629.8 558.2,629.6 558.7,629.3 559.2,629.1 559.7,628.8 560.2,628.5 560.7,628.3 561.2,628.0 561.7,627.7 562.2,627.3 562.7,627.0 563.2,626.7 563.7,626.3 564.3,626.0 564.8,625.6 565.3,625.2 565.8,624.8 566.3,624.4 566.8,624.0 567.3,623.6 567.8,623.1 568.3,622.7 568.8,622.2 569.3,621.7 569.8,621.2 570.3,620.7 570.8,620.2 571.3,619.7 571.8,619.2 572.3,618.6 572.8,618.1 573.3,617.5 573.8,616.9 574.3,616.3 574.8,615.7 575.4,615.1 575.9,614.5 576.4,613.9 576.9,613.3 577.4,612.6 577.9,612.0 578.4,611.3 578.9,610.6 579.4,610.0 579.9,609.3 580.4,608.6 580.9,607.9 581.4,607.2 581.9,606.5 582.4,605.8 582.9,605.1 583.4,604.3 583.9,603.6 584.4,602.9 584.9,602.1 585.4,601.4 585.9,600.6 586.5,599.9 587.0,599.1 587.5,598.3 588.0,597.6 588.5,596.8 589.0,596.0 589.5,595.3 590.0,594.5 590.5,593.7 591.0,592.9 591.5,592.1 592.0,591.3 592.5,590.5 593.0,589.7 593.5,588.9 594.0,588.1 594.5,587.3 595.0,586.5 595.5,585.7" fill="none" stroke="#d278d6" stroke-width="1.8"/>
<line x1="585.10" y1="620.30" x2="551.50" y2="692.00" stroke="#222" stroke-width="1.1" />
<path d="M548.0,699.7 L548.3,690.4 L554.8,693.4 Z" fill="#222"/>
<text x="442.00" y="486.40" font-size="12.3" text-anchor="start" font-weight="bold" font-style="normal" fill="#111" font-family="Liberation Sans, sans-serif" textLength="37.5" lengthAdjust="spacingAndGlyphs"  stroke="#111">N = 10</text>
<text x="479.60" y="479.40" font-size="8.2" text-anchor="start" font-weight="bold" font-style="normal" fill="#111" font-family="Liberation Sans, sans-serif" textLength="8.0" lengthAdjust="spacingAndGlyphs"  stroke="#111">15</text>
<text x="491.60" y="486.40" font-size="12.3" text-anchor="start" font-weight="bold" font-style="normal" fill="#111" font-family="Liberation Sans, sans-serif" textLength="18.6" lengthAdjust="spacingAndGlyphs"  stroke="#111">cm</text>
<text x="509.60" y="479.90" font-size="8.2" text-anchor="start" font-weight="bold" font-style="normal" fill="#111" font-family="Liberation Sans, sans-serif" textLength="6.4" lengthAdjust="spacingAndGlyphs"  stroke="#111">-3</text>
<text x="442.20" y="522.20" font-size="12.3" text-anchor="start" font-weight="bold" font-style="normal" fill="#111" font-family="Liberation Sans, sans-serif" textLength="37.5" lengthAdjust="spacingAndGlyphs"  stroke="#111">N = 10</text>
<text x="479.80" y="515.20" font-size="8.2" text-anchor="start" font-weight="bold" font-style="normal" fill="#111" font-family="Liberation Sans, sans-serif" textLength="8.0" lengthAdjust="spacingAndGlyphs"  stroke="#111">16</text>
<text x="491.80" y="522.20" font-size="12.3" text-anchor="start" font-weight="bold" font-style="normal" fill="#111" font-family="Liberation Sans, sans-serif" textLength="18.6" lengthAdjust="spacingAndGlyphs"  stroke="#111">cm</text>
<text x="509.80" y="515.70" font-size="8.2" text-anchor="start" font-weight="bold" font-style="normal" fill="#111" font-family="Liberation Sans, sans-serif" textLength="6.4" lengthAdjust="spacingAndGlyphs"  stroke="#111">-3</text>
<text x="437.20" y="558.20" font-size="12.3" text-anchor="start" font-weight="bold" font-style="normal" fill="#111" font-family="Liberation Sans, sans-serif" textLength="37.5" lengthAdjust="spacingAndGlyphs"  stroke="#111">N = 10</text>
<text x="474.80" y="551.20" font-size="8.2" text-anchor="start" font-weight="bold" font-style="normal" fill="#111" font-family="Liberation Sans, sans-serif" textLength="8.0" lengthAdjust="spacingAndGlyphs"  stroke="#111">17</text>
<text x="486.80" y="558.20" font-size="12.3" text-anchor="start" font-weight="bold" font-style="normal" fill="#111" font-family="Liberation Sans, sans-serif" textLength="18.6" lengthAdjust="spacingAndGlyphs"  stroke="#111">cm</text>
<text x="504.80" y="551.70" font-size="8.2" text-anchor="start" font-weight="bold" font-style="normal" fill="#111" font-family="Liberation Sans, sans-serif" textLength="6.4" lengthAdjust="spacingAndGlyphs"  stroke="#111">-3</text>
<text x="431.70" y="591.50" font-size="12.3" text-anchor="start" font-weight="bold" font-style="normal" fill="#111" font-family="Liberation Sans, sans-serif" textLength="37.5" lengthAdjust="spacingAndGlyphs"  stroke="#111">N = 10</text>
<text x="469.30" y="584.50" font-size="8.2" text-anchor="start" font-weight="bold" font-style="normal" fill="#111" font-family="Liberation Sans, sans-serif" textLength="8.0" lengthAdjust="spacingAndGlyphs"  stroke="#111">18</text>
<text x="481.30" y="591.50" font-size="12.3" text-anchor="start" font-weight="bold" font-style="normal" fill="#111" font-family="Liberation Sans, sans-serif" textLength="18.6" lengthAdjust="spacingAndGlyphs"  stroke="#111">cm</text>
<text x="499.30" y="585.00" font-size="8.2" text-anchor="start" font-weight="bold" font-style="normal" fill="#111" font-family="Liberation Sans, sans-serif" textLength="6.4" lengthAdjust="spacingAndGlyphs"  stroke="#111">-3</text>
<text x="425.00" y="624.00" font-size="12.3" text-anchor="start" font-weight="bold" font-style="normal" fill="#111" font-family="Liberation Sans, sans-serif" textLength="37.5" lengthAdjust="spacingAndGlyphs"  stroke="#111">N = 10</text>
<text x="462.60" y="617.00" font-size="8.2" text-anchor="start" font-weight="bold" font-style="normal" fill="#111" font-family="Liberation Sans, sans-serif" textLength="8.0" lengthAdjust="spacingAndGlyphs"  stroke="#111">19</text>
<text x="474.60" y="624.00" font-size="12.3" text-anchor="start" font-weight="bold" font-style="normal" fill="#111" font-family="Liberation Sans, sans-serif" textLength="18.6" lengthAdjust="spacingAndGlyphs"  stroke="#111">cm</text>
<text x="492.60" y="617.50" font-size="8.2" text-anchor="start" font-weight="bold" font-style="normal" fill="#111" font-family="Liberation Sans, sans-serif" textLength="6.4" lengthAdjust="spacingAndGlyphs"  stroke="#111">-3</text>
<text x="34.60" y="760.70" font-size="19" text-anchor="start" font-weight="normal" font-style="normal" fill="#222" font-family="Liberation Sans, sans-serif" textLength="18.2" lengthAdjust="spacingAndGlyphs"  stroke="#222">10</text>
<text x="54.60" y="750.20" font-size="10.4" text-anchor="start" font-weight="normal" font-style="normal" fill="#222" font-family="Liberation Sans, sans-serif" textLength="10.0" lengthAdjust="spacingAndGlyphs"  stroke="#222">10</text>
<text x="34.60" y="725.92" font-size="19" text-anchor="start" font-weight="normal" font-style="normal" fill="#222" font-family="Liberation Sans, sans-serif" textLength="18.2" lengthAdjust="spacingAndGlyphs"  stroke="#222">10</text>
<text x="54.60" y="715.42" font-size="10.4" text-anchor="start" font-weight="normal" font-style="normal" fill="#222" font-family="Liberation Sans, sans-serif" textLength="10.0" lengthAdjust="spacingAndGlyphs"  stroke="#222">11</text>
<text x="34.60" y="691.14" font-size="19" text-anchor="start" font-weight="normal" font-style="normal" fill="#222" font-family="Liberation Sans, sans-serif" textLength="18.2" lengthAdjust="spacingAndGlyphs"  stroke="#222">10</text>
<text x="54.60" y="680.64" font-size="10.4" text-anchor="start" font-weight="normal" font-style="normal" fill="#222" font-family="Liberation Sans, sans-serif" textLength="10.0" lengthAdjust="spacingAndGlyphs"  stroke="#222">12</text>
<text x="34.60" y="656.36" font-size="19" text-anchor="start" font-weight="normal" font-style="normal" fill="#222" font-family="Liberation Sans, sans-serif" textLength="18.2" lengthAdjust="spacingAndGlyphs"  stroke="#222">10</text>
<text x="54.60" y="645.86" font-size="10.4" text-anchor="start" font-weight="normal" font-style="normal" fill="#222" font-family="Liberation Sans, sans-serif" textLength="10.0" lengthAdjust="spacingAndGlyphs"  stroke="#222">13</text>
<text x="34.60" y="621.58" font-size="19" text-anchor="start" font-weight="normal" font-style="normal" fill="#222" font-family="Liberation Sans, sans-serif" textLength="18.2" lengthAdjust="spacingAndGlyphs"  stroke="#222">10</text>
<text x="54.60" y="611.08" font-size="10.4" text-anchor="start" font-weight="normal" font-style="normal" fill="#222" font-family="Liberation Sans, sans-serif" textLength="10.0" lengthAdjust="spacingAndGlyphs"  stroke="#222">14</text>
<text x="34.60" y="586.80" font-size="19" text-anchor="start" font-weight="normal" font-style="normal" fill="#222" font-family="Liberation Sans, sans-serif" textLength="18.2" lengthAdjust="spacingAndGlyphs"  stroke="#222">10</text>
<text x="54.60" y="576.30" font-size="10.4" text-anchor="start" font-weight="normal" font-style="normal" fill="#222" font-family="Liberation Sans, sans-serif" textLength="10.0" lengthAdjust="spacingAndGlyphs"  stroke="#222">15</text>
<text x="34.60" y="552.02" font-size="19" text-anchor="start" font-weight="normal" font-style="normal" fill="#222" font-family="Liberation Sans, sans-serif" textLength="18.2" lengthAdjust="spacingAndGlyphs"  stroke="#222">10</text>
<text x="54.60" y="541.52" font-size="10.4" text-anchor="start" font-weight="normal" font-style="normal" fill="#222" font-family="Liberation Sans, sans-serif" textLength="10.0" lengthAdjust="spacingAndGlyphs"  stroke="#222">16</text>
<text x="34.60" y="517.24" font-size="19" text-anchor="start" font-weight="normal" font-style="normal" fill="#222" font-family="Liberation Sans, sans-serif" textLength="18.2" lengthAdjust="spacingAndGlyphs"  stroke="#222">10</text>
<text x="54.60" y="506.74" font-size="10.4" text-anchor="start" font-weight="normal" font-style="normal" fill="#222" font-family="Liberation Sans, sans-serif" textLength="10.0" lengthAdjust="spacingAndGlyphs"  stroke="#222">17</text>
<text x="34.60" y="482.46" font-size="19" text-anchor="start" font-weight="normal" font-style="normal" fill="#222" font-family="Liberation Sans, sans-serif" textLength="18.2" lengthAdjust="spacingAndGlyphs"  stroke="#222">10</text>
<text x="54.60" y="471.96" font-size="10.4" text-anchor="start" font-weight="normal" font-style="normal" fill="#222" font-family="Liberation Sans, sans-serif" textLength="10.0" lengthAdjust="spacingAndGlyphs"  stroke="#222">18</text>
<text x="34.60" y="447.68" font-size="19" text-anchor="start" font-weight="normal" font-style="normal" fill="#222" font-family="Liberation Sans, sans-serif" textLength="18.2" lengthAdjust="spacingAndGlyphs"  stroke="#222">10</text>
<text x="54.60" y="437.18" font-size="10.4" text-anchor="start" font-weight="normal" font-style="normal" fill="#222" font-family="Liberation Sans, sans-serif" textLength="10.0" lengthAdjust="spacingAndGlyphs"  stroke="#222">19</text>
<text x="59.95" y="780.50" font-size="19" text-anchor="start" font-weight="normal" font-style="normal" fill="#222" font-family="Liberation Sans, sans-serif" textLength="20.3" lengthAdjust="spacingAndGlyphs"  stroke="#222">10</text>
<text x="81.85" y="769.60" font-size="10.4" text-anchor="start" font-weight="normal" font-style="normal" fill="#222" font-family="Liberation Sans, sans-serif" textLength="5.6" lengthAdjust="spacingAndGlyphs"  stroke="#222">7</text>
<text x="101.60" y="780.50" font-size="19" text-anchor="start" font-weight="normal" font-style="normal" fill="#222" font-family="Liberation Sans, sans-serif" textLength="20.3" lengthAdjust="spacingAndGlyphs"  stroke="#222">10</text>
<text x="123.50" y="769.60" font-size="10.4" text-anchor="start" font-weight="normal" font-style="normal" fill="#222" font-family="Liberation Sans, sans-serif" textLength="5.6" lengthAdjust="spacingAndGlyphs"  stroke="#222">8</text>
<text x="143.25" y="780.50" font-size="19" text-anchor="start" font-weight="normal" font-style="normal" fill="#222" font-family="Liberation Sans, sans-serif" textLength="20.3" lengthAdjust="spacingAndGlyphs"  stroke="#222">10</text>
<text x="165.15" y="769.60" font-size="10.4" text-anchor="start" font-weight="normal" font-style="normal" fill="#222" font-family="Liberation Sans, sans-serif" textLength="5.6" lengthAdjust="spacingAndGlyphs"  stroke="#222">9</text>
<text x="182.50" y="780.50" font-size="19" text-anchor="start" font-weight="normal" font-style="normal" fill="#222" font-family="Liberation Sans, sans-serif" textLength="20.3" lengthAdjust="spacingAndGlyphs"  stroke="#222">10</text>
<text x="204.40" y="769.60" font-size="10.4" text-anchor="start" font-weight="normal" font-style="normal" fill="#222" font-family="Liberation Sans, sans-serif" textLength="10.4" lengthAdjust="spacingAndGlyphs"  stroke="#222">10</text>
<text x="224.15" y="780.50" font-size="19" text-anchor="start" font-weight="normal" font-style="normal" fill="#222" font-family="Liberation Sans, sans-serif" textLength="20.3" lengthAdjust="spacingAndGlyphs"  stroke="#222">10</text>
<text x="246.05" y="769.60" font-size="10.4" text-anchor="start" font-weight="normal" font-style="normal" fill="#222" font-family="Liberation Sans, sans-serif" textLength="10.4" lengthAdjust="spacingAndGlyphs"  stroke="#222">11</text>
<text x="265.80" y="780.50" font-size="19" text-anchor="start" font-weight="normal" font-style="normal" fill="#222" font-family="Liberation Sans, sans-serif" textLength="20.3" lengthAdjust="spacingAndGlyphs"  stroke="#222">10</text>
<text x="287.70" y="769.60" font-size="10.4" text-anchor="start" font-weight="normal" font-style="normal" fill="#222" font-family="Liberation Sans, sans-serif" textLength="10.4" lengthAdjust="spacingAndGlyphs"  stroke="#222">12</text>
<text x="355.50" y="760.70" font-size="19" text-anchor="start" font-weight="normal" font-style="normal" fill="#222" font-family="Liberation Sans, sans-serif" textLength="18.2" lengthAdjust="spacingAndGlyphs"  stroke="#222">10</text>
<text x="375.50" y="750.20" font-size="10.4" text-anchor="start" font-weight="normal" font-style="normal" fill="#222" font-family="Liberation Sans, sans-serif" textLength="10.0" lengthAdjust="spacingAndGlyphs"  stroke="#222">10</text>
<text x="355.50" y="725.92" font-size="19" text-anchor="start" font-weight="normal" font-style="normal" fill="#222" font-family="Liberation Sans, sans-serif" textLength="18.2" lengthAdjust="spacingAndGlyphs"  stroke="#222">10</text>
<text x="375.50" y="715.42" font-size="10.4" text-anchor="start" font-weight="normal" font-style="normal" fill="#222" font-family="Liberation Sans, sans-serif" textLength="10.0" lengthAdjust="spacingAndGlyphs"  stroke="#222">11</text>
<text x="355.50" y="691.14" font-size="19" text-anchor="start" font-weight="normal" font-style="normal" fill="#222" font-family="Liberation Sans, sans-serif" textLength="18.2" lengthAdjust="spacingAndGlyphs"  stroke="#222">10</text>
<text x="375.50" y="680.64" font-size="10.4" text-anchor="start" font-weight="normal" font-style="normal" fill="#222" font-family="Liberation Sans, sans-serif" textLength="10.0" lengthAdjust="spacingAndGlyphs"  stroke="#222">12</text>
<text x="355.50" y="656.36" font-size="19" text-anchor="start" font-weight="normal" font-style="normal" fill="#222" font-family="Liberation Sans, sans-serif" textLength="18.2" lengthAdjust="spacingAndGlyphs"  stroke="#222">10</text>
<text x="375.50" y="645.86" font-size="10.4" text-anchor="start" font-weight="normal" font-style="normal" fill="#222" font-family="Liberation Sans, sans-serif" textLength="10.0" lengthAdjust="spacingAndGlyphs"  stroke="#222">13</text>
<text x="355.50" y="621.58" font-size="19" text-anchor="start" font-weight="normal" font-style="normal" fill="#222" font-family="Liberation Sans, sans-serif" textLength="18.2" lengthAdjust="spacingAndGlyphs"  stroke="#222">10</text>
<text x="375.50" y="611.08" font-size="10.4" text-anchor="start" font-weight="normal" font-style="normal" fill="#222" font-family="Liberation Sans, sans-serif" textLength="10.0" lengthAdjust="spacingAndGlyphs"  stroke="#222">14</text>
<text x="355.50" y="586.80" font-size="19" text-anchor="start" font-weight="normal" font-style="normal" fill="#222" font-family="Liberation Sans, sans-serif" textLength="18.2" lengthAdjust="spacingAndGlyphs"  stroke="#222">10</text>
<text x="375.50" y="576.30" font-size="10.4" text-anchor="start" font-weight="normal" font-style="normal" fill="#222" font-family="Liberation Sans, sans-serif" textLength="10.0" lengthAdjust="spacingAndGlyphs"  stroke="#222">15</text>
<text x="355.50" y="552.02" font-size="19" text-anchor="start" font-weight="normal" font-style="normal" fill="#222" font-family="Liberation Sans, sans-serif" textLength="18.2" lengthAdjust="spacingAndGlyphs"  stroke="#222">10</text>
<text x="375.50" y="541.52" font-size="10.4" text-anchor="start" font-weight="normal" font-style="normal" fill="#222" font-family="Liberation Sans, sans-serif" textLength="10.0" lengthAdjust="spacingAndGlyphs"  stroke="#222">16</text>
<text x="355.50" y="517.24" font-size="19" text-anchor="start" font-weight="normal" font-style="normal" fill="#222" font-family="Liberation Sans, sans-serif" textLength="18.2" lengthAdjust="spacingAndGlyphs"  stroke="#222">10</text>
<text x="375.50" y="506.74" font-size="10.4" text-anchor="start" font-weight="normal" font-style="normal" fill="#222" font-family="Liberation Sans, sans-serif" textLength="10.0" lengthAdjust="spacingAndGlyphs"  stroke="#222">17</text>
<text x="355.50" y="482.46" font-size="19" text-anchor="start" font-weight="normal" font-style="normal" fill="#222" font-family="Liberation Sans, sans-serif" textLength="18.2" lengthAdjust="spacingAndGlyphs"  stroke="#222">10</text>
<text x="375.50" y="471.96" font-size="10.4" text-anchor="start" font-weight="normal" font-style="normal" fill="#222" font-family="Liberation Sans, sans-serif" textLength="10.0" lengthAdjust="spacingAndGlyphs"  stroke="#222">18</text>
<text x="355.50" y="447.68" font-size="19" text-anchor="start" font-weight="normal" font-style="normal" fill="#222" font-family="Liberation Sans, sans-serif" textLength="18.2" lengthAdjust="spacingAndGlyphs"  stroke="#222">10</text>
<text x="375.50" y="437.18" font-size="10.4" text-anchor="start" font-weight="normal" font-style="normal" fill="#222" font-family="Liberation Sans, sans-serif" textLength="10.0" lengthAdjust="spacingAndGlyphs"  stroke="#222">19</text>
<text x="380.85" y="780.50" font-size="19" text-anchor="start" font-weight="normal" font-style="normal" fill="#222" font-family="Liberation Sans, sans-serif" textLength="20.3" lengthAdjust="spacingAndGlyphs"  stroke="#222">10</text>
<text x="402.75" y="769.60" font-size="10.4" text-anchor="start" font-weight="normal" font-style="normal" fill="#222" font-family="Liberation Sans, sans-serif" textLength="5.6" lengthAdjust="spacingAndGlyphs"  stroke="#222">7</text>
<text x="422.50" y="780.50" font-size="19" text-anchor="start" font-weight="normal" font-style="normal" fill="#222" font-family="Liberation Sans, sans-serif" textLength="20.3" lengthAdjust="spacingAndGlyphs"  stroke="#222">10</text>
<text x="444.40" y="769.60" font-size="10.4" text-anchor="start" font-weight="normal" font-style="normal" fill="#222" font-family="Liberation Sans, sans-serif" textLength="5.6" lengthAdjust="spacingAndGlyphs"  stroke="#222">8</text>
<text x="464.15" y="780.50" font-size="19" text-anchor="start" font-weight="normal" font-style="normal" fill="#222" font-family="Liberation Sans, sans-serif" textLength="20.3" lengthAdjust="spacingAndGlyphs"  stroke="#222">10</text>
<text x="486.05" y="769.60" font-size="10.4" text-anchor="start" font-weight="normal" font-style="normal" fill="#222" font-family="Liberation Sans, sans-serif" textLength="5.6" lengthAdjust="spacingAndGlyphs"  stroke="#222">9</text>
<text x="503.40" y="780.50" font-size="19" text-anchor="start" font-weight="normal" font-style="normal" fill="#222" font-family="Liberation Sans, sans-serif" textLength="20.3" lengthAdjust="spacingAndGlyphs"  stroke="#222">10</text>
<text x="525.30" y="769.60" font-size="10.4" text-anchor="start" font-weight="normal" font-style="normal" fill="#222" font-family="Liberation Sans, sans-serif" textLength="10.4" lengthAdjust="spacingAndGlyphs"  stroke="#222">10</text>
<text x="545.05" y="780.50" font-size="19" text-anchor="start" font-weight="normal" font-style="normal" fill="#222" font-family="Liberation Sans, sans-serif" textLength="20.3" lengthAdjust="spacingAndGlyphs"  stroke="#222">10</text>
<text x="566.95" y="769.60" font-size="10.4" text-anchor="start" font-weight="normal" font-style="normal" fill="#222" font-family="Liberation Sans, sans-serif" textLength="10.4" lengthAdjust="spacingAndGlyphs"  stroke="#222">11</text>
<text x="586.70" y="780.50" font-size="19" text-anchor="start" font-weight="normal" font-style="normal" fill="#222" font-family="Liberation Sans, sans-serif" textLength="20.3" lengthAdjust="spacingAndGlyphs"  stroke="#222">10</text>
<text x="608.60" y="769.60" font-size="10.4" text-anchor="start" font-weight="normal" font-style="normal" fill="#222" font-family="Liberation Sans, sans-serif" textLength="10.4" lengthAdjust="spacingAndGlyphs"  stroke="#222">12</text>
<text x="121.60" y="811.70" font-size="16.3" text-anchor="start" font-weight="normal" font-style="normal" fill="#222" font-family="Liberation Sans, sans-serif" textLength="112.5" lengthAdjust="spacingAndGlyphs"  stroke="#222">Frequency (Hz)</text>
<text x="442.20" y="810.60" font-size="16.3" text-anchor="start" font-weight="normal" font-style="normal" fill="#222" font-family="Liberation Sans, sans-serif" textLength="112.5" lengthAdjust="spacingAndGlyphs"  stroke="#222">Frequency (Hz)</text>
<text x="11.80" y="818.60" font-size="24" text-anchor="start" font-weight="bold" font-style="normal" fill="#111" font-family="Liberation Sans, sans-serif"  stroke="#111">c</text>
<text x="368.00" y="819.70" font-size="22.5" text-anchor="start" font-weight="bold" font-style="normal" fill="#111" font-family="Liberation Sans, sans-serif"  stroke="#111">d</text>
<g transform="rotate(-90)" fill="#222" stroke="#222"><text x="-752.2" y="20.4" font-size="19.5" font-style="italic" font-family="Liberation Serif, serif">f</text><text x="-737.5" y="20.7" font-size="22" font-family="Liberation Serif, serif">&#215;</text><text x="-719.5" y="20.4" font-size="19.5" font-style="italic" font-family="Liberation Serif, serif">Q</text><text x="-705.5" y="12.799999999999999" font-size="17" font-style="italic" font-family="Liberation Serif, serif" textLength="15.3" lengthAdjust="spacingAndGlyphs">pe</text><text x="-686.0" y="18.2" font-size="19" font-family="Liberation Sans, sans-serif" textLength="252.7" lengthAdjust="spacingAndGlyphs">(Hz) via piezoelectric coupling</text></g>
<g transform="rotate(-90)" fill="#222" stroke="#222"><text x="-711.7" y="334.8" font-size="19.5" font-style="italic" font-family="Liberation Serif, serif">f</text><text x="-697.0" y="335.1" font-size="22" font-family="Liberation Serif, serif">&#215;</text><text x="-679.0" y="334.8" font-size="19.5" font-style="italic" font-family="Liberation Serif, serif">Q</text><text x="-665.0" y="327.2" font-size="17" font-style="italic" font-family="Liberation Serif, serif" textLength="15.3" lengthAdjust="spacingAndGlyphs">pe</text><text x="-645.1" y="332.6" font-size="19" font-family="Liberation Sans, sans-serif" textLength="172.5" lengthAdjust="spacingAndGlyphs">(Hz) via DP coupling</text></g>
</svg>
</body></html>
